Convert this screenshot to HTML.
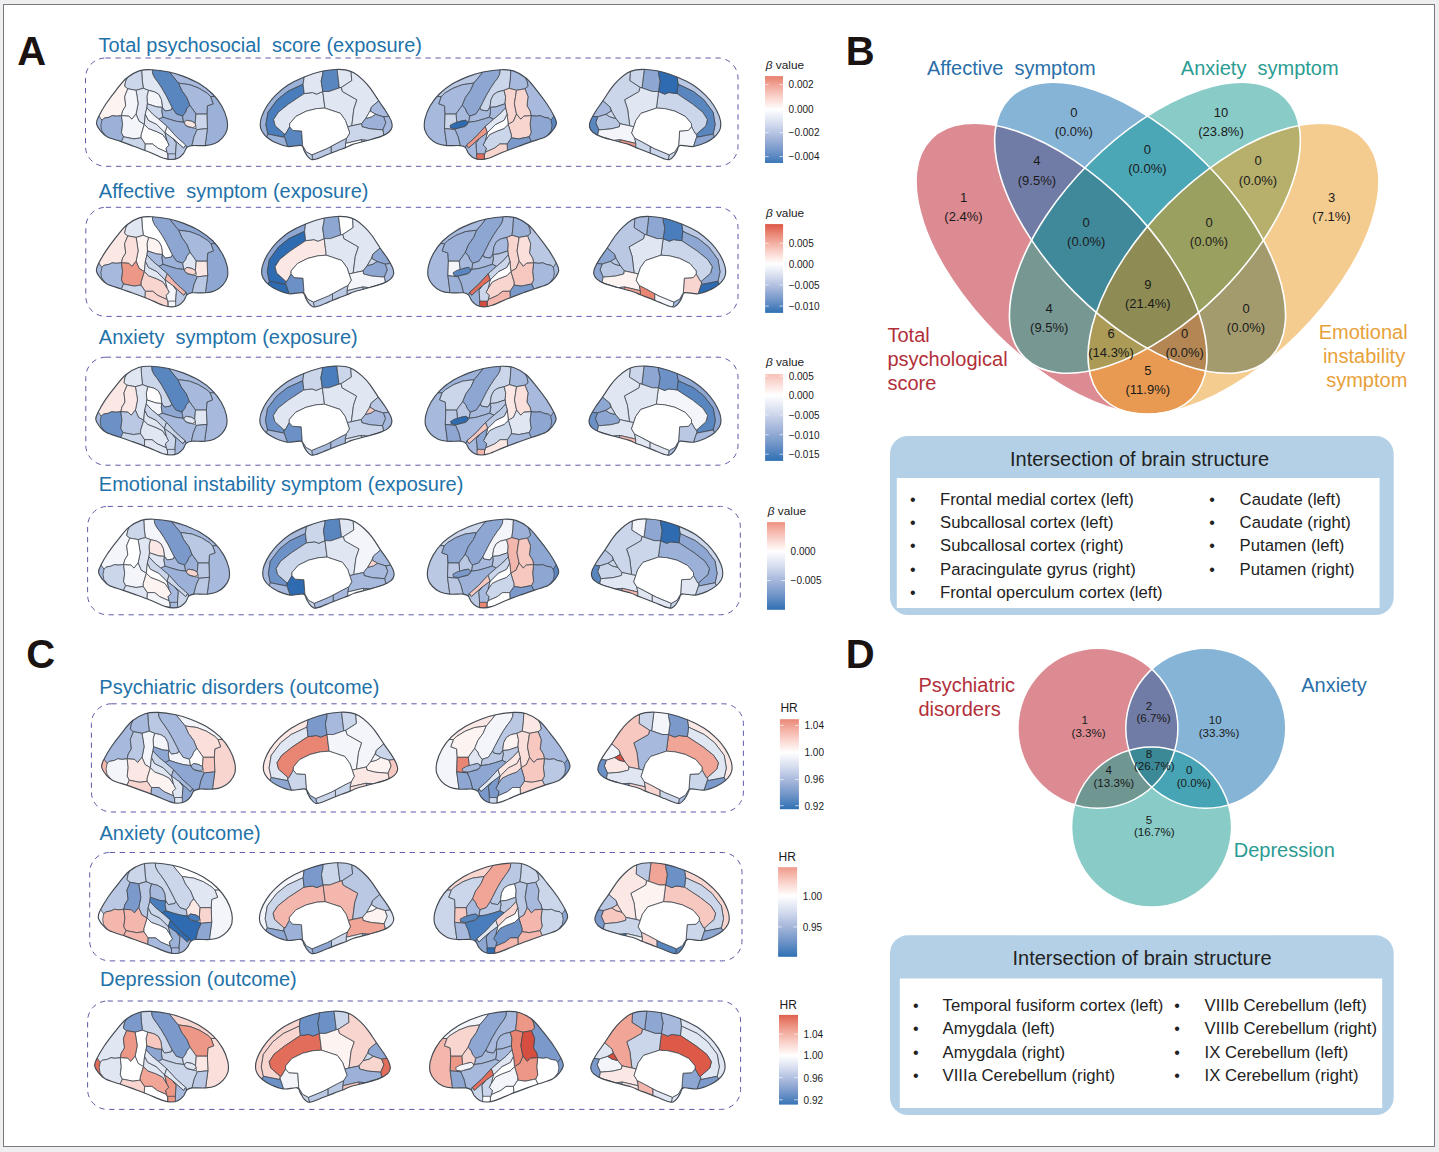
<!DOCTYPE html>
<html><head><meta charset="utf-8"><title>Figure</title>
<style>html,body{margin:0;padding:0;background:#efeff1}body{width:1439px;height:1152px;overflow:hidden}svg{display:block;font-family:"Liberation Sans", sans-serif}</style>
</head><body>
<svg width="1439" height="1152" viewBox="0 0 1439 1152">
<rect x="0" y="0" width="1439" height="1152" fill="#efeff1"/>
<rect x="3.5" y="4.5" width="1431" height="1142" fill="#ffffff" stroke="#7a7a7a" stroke-width="1"/>
<text x="17.3" y="65.3" font-size="40" fill="#1a1311" font-weight="bold">A</text>
<text x="845.8" y="65.2" font-size="40" fill="#1a1311" font-weight="bold">B</text>
<text x="26.3" y="667.9" font-size="40" fill="#1a1311" font-weight="bold">C</text>
<text x="845.8" y="668.1" font-size="40" fill="#1a1311" font-weight="bold">D</text>
<text x="98.5" y="51.5" font-size="20" fill="#1f72a9" xml:space="preserve">Total psychosocial  score (exposure)</text>
<rect x="85.5" y="58" width="652.5" height="108.3" rx="20" ry="20" fill="none" stroke="#5353a3" stroke-width="0.95" stroke-dasharray="5.3 4.7"/>
<clipPath id="c1"><path d="M126.7,78C130.5,74.8 135,72.3 139.1,70.9C143.3,69.6 146.6,69.5 151.6,69.7C156.6,69.9 163.8,70.9 169.1,72C174.5,73.1 178.6,74.5 183.6,76.4C188.6,78.4 194.3,80.7 199.1,83.6C204,86.6 208.8,90.2 212.6,94C216.4,97.7 219.5,102.1 221.9,106.3C224.3,110.6 226,115.4 226.9,119.2C227.7,123.1 227.8,126.5 227.1,129.6C226.3,132.7 224.5,135.5 222.4,137.8C220.4,140.1 217.5,142.2 214.7,143.5C211.8,144.8 209.1,145.2 205.4,145.6C201.6,145.9 195,145.2 191.9,145.6C188.8,145.9 188.1,146.3 186.7,147.6C185.4,148.9 185,151.6 183.6,153.3C182.2,155 180.5,156.9 178.5,158C176.4,159 173.8,159.5 171.2,159.5C168.6,159.5 166.7,159.2 162.9,158C159.1,156.7 153.6,153.8 148.4,151.8C143.3,149.7 136.6,147.3 131.9,145.6C127.2,143.8 124.7,142.9 120.5,141.4C116.4,140 110.4,138.6 107.1,136.8C103.7,135 102.1,132.8 100.3,130.6C98.6,128.4 96.8,125.8 96.5,123.4C96.3,121 97.2,119.4 98.8,116.2C100.4,112.9 103.1,108.2 106,103.8C109,99.4 112.9,94.1 116.4,89.8C119.8,85.5 122.9,81.1 126.7,78Z"/></clipPath>
<path d="M126.7,78C130.5,74.8 135,72.3 139.1,70.9C143.3,69.6 146.6,69.5 151.6,69.7C156.6,69.9 163.8,70.9 169.1,72C174.5,73.1 178.6,74.5 183.6,76.4C188.6,78.4 194.3,80.7 199.1,83.6C204,86.6 208.8,90.2 212.6,94C216.4,97.7 219.5,102.1 221.9,106.3C224.3,110.6 226,115.4 226.9,119.2C227.7,123.1 227.8,126.5 227.1,129.6C226.3,132.7 224.5,135.5 222.4,137.8C220.4,140.1 217.5,142.2 214.7,143.5C211.8,144.8 209.1,145.2 205.4,145.6C201.6,145.9 195,145.2 191.9,145.6C188.8,145.9 188.1,146.3 186.7,147.6C185.4,148.9 185,151.6 183.6,153.3C182.2,155 180.5,156.9 178.5,158C176.4,159 173.8,159.5 171.2,159.5C168.6,159.5 166.7,159.2 162.9,158C159.1,156.7 153.6,153.8 148.4,151.8C143.3,149.7 136.6,147.3 131.9,145.6C127.2,143.8 124.7,142.9 120.5,141.4C116.4,140 110.4,138.6 107.1,136.8C103.7,135 102.1,132.8 100.3,130.6C98.6,128.4 96.8,125.8 96.5,123.4C96.3,121 97.2,119.4 98.8,116.2C100.4,112.9 103.1,108.2 106,103.8C109,99.4 112.9,94.1 116.4,89.8C119.8,85.5 122.9,81.1 126.7,78Z" fill="#ffffff"/>
<g clip-path="url(#c1)" stroke="#41474f" stroke-width="0.8" stroke-linejoin="round">
<path d="M127.2,78L125.7,81.1L124.7,86.2L127.8,88.8L124.7,96.5L125.7,105.8L122.6,111L121.5,115.6L116.4,116.2L112.2,115.6L109.1,117.2L104,118.2L101.9,120.3L90.5,120.3L90.5,62.5L127.2,62.5Z" fill="#fdf3f1"/>
<path d="M101.9,120.3L104,118.2L109.1,117.2L112.2,115.6L116.4,116.2L121.5,115.6L122.6,124.4L121.5,132.7L123.6,136.8L121.5,141.4L121.5,165.7L90.5,165.7L90.5,120.3Z" fill="#9cb1d8"/>
<path d="M90.5,114.1L98.8,115.6L101.9,120.3L100.9,125.4L101.7,130.6L106,136.3L106,165.7L90.5,165.7Z" fill="#a7b9dc"/>
<path d="M169.7,62.5L219.8,62.5L219.8,96.5L210.5,96.5L207.4,93.4L199.1,88.3L189.8,84.7L178.5,83.1L173.3,76.9L169.7,72.3Z" fill="#a7b9dc"/>
<path d="M210.5,96.5L213.1,103.8L207.4,105.8L206.9,114.1L207.4,128.5L205.4,144L205.4,165.7L235.4,165.7L235.4,96.5Z" fill="#9cb1d8"/>
<path d="M178.5,83.1L189.8,84.7L199.1,88.3L207.4,93.4L210.5,96.5L213.1,103.8L207.4,105.8L206.9,114.1L196,114.1L194,111L189.8,105.3L186.7,97.6L181.6,90.3Z" fill="#a7b9dc"/>
<path d="M151.6,62.5L169.7,62.5L169.7,72.3L173.3,76.9L178.5,83.1L181.6,90.3L186.7,97.6L189.8,105.3L186.7,108.9L185.7,112L182.6,116.2L176.4,114.1L172.2,107.9L170.2,103.8L166,95.5L161.9,88.3L157.8,82.1L154.7,78L152.6,73.8Z" fill="#5a86c0"/>
<path d="M141.2,62.5L151.6,62.5L152.6,73.8L154.7,78L157.8,82.1L161.9,88.3L166,95.5L170.2,103.8L172.2,107.9L171.2,110L165,111L162.4,107.4L161.4,99.6L158.8,94.5L154.7,91.9L148.4,90.3L143.3,88.3L142.2,80Z" fill="#e0e7f3"/>
<path d="M116.4,62.5L141.2,62.5L142.2,80L143.3,88.3L136,90.3L127.8,88.8L124.7,86.2L125.7,81.1L127.2,78L116.4,78Z" fill="#cbd6ea"/>
<path d="M148.4,90.3L154.7,91.9L158.8,94.5L161.4,99.6L162.4,107.4L156.7,106.9L147.4,103.8L146.9,96.5Z" fill="#f3f5fa"/>
<path d="M136,90.3L143.3,88.3L148.4,90.3L146.9,96.5L147.4,103.8L146.9,107.9L145.3,114.1L144.3,124.4L139.1,121.3L136,114.1L138.1,103.8L137.1,96.5Z" fill="#e0e7f3"/>
<path d="M127.8,88.8L136,90.3L137.1,96.5L138.1,103.8L136,114.1L131.9,119.2L128.8,116.2L121.5,115.6L122.6,111L125.7,105.8L124.7,96.5Z" fill="#f3f5fa"/>
<path d="M121.5,115.6L128.8,116.2L131.9,119.2L136,114.1L139.1,121.3L144.3,124.4L141.2,134.7L141.2,137.8L134,138.9L123.6,136.8L121.5,132.7L122.6,124.4Z" fill="#f3f5fa"/>
<path d="M121.5,141.4L123.6,136.8L134,138.9L141.2,137.8L145.3,144L144.3,165.7L121.5,165.7Z" fill="#cbd6ea"/>
<path d="M144.3,124.4L148.4,128.5L156.7,131.6L162.9,134.7L167.1,140.9L169.1,145.1L166,148.1L167.1,152.3L157.8,148.1L152.6,144L145.3,144L141.2,137.8L141.2,134.7Z" fill="#ffffff"/>
<path d="M145.3,144L152.6,144L157.8,148.1L167.1,152.3L168.1,155.4L168.1,165.7L144.3,165.7Z" fill="#f3f5fa"/>
<path d="M145.3,114.1L148.4,120.3L156.7,124.4L165,132.7L167.1,140.9L162.9,134.7L156.7,131.6L148.4,128.5L144.3,124.4Z" fill="#e0e7f3"/>
<path d="M147.4,103.8L156.7,106.9L162.4,107.4L161.9,111L162.9,117.2L158.8,119.2L152.6,114.1L146.9,107.9Z" fill="#cbd6ea"/>
<path d="M161.9,111L162.4,107.4L165,111L171.2,110L172.2,107.9L176.4,114.1L182.6,116.2L183.6,122.3L176.4,121.3L169.1,119.2L162.9,117.2Z" fill="#9cb1d8"/>
<path d="M162.9,117.2L169.1,119.2L176.4,121.3L183.6,122.3L186.7,126.5L196,128.5L197.1,129.6L194,136.8L191.9,145.6L191.9,148.1L186.7,148.1L185.7,145.1L176.4,136.8L167.1,126.5L158.8,119.2Z" fill="#9cb1d8"/>
<path d="M146.9,107.9L152.6,114.1L158.8,119.2L167.1,126.5L165,132.7L156.7,124.4L148.4,120.3L145.3,114.1Z" fill="#f3f5fa"/>
<path d="M167.1,126.5L176.4,136.8L185.7,145.1L183.6,148.1L173.3,138.9L165,132.7Z" fill="#f3f5fa"/>
<path d="M189.8,105.3L194,111L196,114.1L195.2,123.4L191.9,121.3L186.7,120.3L184.7,121.8L183.6,122.3L182.6,116.2L185.7,112L186.7,108.9Z" fill="#9cb1d8"/>
<path d="M196,114.1L206.9,114.1L207.4,128.5L197.1,129.6L196,128.5L195.8,126L195.2,123.4Z" fill="#cbd6ea"/>
<path d="M184.7,121.8L186.7,120.3L191.9,121.3L195.2,123.4L195.8,126L192.9,127.7L187.8,126.3L184.7,124.2Z" fill="#fbe8e5"/>
<path d="M197.1,129.6L207.4,128.5L205.4,144L205.4,165.7L191.9,165.7L191.9,145.6L194,136.8Z" fill="#bac8e3"/>
<path d="M167.1,140.9L165,132.7L173.3,138.9L176.4,143L175.4,155.4L172.2,165.7L168.1,165.7L168.1,155.4L167.1,152.3L166,148.1L169.1,145.1Z" fill="#bac8e3"/>
<path d="M173.3,138.9L183.6,148.1L185.7,145.1L186.7,148.1L191.9,148.1L191.9,165.7L172.2,165.7L175.4,155.4L176.4,143Z" fill="#bac8e3"/>
<path d="M168.1,153.8L175.6,153.8L175.6,165.7L168.1,165.7Z" fill="#bac8e3"/>
</g>
<path d="M126.7,78C130.5,74.8 135,72.3 139.1,70.9C143.3,69.6 146.6,69.5 151.6,69.7C156.6,69.9 163.8,70.9 169.1,72C174.5,73.1 178.6,74.5 183.6,76.4C188.6,78.4 194.3,80.7 199.1,83.6C204,86.6 208.8,90.2 212.6,94C216.4,97.7 219.5,102.1 221.9,106.3C224.3,110.6 226,115.4 226.9,119.2C227.7,123.1 227.8,126.5 227.1,129.6C226.3,132.7 224.5,135.5 222.4,137.8C220.4,140.1 217.5,142.2 214.7,143.5C211.8,144.8 209.1,145.2 205.4,145.6C201.6,145.9 195,145.2 191.9,145.6C188.8,145.9 188.1,146.3 186.7,147.6C185.4,148.9 185,151.6 183.6,153.3C182.2,155 180.5,156.9 178.5,158C176.4,159 173.8,159.5 171.2,159.5C168.6,159.5 166.7,159.2 162.9,158C159.1,156.7 153.6,153.8 148.4,151.8C143.3,149.7 136.6,147.3 131.9,145.6C127.2,143.8 124.7,142.9 120.5,141.4C116.4,140 110.4,138.6 107.1,136.8C103.7,135 102.1,132.8 100.3,130.6C98.6,128.4 96.8,125.8 96.5,123.4C96.3,121 97.2,119.4 98.8,116.2C100.4,112.9 103.1,108.2 106,103.8C109,99.4 112.9,94.1 116.4,89.8C119.8,85.5 122.9,81.1 126.7,78Z" fill="none" stroke="#434951" stroke-width="1.15"/>
<clipPath id="c2"><path d="M260.2,124.7C260.2,122.3 260.6,119.5 261.8,116.4C262.9,113.3 264.7,109.5 266.9,106C269.2,102.6 271.8,99.1 275.2,95.7C278.6,92.2 282.8,88.4 287.6,85.3C292.4,82.2 298.5,79.3 304.2,77C309.9,74.6 316.6,72.5 321.8,71.3C326.9,70 331.2,69.7 335.2,69.5C339.2,69.3 342.4,69.4 345.5,69.9C348.7,70.5 350.9,71.1 353.8,72.8C356.8,74.5 360.4,77.5 363.1,80.1C365.9,82.7 367.8,84.9 370.4,88.4C373,91.9 376.1,97 378.7,100.8C381.2,104.7 383.8,107.9 385.9,111.2C388,114.5 390,118 391.1,120.6C392.1,123.2 392.4,124.9 392.1,126.8C391.8,128.7 390.7,130.4 389,132C387.3,133.5 385.2,134.8 381.8,136.1C378.3,137.5 373.1,138.9 368.3,140.3C363.5,141.7 356.6,143.2 352.8,144.4C349,145.7 348.1,146.5 345.5,147.6C343,148.6 340.4,149.5 337.3,150.7C334.2,151.9 330.4,153.4 326.9,154.8C323.5,156.2 319.2,158.2 316.6,159C314,159.8 313,160 311.4,159.5C309.9,159 308.5,157.3 307.3,155.9C306.1,154.4 305.2,152.4 304.2,150.7C303.1,148.9 303.8,146.2 301.1,145.5C298.3,144.8 291.9,147 287.6,146.5C283.3,146 278.6,143.9 275.2,142.4C271.8,140.8 269.2,139.1 266.9,137.2C264.7,135.3 262.9,133 261.8,131C260.6,128.9 260.2,127.1 260.2,124.7Z"/></clipPath>
<path d="M260.2,124.7C260.2,122.3 260.6,119.5 261.8,116.4C262.9,113.3 264.7,109.5 266.9,106C269.2,102.6 271.8,99.1 275.2,95.7C278.6,92.2 282.8,88.4 287.6,85.3C292.4,82.2 298.5,79.3 304.2,77C309.9,74.6 316.6,72.5 321.8,71.3C326.9,70 331.2,69.7 335.2,69.5C339.2,69.3 342.4,69.4 345.5,69.9C348.7,70.5 350.9,71.1 353.8,72.8C356.8,74.5 360.4,77.5 363.1,80.1C365.9,82.7 367.8,84.9 370.4,88.4C373,91.9 376.1,97 378.7,100.8C381.2,104.7 383.8,107.9 385.9,111.2C388,114.5 390,118 391.1,120.6C392.1,123.2 392.4,124.9 392.1,126.8C391.8,128.7 390.7,130.4 389,132C387.3,133.5 385.2,134.8 381.8,136.1C378.3,137.5 373.1,138.9 368.3,140.3C363.5,141.7 356.6,143.2 352.8,144.4C349,145.7 348.1,146.5 345.5,147.6C343,148.6 340.4,149.5 337.3,150.7C334.2,151.9 330.4,153.4 326.9,154.8C323.5,156.2 319.2,158.2 316.6,159C314,159.8 313,160 311.4,159.5C309.9,159 308.5,157.3 307.3,155.9C306.1,154.4 305.2,152.4 304.2,150.7C303.1,148.9 303.8,146.2 301.1,145.5C298.3,144.8 291.9,147 287.6,146.5C283.3,146 278.6,143.9 275.2,142.4C271.8,140.8 269.2,139.1 266.9,137.2C264.7,135.3 262.9,133 261.8,131C260.6,128.9 260.2,127.1 260.2,124.7Z" fill="#ffffff"/>
<g clip-path="url(#c2)" stroke="#41474f" stroke-width="0.8" stroke-linejoin="round">
<path d="M254.5,62.4L304.2,62.4L304.2,77L303.1,84.2L287.6,91.5L277.3,99.8L268,112.3L265.9,124.7L268,134.1L254.5,166.2Z" fill="#9cb1d8"/>
<path d="M303.1,84.2L304.2,93.6L288.6,104L278.3,112.3L273.6,119.5L275.2,125.8L284.5,134.1L283.5,137.2L268,134.1L265.9,124.7L268,112.3L277.3,99.8L287.6,91.5Z" fill="#4a7dbb"/>
<path d="M304.2,93.6L312.4,92.5L316.6,94.1L322.8,91.5L324.9,108.1L316.6,108.6L306.2,111.2L295.9,116.4L289.7,123.7L289.7,126.8L285.5,134.1L284.5,134.1L275.2,125.8L273.6,119.5L278.3,112.3L288.6,104Z" fill="#e0e7f3"/>
<path d="M304.2,62.4L322.8,62.4L322.8,73.9L321.2,81.1L322.8,91.5L316.6,94.1L312.4,92.5L304.2,93.6L303.1,84.2L304.2,77Z" fill="#e0e7f3"/>
<path d="M322.8,62.4L337.3,62.4L337.3,70.7L339.3,87.9L329,91.5L322.8,91.5L321.2,81.1L322.8,73.9Z" fill="#5a86c0"/>
<path d="M337.3,62.4L351.8,62.4L351.2,73.3L351.8,80.6L341.4,87.4L339.3,87.9L337.3,70.7Z" fill="#e0e7f3"/>
<path d="M322.8,91.5L329,91.5L339.3,87.9L341.4,87.4L342.4,91.5L356.9,99.8L353.8,109.2L351.8,125.8L347.6,126.8L345.5,120.6L340.4,113.3L331.1,110.2L324.9,108.1Z" fill="#e0e7f3"/>
<path d="M351.8,62.4L399.3,62.4L399.3,100.8L378.7,100.8L371.4,107.1L369.3,112.3L365.7,118.5L361.6,123.7L351.8,125.8L353.8,109.2L356.9,99.8L342.4,91.5L341.4,87.4L351.8,80.6L351.2,73.3Z" fill="#e0e7f3"/>
<path d="M378.7,100.8L399.3,100.8L399.3,116.4L388,116.4L383.8,116.9L375.5,114.3L370.4,111.2L371.4,107.1Z" fill="#a7b9dc"/>
<path d="M365.7,118.5L371.4,116.9L375.5,114.3L383.8,116.9L385.9,122.6L382.8,129.9L370.4,128.9L362.1,126.8L361.6,123.7Z" fill="#9cb1d8"/>
<path d="M369.3,112.3L370.4,111.2L375.5,114.3L371.4,116.9L365.7,118.5Z" fill="#ffffff"/>
<path d="M383.8,116.9L388,116.4L399.3,116.4L399.3,135.1L383.8,135.1L382.8,129.9L385.9,122.6Z" fill="#a7b9dc"/>
<path d="M351.8,125.8L361.6,123.7L362.1,126.8L370.4,128.9L382.8,129.9L383.8,135.1L381.8,136.4L368.3,140.5L361.1,139.8L345.5,143.4L346.6,138.2L349.7,133L347.6,126.8Z" fill="#cbd6ea"/>
<path d="M361.1,139.8L368.3,140.5L381.8,136.4L383.8,135.1L399.3,135.1L399.3,155.9L362.1,155.9L362.1,142.9Z" fill="#a7b9dc"/>
<path d="M345.5,143.4L361.1,139.8L362.1,142.9L362.1,155.9L345.5,155.9Z" fill="#ffffff"/>
<path d="M346.6,138.2L345.5,143.4L345.5,155.9L331.1,161.1L331.1,146.5L340.4,141.3Z" fill="#bac8e3"/>
<path d="M331.1,146.5L331.1,161.1L316.6,166.2L312.4,157.9L311.9,154.8L326.9,148.6Z" fill="#bac8e3"/>
<path d="M302.6,145.5L306.2,151.7L311.9,154.8L312.4,157.9L316.6,166.2L300,166.2L300,145.5Z" fill="#cbd6ea"/>
<path d="M289.7,126.8L292.8,130.4L301.6,131L302.6,145.5L300,145.5L300,166.2L287.6,166.2L287.6,146.5L284.5,137.2L284.5,134.1L285.5,134.1Z" fill="#5a86c0"/>
<path d="M268,134.1L283.5,137.2L284.5,137.2L287.6,146.5L287.6,166.2L254.5,166.2Z" fill="#9cb1d8"/>
<path d="M289.7,123.7L295.9,116.4L306.2,111.2L316.6,108.6L324.9,108.1L331.1,110.2L340.4,113.3L345.5,120.6L347.6,126.8L349.7,133L346.6,138.2L340.4,141.3L326.9,148.6L311.9,154.8L306.2,151.7L302.6,145.5L301.6,131L292.8,130.4L289.7,126.8Z" fill="#ffffff"/>
</g>
<path d="M260.2,124.7C260.2,122.3 260.6,119.5 261.8,116.4C262.9,113.3 264.7,109.5 266.9,106C269.2,102.6 271.8,99.1 275.2,95.7C278.6,92.2 282.8,88.4 287.6,85.3C292.4,82.2 298.5,79.3 304.2,77C309.9,74.6 316.6,72.5 321.8,71.3C326.9,70 331.2,69.7 335.2,69.5C339.2,69.3 342.4,69.4 345.5,69.9C348.7,70.5 350.9,71.1 353.8,72.8C356.8,74.5 360.4,77.5 363.1,80.1C365.9,82.7 367.8,84.9 370.4,88.4C373,91.9 376.1,97 378.7,100.8C381.2,104.7 383.8,107.9 385.9,111.2C388,114.5 390,118 391.1,120.6C392.1,123.2 392.4,124.9 392.1,126.8C391.8,128.7 390.7,130.4 389,132C387.3,133.5 385.2,134.8 381.8,136.1C378.3,137.5 373.1,138.9 368.3,140.3C363.5,141.7 356.6,143.2 352.8,144.4C349,145.7 348.1,146.5 345.5,147.6C343,148.6 340.4,149.5 337.3,150.7C334.2,151.9 330.4,153.4 326.9,154.8C323.5,156.2 319.2,158.2 316.6,159C314,159.8 313,160 311.4,159.5C309.9,159 308.5,157.3 307.3,155.9C306.1,154.4 305.2,152.4 304.2,150.7C303.1,148.9 303.8,146.2 301.1,145.5C298.3,144.8 291.9,147 287.6,146.5C283.3,146 278.6,143.9 275.2,142.4C271.8,140.8 269.2,139.1 266.9,137.2C264.7,135.3 262.9,133 261.8,131C260.6,128.9 260.2,127.1 260.2,124.7Z" fill="none" stroke="#434951" stroke-width="1.15"/>
<clipPath id="c3"><path d="M525.9,78C522.1,74.8 517.6,72.3 513.4,70.9C509.2,69.6 505.9,69.5 500.9,69.7C495.8,69.9 488.5,70.9 483.1,72C477.8,73.1 473.6,74.5 468.5,76.4C463.5,78.4 457.8,80.7 452.9,83.6C448,86.6 443.2,90.2 439.3,94C435.5,97.7 432.3,102.1 429.9,106.3C427.5,110.6 425.8,115.4 424.9,119.2C424.1,123.1 424,126.5 424.7,129.6C425.5,132.7 427.3,135.5 429.4,137.8C431.5,140.1 434.4,142.2 437.2,143.5C440.1,144.8 442.8,145.2 446.6,145.6C450.5,145.9 457.1,145.2 460.2,145.6C463.3,145.9 464,146.3 465.4,147.6C466.8,148.9 467.1,151.6 468.5,153.3C469.9,155 471.7,156.9 473.8,158C475.8,159 478.5,159.5 481.1,159.5C483.7,159.5 485.6,159.2 489.4,158C493.2,156.7 498.8,153.8 504,151.8C509.2,149.7 516,147.3 520.7,145.6C525.4,143.8 528,142.9 532.2,141.4C536.4,140 542.4,138.6 545.7,136.8C549.1,135 550.8,132.8 552.5,130.6C554.3,128.4 556.1,125.8 556.4,123.4C556.6,121 555.7,119.4 554.1,116.2C552.5,112.9 549.7,108.2 546.8,103.8C543.8,99.4 539.8,94.1 536.4,89.8C532.9,85.5 529.7,81.1 525.9,78Z"/></clipPath>
<path d="M525.9,78C522.1,74.8 517.6,72.3 513.4,70.9C509.2,69.6 505.9,69.5 500.9,69.7C495.8,69.9 488.5,70.9 483.1,72C477.8,73.1 473.6,74.5 468.5,76.4C463.5,78.4 457.8,80.7 452.9,83.6C448,86.6 443.2,90.2 439.3,94C435.5,97.7 432.3,102.1 429.9,106.3C427.5,110.6 425.8,115.4 424.9,119.2C424.1,123.1 424,126.5 424.7,129.6C425.5,132.7 427.3,135.5 429.4,137.8C431.5,140.1 434.4,142.2 437.2,143.5C440.1,144.8 442.8,145.2 446.6,145.6C450.5,145.9 457.1,145.2 460.2,145.6C463.3,145.9 464,146.3 465.4,147.6C466.8,148.9 467.1,151.6 468.5,153.3C469.9,155 471.7,156.9 473.8,158C475.8,159 478.5,159.5 481.1,159.5C483.7,159.5 485.6,159.2 489.4,158C493.2,156.7 498.8,153.8 504,151.8C509.2,149.7 516,147.3 520.7,145.6C525.4,143.8 528,142.9 532.2,141.4C536.4,140 542.4,138.6 545.7,136.8C549.1,135 550.8,132.8 552.5,130.6C554.3,128.4 556.1,125.8 556.4,123.4C556.6,121 555.7,119.4 554.1,116.2C552.5,112.9 549.7,108.2 546.8,103.8C543.8,99.4 539.8,94.1 536.4,89.8C532.9,85.5 529.7,81.1 525.9,78Z" fill="#ffffff"/>
<g clip-path="url(#c3)" stroke="#41474f" stroke-width="0.8" stroke-linejoin="round">
<path d="M525.4,78L527,81.1L528,86.2L524.9,88.8L528,96.5L527,105.8L530.1,111L531.1,115.6L536.4,116.2L540.5,115.6L543.7,117.2L548.9,118.2L551,120.3L562.4,120.3L562.4,62.5L525.4,62.5Z" fill="#a7b9dc"/>
<path d="M551,120.3L548.9,118.2L543.7,117.2L540.5,115.6L536.4,116.2L531.1,115.6L530.1,124.4L531.1,132.7L529.1,136.8L531.1,141.4L531.1,165.7L562.4,165.7L562.4,120.3Z" fill="#8ea7d2"/>
<path d="M562.4,114.1L554.1,115.6L551,120.3L552,125.4L551.2,130.6L546.8,136.3L546.8,165.7L562.4,165.7Z" fill="#5a86c0"/>
<path d="M482.6,62.5L432,62.5L432,96.5L441.4,96.5L444.5,93.4L452.9,88.3L462.3,84.7L473.8,83.1L479,76.9L482.6,72.3Z" fill="#bac8e3"/>
<path d="M441.4,96.5L438.8,103.8L444.5,105.8L445.1,114.1L444.5,128.5L446.6,144L446.6,165.7L416.4,165.7L416.4,96.5Z" fill="#a7b9dc"/>
<path d="M473.8,83.1L462.3,84.7L452.9,88.3L444.5,93.4L441.4,96.5L438.8,103.8L444.5,105.8L445.1,114.1L456,114.1L458.1,111L462.3,105.3L465.4,97.6L470.6,90.3Z" fill="#a7b9dc"/>
<path d="M500.9,62.5L482.6,62.5L482.6,72.3L479,76.9L473.8,83.1L470.6,90.3L465.4,97.6L462.3,105.3L465.4,108.9L466.5,112L469.6,116.2L475.8,114.1L480,107.9L482.1,103.8L486.3,95.5L490.5,88.3L494.6,82.1L497.8,78L499.8,73.8Z" fill="#8ea7d2"/>
<path d="M511.3,62.5L500.9,62.5L499.8,73.8L497.8,78L494.6,82.1L490.5,88.3L486.3,95.5L482.1,103.8L480,107.9L481.1,110L487.3,111L489.9,107.4L491,99.6L493.6,94.5L497.8,91.9L504,90.3L509.2,88.3L510.3,80Z" fill="#cbd6ea"/>
<path d="M536.4,62.5L511.3,62.5L510.3,80L509.2,88.3L516.5,90.3L524.9,88.8L528,86.2L527,81.1L525.4,78L536.4,78Z" fill="#a7b9dc"/>
<path d="M504,90.3L497.8,91.9L493.6,94.5L491,99.6L489.9,107.4L495.7,106.9L505.1,103.8L505.6,96.5Z" fill="#cbd6ea"/>
<path d="M516.5,90.3L509.2,88.3L504,90.3L505.6,96.5L505.1,103.8L505.6,107.9L507.1,114.1L508.2,124.4L513.4,121.3L516.5,114.1L514.4,103.8L515.5,96.5Z" fill="#f8d5cf"/>
<path d="M524.9,88.8L516.5,90.3L515.5,96.5L514.4,103.8L516.5,114.1L520.7,119.2L523.8,116.2L531.1,115.6L530.1,111L527,105.8L528,96.5Z" fill="#f8d5cf"/>
<path d="M531.1,115.6L523.8,116.2L520.7,119.2L516.5,114.1L513.4,121.3L508.2,124.4L511.3,134.7L511.3,137.8L518.6,138.9L529.1,136.8L531.1,132.7L530.1,124.4Z" fill="#f8d5cf"/>
<path d="M531.1,141.4L529.1,136.8L518.6,138.9L511.3,137.8L507.1,144L508.2,165.7L531.1,165.7Z" fill="#7b99ca"/>
<path d="M508.2,124.4L504,128.5L495.7,131.6L489.4,134.7L485.2,140.9L483.1,145.1L486.3,148.1L485.2,152.3L494.6,148.1L499.8,144L507.1,144L511.3,137.8L511.3,134.7Z" fill="#cbd6ea"/>
<path d="M507.1,144L499.8,144L494.6,148.1L485.2,152.3L484.2,155.4L484.2,165.7L508.2,165.7Z" fill="#f8d5cf"/>
<path d="M507.1,114.1L504,120.3L495.7,124.4L487.3,132.7L485.2,140.9L489.4,134.7L495.7,131.6L504,128.5L508.2,124.4Z" fill="#ffffff"/>
<path d="M505.1,103.8L495.7,106.9L489.9,107.4L490.5,111L489.4,117.2L493.6,119.2L499.8,114.1L505.6,107.9Z" fill="#a7b9dc"/>
<path d="M490.5,111L489.9,107.4L487.3,111L481.1,110L480,107.9L475.8,114.1L469.6,116.2L468.5,122.3L475.8,121.3L483.1,119.2L489.4,117.2Z" fill="#a7b9dc"/>
<path d="M489.4,117.2L483.1,119.2L475.8,121.3L468.5,122.3L465.4,126.5L456,128.5L455,129.6L458.1,136.8L460.2,145.6L460.2,148.1L465.4,148.1L466.5,145.1L475.8,136.8L485.2,126.5L493.6,119.2Z" fill="#9cb1d8"/>
<path d="M505.6,107.9L499.8,114.1L493.6,119.2L485.2,126.5L487.3,132.7L495.7,124.4L504,120.3L507.1,114.1Z" fill="#e0e7f3"/>
<path d="M485.2,126.5L475.8,136.8L466.5,145.1L468.5,148.1L479,138.9L487.3,132.7Z" fill="#ed9787"/>
<path d="M462.3,105.3L458.1,111L456,114.1L456.9,123.4L460.2,121.3L465.4,120.3L467.5,121.8L468.5,122.3L469.6,116.2L466.5,112L465.4,108.9Z" fill="#a7b9dc"/>
<path d="M456,114.1L445.1,114.1L444.5,128.5L455,129.6L456,128.5L456.2,126L456.9,123.4Z" fill="#cbd6ea"/>
<path d="M467.5,121.8L465.4,120.3L460.2,121.3L453.9,123.2L450,125.4L450.6,128.1L456,128.7L459.2,127.7L464.4,126.3L467.5,124.2Z" fill="#2f6bb0"/>
<path d="M455,129.6L444.5,128.5L446.6,144L446.6,165.7L460.2,165.7L460.2,145.6L458.1,136.8Z" fill="#a7b9dc"/>
<path d="M485.2,140.9L487.3,132.7L479,138.9L475.8,143L476.9,155.4L480,165.7L484.2,165.7L484.2,155.4L485.2,152.3L486.3,148.1L483.1,145.1Z" fill="#a7b9dc"/>
<path d="M479,138.9L468.5,148.1L466.5,145.1L465.4,148.1L460.2,148.1L460.2,165.7L480,165.7L476.9,155.4L475.8,143Z" fill="#a7b9dc"/>
<path d="M484.2,153.8L476.7,153.8L476.7,165.7L484.2,165.7Z" fill="#e26d5b"/>
</g>
<path d="M525.9,78C522.1,74.8 517.6,72.3 513.4,70.9C509.2,69.6 505.9,69.5 500.9,69.7C495.8,69.9 488.5,70.9 483.1,72C477.8,73.1 473.6,74.5 468.5,76.4C463.5,78.4 457.8,80.7 452.9,83.6C448,86.6 443.2,90.2 439.3,94C435.5,97.7 432.3,102.1 429.9,106.3C427.5,110.6 425.8,115.4 424.9,119.2C424.1,123.1 424,126.5 424.7,129.6C425.5,132.7 427.3,135.5 429.4,137.8C431.5,140.1 434.4,142.2 437.2,143.5C440.1,144.8 442.8,145.2 446.6,145.6C450.5,145.9 457.1,145.2 460.2,145.6C463.3,145.9 464,146.3 465.4,147.6C466.8,148.9 467.1,151.6 468.5,153.3C469.9,155 471.7,156.9 473.8,158C475.8,159 478.5,159.5 481.1,159.5C483.7,159.5 485.6,159.2 489.4,158C493.2,156.7 498.8,153.8 504,151.8C509.2,149.7 516,147.3 520.7,145.6C525.4,143.8 528,142.9 532.2,141.4C536.4,140 542.4,138.6 545.7,136.8C549.1,135 550.8,132.8 552.5,130.6C554.3,128.4 556.1,125.8 556.4,123.4C556.6,121 555.7,119.4 554.1,116.2C552.5,112.9 549.7,108.2 546.8,103.8C543.8,99.4 539.8,94.1 536.4,89.8C532.9,85.5 529.7,81.1 525.9,78Z" fill="none" stroke="#434951" stroke-width="1.15"/>
<clipPath id="c4"><path d="M720.8,124.7C720.8,122.3 720.4,119.5 719.3,116.4C718.1,113.3 716.3,109.5 714.1,106C711.9,102.6 709.3,99.1 705.9,95.7C702.4,92.2 698.3,88.4 693.5,85.3C688.7,82.2 682.7,79.3 677,77C671.4,74.6 664.7,72.5 659.5,71.3C654.4,70 650.1,69.7 646.1,69.5C642.2,69.3 638.9,69.4 635.8,69.9C632.8,70.5 630.5,71.1 627.6,72.8C624.7,74.5 621.1,77.5 618.3,80.1C615.6,82.7 613.7,84.9 611.1,88.4C608.6,91.9 605.5,97 602.9,100.8C600.3,104.7 597.7,107.9 595.7,111.2C593.6,114.5 591.6,118 590.5,120.6C589.5,123.2 589.2,124.9 589.5,126.8C589.8,128.7 590.9,130.4 592.6,132C594.3,133.5 596.4,134.8 599.8,136.1C603.2,137.5 608.4,138.9 613.2,140.3C618,141.7 624.9,143.2 628.6,144.4C632.4,145.7 633.3,146.5 635.8,147.6C638.4,148.6 641,149.5 644.1,150.7C647.2,151.9 650.9,153.4 654.4,154.8C657.8,156.2 662.1,158.2 664.7,159C667.3,159.8 668.3,160 669.8,159.5C671.4,159 672.7,157.3 673.9,155.9C675.1,154.4 676,152.4 677,150.7C678.1,148.9 677.4,146.2 680.1,145.5C682.9,144.8 689.2,147 693.5,146.5C697.8,146 702.4,143.9 705.9,142.4C709.3,140.8 711.9,139.1 714.1,137.2C716.3,135.3 718.1,133 719.3,131C720.4,128.9 720.8,127.1 720.8,124.7Z"/></clipPath>
<path d="M720.8,124.7C720.8,122.3 720.4,119.5 719.3,116.4C718.1,113.3 716.3,109.5 714.1,106C711.9,102.6 709.3,99.1 705.9,95.7C702.4,92.2 698.3,88.4 693.5,85.3C688.7,82.2 682.7,79.3 677,77C671.4,74.6 664.7,72.5 659.5,71.3C654.4,70 650.1,69.7 646.1,69.5C642.2,69.3 638.9,69.4 635.8,69.9C632.8,70.5 630.5,71.1 627.6,72.8C624.7,74.5 621.1,77.5 618.3,80.1C615.6,82.7 613.7,84.9 611.1,88.4C608.6,91.9 605.5,97 602.9,100.8C600.3,104.7 597.7,107.9 595.7,111.2C593.6,114.5 591.6,118 590.5,120.6C589.5,123.2 589.2,124.9 589.5,126.8C589.8,128.7 590.9,130.4 592.6,132C594.3,133.5 596.4,134.8 599.8,136.1C603.2,137.5 608.4,138.9 613.2,140.3C618,141.7 624.9,143.2 628.6,144.4C632.4,145.7 633.3,146.5 635.8,147.6C638.4,148.6 641,149.5 644.1,150.7C647.2,151.9 650.9,153.4 654.4,154.8C657.8,156.2 662.1,158.2 664.7,159C667.3,159.8 668.3,160 669.8,159.5C671.4,159 672.7,157.3 673.9,155.9C675.1,154.4 676,152.4 677,150.7C678.1,148.9 677.4,146.2 680.1,145.5C682.9,144.8 689.2,147 693.5,146.5C697.8,146 702.4,143.9 705.9,142.4C709.3,140.8 711.9,139.1 714.1,137.2C716.3,135.3 718.1,133 719.3,131C720.4,128.9 720.8,127.1 720.8,124.7Z" fill="#ffffff"/>
<g clip-path="url(#c4)" stroke="#41474f" stroke-width="0.8" stroke-linejoin="round">
<path d="M726.5,62.4L677,62.4L677,77L678.1,84.2L693.5,91.5L703.8,99.8L713.1,112.3L715.1,124.7L713.1,134.1L726.5,166.2Z" fill="#bac8e3"/>
<path d="M678.1,84.2L677,93.6L692.5,104L702.8,112.3L707.4,119.5L705.9,125.8L696.6,134.1L697.6,137.2L713.1,134.1L715.1,124.7L713.1,112.3L703.8,99.8L693.5,91.5Z" fill="#5a86c0"/>
<path d="M677,93.6L668.8,92.5L664.7,94.1L658.5,91.5L656.4,108.1L664.7,108.6L675,111.2L685.3,116.4L691.5,123.7L691.5,126.8L695.6,134.1L696.6,134.1L705.9,125.8L707.4,119.5L702.8,112.3L692.5,104Z" fill="#cbd6ea"/>
<path d="M677,62.4L658.5,62.4L658.5,73.9L660,81.1L658.5,91.5L664.7,94.1L668.8,92.5L677,93.6L678.1,84.2L677,77Z" fill="#2f6bb0"/>
<path d="M658.5,62.4L644.1,62.4L644.1,70.7L642,87.9L652.3,91.5L658.5,91.5L660,81.1L658.5,73.9Z" fill="#8ea7d2"/>
<path d="M644.1,62.4L629.7,62.4L630.2,73.3L629.7,80.6L640,87.4L642,87.9L644.1,70.7Z" fill="#cbd6ea"/>
<path d="M658.5,91.5L652.3,91.5L642,87.9L640,87.4L638.9,91.5L624.5,99.8L627.6,109.2L629.7,125.8L633.8,126.8L635.8,120.6L641,113.3L650.3,110.2L656.4,108.1Z" fill="#e0e7f3"/>
<path d="M629.7,62.4L582.3,62.4L582.3,100.8L602.9,100.8L610.1,107.1L612.2,112.3L615.8,118.5L619.9,123.7L629.7,125.8L627.6,109.2L624.5,99.8L638.9,91.5L640,87.4L629.7,80.6L630.2,73.3Z" fill="#cbd6ea"/>
<path d="M602.9,100.8L582.3,100.8L582.3,116.4L593.6,116.4L597.7,116.9L606,114.3L611.1,111.2L610.1,107.1Z" fill="#a7b9dc"/>
<path d="M615.8,118.5L610.1,116.9L606,114.3L597.7,116.9L595.7,122.6L598.8,129.9L611.1,128.9L619.4,126.8L619.9,123.7Z" fill="#bac8e3"/>
<path d="M612.2,112.3L611.1,111.2L606,114.3L610.1,116.9L615.8,118.5Z" fill="#cbd6ea"/>
<path d="M597.7,116.9L593.6,116.4L582.3,116.4L582.3,135.1L597.7,135.1L598.8,129.9L595.7,122.6Z" fill="#5a86c0"/>
<path d="M629.7,125.8L619.9,123.7L619.4,126.8L611.1,128.9L598.8,129.9L597.7,135.1L599.8,136.4L613.2,140.5L620.4,139.8L635.8,143.4L634.8,138.2L631.7,133L633.8,126.8Z" fill="#f3f5fa"/>
<path d="M620.4,139.8L613.2,140.5L599.8,136.4L597.7,135.1L582.3,135.1L582.3,155.9L619.4,155.9L619.4,142.9Z" fill="#bac8e3"/>
<path d="M635.8,143.4L620.4,139.8L619.4,142.9L619.4,155.9L635.8,155.9Z" fill="#ed9787"/>
<path d="M634.8,138.2L635.8,143.4L635.8,155.9L650.3,161.1L650.3,146.5L641,141.3Z" fill="#cbd6ea"/>
<path d="M650.3,146.5L650.3,161.1L664.7,166.2L668.8,157.9L669.3,154.8L654.4,148.6Z" fill="#cbd6ea"/>
<path d="M678.6,145.5L675,151.7L669.3,154.8L668.8,157.9L664.7,166.2L681.2,166.2L681.2,145.5Z" fill="#cbd6ea"/>
<path d="M691.5,126.8L688.4,130.4L679.6,131L678.6,145.5L681.2,145.5L681.2,166.2L693.5,166.2L693.5,146.5L696.6,137.2L696.6,134.1L695.6,134.1Z" fill="#f3f5fa"/>
<path d="M713.1,134.1L697.6,137.2L696.6,137.2L693.5,146.5L693.5,166.2L726.5,166.2Z" fill="#8ea7d2"/>
<path d="M691.5,123.7L685.3,116.4L675,111.2L664.7,108.6L656.4,108.1L650.3,110.2L641,113.3L635.8,120.6L633.8,126.8L631.7,133L634.8,138.2L641,141.3L654.4,148.6L669.3,154.8L675,151.7L678.6,145.5L679.6,131L688.4,130.4L691.5,126.8Z" fill="#ffffff"/>
</g>
<path d="M720.8,124.7C720.8,122.3 720.4,119.5 719.3,116.4C718.1,113.3 716.3,109.5 714.1,106C711.9,102.6 709.3,99.1 705.9,95.7C702.4,92.2 698.3,88.4 693.5,85.3C688.7,82.2 682.7,79.3 677,77C671.4,74.6 664.7,72.5 659.5,71.3C654.4,70 650.1,69.7 646.1,69.5C642.2,69.3 638.9,69.4 635.8,69.9C632.8,70.5 630.5,71.1 627.6,72.8C624.7,74.5 621.1,77.5 618.3,80.1C615.6,82.7 613.7,84.9 611.1,88.4C608.6,91.9 605.5,97 602.9,100.8C600.3,104.7 597.7,107.9 595.7,111.2C593.6,114.5 591.6,118 590.5,120.6C589.5,123.2 589.2,124.9 589.5,126.8C589.8,128.7 590.9,130.4 592.6,132C594.3,133.5 596.4,134.8 599.8,136.1C603.2,137.5 608.4,138.9 613.2,140.3C618,141.7 624.9,143.2 628.6,144.4C632.4,145.7 633.3,146.5 635.8,147.6C638.4,148.6 641,149.5 644.1,150.7C647.2,151.9 650.9,153.4 654.4,154.8C657.8,156.2 662.1,158.2 664.7,159C667.3,159.8 668.3,160 669.8,159.5C671.4,159 672.7,157.3 673.9,155.9C675.1,154.4 676,152.4 677,150.7C678.1,148.9 677.4,146.2 680.1,145.5C682.9,144.8 689.2,147 693.5,146.5C697.8,146 702.4,143.9 705.9,142.4C709.3,140.8 711.9,139.1 714.1,137.2C716.3,135.3 718.1,133 719.3,131C720.4,128.9 720.8,127.1 720.8,124.7Z" fill="none" stroke="#434951" stroke-width="1.15"/>
<linearGradient id="ga1" x1="0" y1="0" x2="0" y2="1"><stop offset="0.000" stop-color="#e77e6c"/><stop offset="0.024" stop-color="#ea8876"/><stop offset="0.143" stop-color="#f4b3a7"/><stop offset="0.263" stop-color="#fbdad4"/><stop offset="0.382" stop-color="#ffffff"/><stop offset="0.545" stop-color="#d6ddef"/><stop offset="0.707" stop-color="#a6b7db"/><stop offset="0.870" stop-color="#6f94c8"/><stop offset="1.000" stop-color="#3c77b7"/></linearGradient>
<rect x="765" y="76.1" width="18" height="86.9" fill="url(#ga1)"/>
<path d="M765,84.6h3.6 M779.4,84.6h3.6" stroke="#fff" stroke-opacity="0.8" stroke-width="0.8"/>
<text x="788.6" y="88.4" font-size="10" fill="#1a1a1a">0.002</text>
<path d="M765,109h3.6 M779.4,109h3.6" stroke="#fff" stroke-opacity="0.8" stroke-width="0.8"/>
<text x="788.6" y="112.8" font-size="10" fill="#1a1a1a">0.000</text>
<path d="M765,132.6h3.6 M779.4,132.6h3.6" stroke="#fff" stroke-opacity="0.8" stroke-width="0.8"/>
<text x="788.6" y="136.4" font-size="10" fill="#1a1a1a">−0.002</text>
<path d="M765,156.6h3.6 M779.4,156.6h3.6" stroke="#fff" stroke-opacity="0.8" stroke-width="0.8"/>
<text x="788.6" y="160.4" font-size="10" fill="#1a1a1a">−0.004</text>
<text x="765.8" y="68.5" font-size="11.8" fill="#1a1a1a"><tspan font-style="italic">β</tspan> value</text>
<text x="98.8" y="197.5" font-size="20" fill="#1f72a9" xml:space="preserve">Affective  symptom (exposure)</text>
<rect x="85.8" y="207.3" width="652.2" height="109.1" rx="20" ry="20" fill="none" stroke="#5353a3" stroke-width="0.95" stroke-dasharray="5.3 4.7"/>
<clipPath id="c5"><path d="M126.7,225C130.5,221.8 135,219.3 139.2,217.9C143.3,216.6 146.6,216.5 151.6,216.7C156.6,216.9 163.9,217.9 169.3,219C174.6,220.1 178.8,221.5 183.8,223.4C188.8,225.4 194.5,227.8 199.4,230.7C204.2,233.6 209,237.2 212.9,241C216.7,244.8 219.8,249.2 222.2,253.5C224.6,257.7 226.3,262.5 227.2,266.4C228,270.3 228.1,273.7 227.4,276.8C226.6,279.9 224.8,282.7 222.7,285.1C220.6,287.4 217.8,289.5 214.9,290.7C212.1,292 209.4,292.5 205.6,292.8C201.8,293.2 195.2,292.5 192.1,292.8C189,293.2 188.3,293.6 186.9,294.9C185.5,296.2 185.2,298.9 183.8,300.6C182.4,302.3 180.7,304.2 178.6,305.2C176.5,306.3 173.9,306.8 171.3,306.8C168.7,306.8 166.8,306.5 163,305.2C159.2,304 153.7,301.1 148.5,299C143.3,297 136.6,294.5 131.9,292.8C127.2,291.1 124.6,290.1 120.5,288.7C116.3,287.2 110.4,285.8 107,284C103.6,282.2 102,280 100.3,277.8C98.5,275.6 96.7,273 96.4,270.6C96.2,268.1 97.1,266.6 98.7,263.3C100.3,260 103,255.3 106,250.9C108.9,246.5 112.9,241.2 116.3,236.9C119.8,232.6 122.9,228.1 126.7,225Z"/></clipPath>
<path d="M126.7,225C130.5,221.8 135,219.3 139.2,217.9C143.3,216.6 146.6,216.5 151.6,216.7C156.6,216.9 163.9,217.9 169.3,219C174.6,220.1 178.8,221.5 183.8,223.4C188.8,225.4 194.5,227.8 199.4,230.7C204.2,233.6 209,237.2 212.9,241C216.7,244.8 219.8,249.2 222.2,253.5C224.6,257.7 226.3,262.5 227.2,266.4C228,270.3 228.1,273.7 227.4,276.8C226.6,279.9 224.8,282.7 222.7,285.1C220.6,287.4 217.8,289.5 214.9,290.7C212.1,292 209.4,292.5 205.6,292.8C201.8,293.2 195.2,292.5 192.1,292.8C189,293.2 188.3,293.6 186.9,294.9C185.5,296.2 185.2,298.9 183.8,300.6C182.4,302.3 180.7,304.2 178.6,305.2C176.5,306.3 173.9,306.8 171.3,306.8C168.7,306.8 166.8,306.5 163,305.2C159.2,304 153.7,301.1 148.5,299C143.3,297 136.6,294.5 131.9,292.8C127.2,291.1 124.6,290.1 120.5,288.7C116.3,287.2 110.4,285.8 107,284C103.6,282.2 102,280 100.3,277.8C98.5,275.6 96.7,273 96.4,270.6C96.2,268.1 97.1,266.6 98.7,263.3C100.3,260 103,255.3 106,250.9C108.9,246.5 112.9,241.2 116.3,236.9C119.8,232.6 122.9,228.1 126.7,225Z" fill="#ffffff"/>
<g clip-path="url(#c5)" stroke="#41474f" stroke-width="0.8" stroke-linejoin="round">
<path d="M127.2,225L125.7,228.1L124.6,233.3L127.8,235.9L124.6,243.6L125.7,253L122.6,258.1L121.5,262.8L116.3,263.3L112.2,262.8L109.1,264.3L103.9,265.4L101.8,267.4L90.4,267.4L90.4,209.5L127.2,209.5Z" fill="#fbe8e5"/>
<path d="M101.8,267.4L103.9,265.4L109.1,264.3L112.2,262.8L116.3,263.3L121.5,262.8L122.6,271.6L121.5,279.9L123.6,284L121.5,288.7L121.5,313L90.4,313L90.4,267.4Z" fill="#a7b9dc"/>
<path d="M90.4,261.2L98.7,262.8L101.8,267.4L100.8,272.6L101.6,277.8L106,283.5L106,313L90.4,313Z" fill="#a7b9dc"/>
<path d="M169.8,209.5L220.1,209.5L220.1,243.6L210.8,243.6L207.7,240.5L199.4,235.3L190,231.7L178.6,230.2L173.4,224L169.8,219.3Z" fill="#8ea7d2"/>
<path d="M210.8,243.6L213.4,250.9L207.7,253L207.1,261.2L207.7,275.7L205.6,291.3L205.6,313L235.7,313L235.7,243.6Z" fill="#8ea7d2"/>
<path d="M178.6,230.2L190,231.7L199.4,235.3L207.7,240.5L210.8,243.6L213.4,250.9L207.7,253L207.1,261.2L196.2,261.2L194.2,258.1L190,252.4L186.9,244.7L181.7,237.4Z" fill="#a7b9dc"/>
<path d="M151.6,209.5L169.8,209.5L169.8,219.3L173.4,224L178.6,230.2L181.7,237.4L186.9,244.7L190,252.4L186.9,256.1L185.9,259.2L182.8,263.3L176.5,261.2L172.4,255L170.3,250.9L166.2,242.6L162,235.3L157.8,229.1L154.7,225L152.7,220.8Z" fill="#8ea7d2"/>
<path d="M141.2,209.5L151.6,209.5L152.7,220.8L154.7,225L157.8,229.1L162,235.3L166.2,242.6L170.3,250.9L172.4,255L171.3,257.1L165.1,258.1L162.5,254.5L161.5,246.7L158.9,241.6L154.7,239L148.5,237.4L143.3,235.3L142.3,227.1Z" fill="#ffffff"/>
<path d="M116.3,209.5L141.2,209.5L142.3,227.1L143.3,235.3L136.1,237.4L127.8,235.9L124.6,233.3L125.7,228.1L127.2,225L116.3,225Z" fill="#e0e7f3"/>
<path d="M148.5,237.4L154.7,239L158.9,241.6L161.5,246.7L162.5,254.5L156.8,254L147.5,250.9L147,243.6Z" fill="#fdf3f1"/>
<path d="M136.1,237.4L143.3,235.3L148.5,237.4L147,243.6L147.5,250.9L147,255L145.4,261.2L144.4,271.6L139.2,268.5L136.1,261.2L138.1,250.9L137.1,243.6Z" fill="#fdf3f1"/>
<path d="M127.8,235.9L136.1,237.4L137.1,243.6L138.1,250.9L136.1,261.2L131.9,266.4L128.8,263.3L121.5,262.8L122.6,258.1L125.7,253L124.6,243.6Z" fill="#fbdfda"/>
<path d="M121.5,262.8L128.8,263.3L131.9,266.4L136.1,261.2L139.2,268.5L144.4,271.6L141.2,281.9L141.2,285.1L134,286.1L123.6,284L121.5,279.9L122.6,271.6Z" fill="#ed9787"/>
<path d="M121.5,288.7L123.6,284L134,286.1L141.2,285.1L145.4,291.3L144.4,313L121.5,313Z" fill="#cbd6ea"/>
<path d="M144.4,271.6L148.5,275.7L156.8,278.8L163,281.9L167.2,288.2L169.3,292.3L166.2,295.4L167.2,299.6L157.8,295.4L152.7,291.3L145.4,291.3L141.2,285.1L141.2,281.9Z" fill="#f8d5cf"/>
<path d="M145.4,291.3L152.7,291.3L157.8,295.4L167.2,299.6L168.2,302.7L168.2,313L144.4,313Z" fill="#f8d5cf"/>
<path d="M145.4,261.2L148.5,267.4L156.8,271.6L165.1,279.9L167.2,288.2L163,281.9L156.8,278.8L148.5,275.7L144.4,271.6Z" fill="#e0e7f3"/>
<path d="M147.5,250.9L156.8,254L162.5,254.5L162,258.1L163,264.3L158.9,266.4L152.7,261.2L147,255Z" fill="#a7b9dc"/>
<path d="M162,258.1L162.5,254.5L165.1,258.1L171.3,257.1L172.4,255L176.5,261.2L182.8,263.3L183.8,269.5L176.5,268.5L169.3,266.4L163,264.3Z" fill="#9cb1d8"/>
<path d="M163,264.3L169.3,266.4L176.5,268.5L183.8,269.5L186.9,273.7L196.2,275.7L197.3,276.8L194.2,284L192.1,292.8L192.1,295.4L186.9,295.4L185.9,292.3L176.5,284L167.2,273.7L158.9,266.4Z" fill="#8ea7d2"/>
<path d="M147,255L152.7,261.2L158.9,266.4L167.2,273.7L165.1,279.9L156.8,271.6L148.5,267.4L145.4,261.2Z" fill="#cbd6ea"/>
<path d="M167.2,273.7L176.5,284L185.9,292.3L183.8,295.4L173.4,286.1L165.1,279.9Z" fill="#f4b7ad"/>
<path d="M190,252.4L194.2,258.1L196.2,261.2L195.4,270.6L192.1,268.5L186.9,267.4L184.8,269L183.8,269.5L182.8,263.3L185.9,259.2L186.9,256.1Z" fill="#e0e7f3"/>
<path d="M196.2,261.2L207.1,261.2L207.7,275.7L197.3,276.8L196.2,275.7L196,273.1L195.4,270.6Z" fill="#fbe8e5"/>
<path d="M184.8,269L186.9,267.4L192.1,268.5L195.4,270.6L196,273.1L193.1,274.9L187.9,273.5L184.8,271.4Z" fill="#f8d5cf"/>
<path d="M197.3,276.8L207.7,275.7L205.6,291.3L205.6,313L192.1,313L192.1,292.8L194.2,284Z" fill="#bac8e3"/>
<path d="M167.2,288.2L165.1,279.9L173.4,286.1L176.5,290.2L175.5,302.7L172.4,313L168.2,313L168.2,302.7L167.2,299.6L166.2,295.4L169.3,292.3Z" fill="#f3f5fa"/>
<path d="M173.4,286.1L183.8,295.4L185.9,292.3L186.9,295.4L192.1,295.4L192.1,313L172.4,313L175.5,302.7L176.5,290.2Z" fill="#bac8e3"/>
<path d="M168.2,301.1L175.7,301.1L175.7,313L168.2,313Z" fill="#f3f5fa"/>
</g>
<path d="M126.7,225C130.5,221.8 135,219.3 139.2,217.9C143.3,216.6 146.6,216.5 151.6,216.7C156.6,216.9 163.9,217.9 169.3,219C174.6,220.1 178.8,221.5 183.8,223.4C188.8,225.4 194.5,227.8 199.4,230.7C204.2,233.6 209,237.2 212.9,241C216.7,244.8 219.8,249.2 222.2,253.5C224.6,257.7 226.3,262.5 227.2,266.4C228,270.3 228.1,273.7 227.4,276.8C226.6,279.9 224.8,282.7 222.7,285.1C220.6,287.4 217.8,289.5 214.9,290.7C212.1,292 209.4,292.5 205.6,292.8C201.8,293.2 195.2,292.5 192.1,292.8C189,293.2 188.3,293.6 186.9,294.9C185.5,296.2 185.2,298.9 183.8,300.6C182.4,302.3 180.7,304.2 178.6,305.2C176.5,306.3 173.9,306.8 171.3,306.8C168.7,306.8 166.8,306.5 163,305.2C159.2,304 153.7,301.1 148.5,299C143.3,297 136.6,294.5 131.9,292.8C127.2,291.1 124.6,290.1 120.5,288.7C116.3,287.2 110.4,285.8 107,284C103.6,282.2 102,280 100.3,277.8C98.5,275.6 96.7,273 96.4,270.6C96.2,268.1 97.1,266.6 98.7,263.3C100.3,260 103,255.3 106,250.9C108.9,246.5 112.9,241.2 116.3,236.9C119.8,232.6 122.9,228.1 126.7,225Z" fill="none" stroke="#434951" stroke-width="1.15"/>
<clipPath id="c6"><path d="M261.6,271.9C261.6,269.5 262,266.7 263.2,263.6C264.3,260.5 266.1,256.6 268.3,253.2C270.6,249.7 273.2,246.2 276.6,242.7C280.1,239.3 284.2,235.5 289,232.3C293.9,229.2 299.9,226.3 305.6,224C311.3,221.7 318,219.5 323.2,218.3C328.4,217 332.7,216.7 336.7,216.5C340.6,216.3 343.9,216.4 347,216.9C350.1,217.5 352.4,218.1 355.3,219.8C358.2,221.5 361.9,224.5 364.6,227.1C367.4,229.7 369.3,232 371.9,235.5C374.4,238.9 377.6,244.1 380.1,248C382.7,251.8 385.3,255.1 387.4,258.4C389.5,261.7 391.5,265.1 392.6,267.7C393.6,270.3 393.9,272.1 393.6,274C393.3,275.9 392.2,277.6 390.5,279.2C388.8,280.8 386.7,282 383.2,283.4C379.8,284.8 374.6,286.1 369.8,287.5C365,288.9 358.1,290.5 354.3,291.7C350.5,292.9 349.6,293.8 347,294.8C344.4,295.9 341.8,296.7 338.7,297.9C335.6,299.2 331.8,300.7 328.4,302.1C324.9,303.5 320.6,305.5 318,306.3C315.4,307.1 314.4,307.3 312.8,306.8C311.3,306.3 309.9,304.6 308.7,303.2C307.5,301.7 306.6,299.7 305.6,297.9C304.6,296.2 305.3,293.4 302.5,292.7C299.7,292 293.3,294.3 289,293.8C284.7,293.3 280.1,291.2 276.6,289.6C273.2,288.1 270.6,286.3 268.3,284.4C266.1,282.5 264.3,280.2 263.2,278.2C262,276.1 261.6,274.3 261.6,271.9Z"/></clipPath>
<path d="M261.6,271.9C261.6,269.5 262,266.7 263.2,263.6C264.3,260.5 266.1,256.6 268.3,253.2C270.6,249.7 273.2,246.2 276.6,242.7C280.1,239.3 284.2,235.5 289,232.3C293.9,229.2 299.9,226.3 305.6,224C311.3,221.7 318,219.5 323.2,218.3C328.4,217 332.7,216.7 336.7,216.5C340.6,216.3 343.9,216.4 347,216.9C350.1,217.5 352.4,218.1 355.3,219.8C358.2,221.5 361.9,224.5 364.6,227.1C367.4,229.7 369.3,232 371.9,235.5C374.4,238.9 377.6,244.1 380.1,248C382.7,251.8 385.3,255.1 387.4,258.4C389.5,261.7 391.5,265.1 392.6,267.7C393.6,270.3 393.9,272.1 393.6,274C393.3,275.9 392.2,277.6 390.5,279.2C388.8,280.8 386.7,282 383.2,283.4C379.8,284.8 374.6,286.1 369.8,287.5C365,288.9 358.1,290.5 354.3,291.7C350.5,292.9 349.6,293.8 347,294.8C344.4,295.9 341.8,296.7 338.7,297.9C335.6,299.2 331.8,300.7 328.4,302.1C324.9,303.5 320.6,305.5 318,306.3C315.4,307.1 314.4,307.3 312.8,306.8C311.3,306.3 309.9,304.6 308.7,303.2C307.5,301.7 306.6,299.7 305.6,297.9C304.6,296.2 305.3,293.4 302.5,292.7C299.7,292 293.3,294.3 289,293.8C284.7,293.3 280.1,291.2 276.6,289.6C273.2,288.1 270.6,286.3 268.3,284.4C266.1,282.5 264.3,280.2 263.2,278.2C262,276.1 261.6,274.3 261.6,271.9Z" fill="#ffffff"/>
<g clip-path="url(#c6)" stroke="#41474f" stroke-width="0.8" stroke-linejoin="round">
<path d="M255.9,209.4L305.6,209.4L305.6,224L304.6,231.3L289,238.6L278.7,246.9L269.4,259.4L267.3,271.9L269.4,281.3L255.9,313.6Z" fill="#8ea7d2"/>
<path d="M304.6,231.3L305.6,240.7L290.1,251.1L279.7,259.4L275.1,266.7L276.6,273L285.9,281.3L284.9,284.4L269.4,281.3L267.3,271.9L269.4,259.4L278.7,246.9L289,238.6Z" fill="#2f6bb0"/>
<path d="M305.6,240.7L313.9,239.6L318,241.2L324.2,238.6L326.3,255.2L318,255.8L307.7,258.4L297.3,263.6L291.1,270.9L291.1,274L287,281.3L285.9,281.3L276.6,273L275.1,266.7L279.7,259.4L290.1,251.1Z" fill="#fbe8e5"/>
<path d="M305.6,209.4L324.2,209.4L324.2,220.9L322.7,228.2L324.2,238.6L318,241.2L313.9,239.6L305.6,240.7L304.6,231.3L305.6,224Z" fill="#e0e7f3"/>
<path d="M324.2,209.4L338.7,209.4L338.7,217.7L340.8,234.9L330.4,238.6L324.2,238.6L322.7,228.2L324.2,220.9Z" fill="#8ea7d2"/>
<path d="M338.7,209.4L353.2,209.4L352.7,220.4L353.2,227.6L342.9,234.4L340.8,234.9L338.7,217.7Z" fill="#ffffff"/>
<path d="M324.2,238.6L330.4,238.6L340.8,234.9L342.9,234.4L343.9,238.6L358.4,246.9L355.3,256.3L353.2,273L349.1,274L347,267.7L341.8,260.5L332.5,257.3L326.3,255.2Z" fill="#e0e7f3"/>
<path d="M353.2,209.4L400.8,209.4L400.8,248L380.1,248L372.9,254.2L370.8,259.4L367.2,265.7L363.1,270.9L353.2,273L355.3,256.3L358.4,246.9L343.9,238.6L342.9,234.4L353.2,227.6L352.7,220.4Z" fill="#e0e7f3"/>
<path d="M380.1,248L400.8,248L400.8,263.6L389.5,263.6L385.3,264.1L377,261.5L371.9,258.4L372.9,254.2Z" fill="#8ea7d2"/>
<path d="M367.2,265.7L372.9,264.1L377,261.5L385.3,264.1L387.4,269.8L384.3,277.1L371.9,276.1L363.6,274L363.1,270.9Z" fill="#8ea7d2"/>
<path d="M370.8,259.4L371.9,258.4L377,261.5L372.9,264.1L367.2,265.7Z" fill="#cbd6ea"/>
<path d="M385.3,264.1L389.5,263.6L400.8,263.6L400.8,282.3L385.3,282.3L384.3,277.1L387.4,269.8Z" fill="#a7b9dc"/>
<path d="M353.2,273L363.1,270.9L363.6,274L371.9,276.1L384.3,277.1L385.3,282.3L383.2,283.6L369.8,287.7L362.5,287L347,290.7L348,285.4L351.2,280.2L349.1,274Z" fill="#f3f5fa"/>
<path d="M362.5,287L369.8,287.7L383.2,283.6L385.3,282.3L400.8,282.3L400.8,303.2L363.6,303.2L363.6,290.1Z" fill="#bac8e3"/>
<path d="M347,290.7L362.5,287L363.6,290.1L363.6,303.2L347,303.2Z" fill="#cbd6ea"/>
<path d="M348,285.4L347,290.7L347,303.2L332.5,308.4L332.5,293.8L341.8,288.6Z" fill="#bac8e3"/>
<path d="M332.5,293.8L332.5,308.4L318,313.6L313.9,305.2L313.4,302.1L328.4,295.9Z" fill="#bac8e3"/>
<path d="M304,292.7L307.7,299L313.4,302.1L313.9,305.2L318,313.6L301.5,313.6L301.5,292.7Z" fill="#cbd6ea"/>
<path d="M291.1,274L294.2,277.6L303,278.2L304,292.7L301.5,292.7L301.5,313.6L289,313.6L289,293.8L285.9,284.4L285.9,281.3L287,281.3Z" fill="#6b91c6"/>
<path d="M269.4,281.3L284.9,284.4L285.9,284.4L289,293.8L289,313.6L255.9,313.6Z" fill="#2f6bb0"/>
<path d="M291.1,270.9L297.3,263.6L307.7,258.4L318,255.8L326.3,255.2L332.5,257.3L341.8,260.5L347,267.7L349.1,274L351.2,280.2L348,285.4L341.8,288.6L328.4,295.9L313.4,302.1L307.7,299L304,292.7L303,278.2L294.2,277.6L291.1,274Z" fill="#ffffff"/>
</g>
<path d="M261.6,271.9C261.6,269.5 262,266.7 263.2,263.6C264.3,260.5 266.1,256.6 268.3,253.2C270.6,249.7 273.2,246.2 276.6,242.7C280.1,239.3 284.2,235.5 289,232.3C293.9,229.2 299.9,226.3 305.6,224C311.3,221.7 318,219.5 323.2,218.3C328.4,217 332.7,216.7 336.7,216.5C340.6,216.3 343.9,216.4 347,216.9C350.1,217.5 352.4,218.1 355.3,219.8C358.2,221.5 361.9,224.5 364.6,227.1C367.4,229.7 369.3,232 371.9,235.5C374.4,238.9 377.6,244.1 380.1,248C382.7,251.8 385.3,255.1 387.4,258.4C389.5,261.7 391.5,265.1 392.6,267.7C393.6,270.3 393.9,272.1 393.6,274C393.3,275.9 392.2,277.6 390.5,279.2C388.8,280.8 386.7,282 383.2,283.4C379.8,284.8 374.6,286.1 369.8,287.5C365,288.9 358.1,290.5 354.3,291.7C350.5,292.9 349.6,293.8 347,294.8C344.4,295.9 341.8,296.7 338.7,297.9C335.6,299.2 331.8,300.7 328.4,302.1C324.9,303.5 320.6,305.5 318,306.3C315.4,307.1 314.4,307.3 312.8,306.8C311.3,306.3 309.9,304.6 308.7,303.2C307.5,301.7 306.6,299.7 305.6,297.9C304.6,296.2 305.3,293.4 302.5,292.7C299.7,292 293.3,294.3 289,293.8C284.7,293.3 280.1,291.2 276.6,289.6C273.2,288.1 270.6,286.3 268.3,284.4C266.1,282.5 264.3,280.2 263.2,278.2C262,276.1 261.6,274.3 261.6,271.9Z" fill="none" stroke="#434951" stroke-width="1.15"/>
<clipPath id="c7"><path d="M528.5,225C524.7,221.8 520.2,219.3 516.1,217.9C512,216.6 508.7,216.5 503.7,216.7C498.7,216.9 491.5,217.9 486.1,219C480.8,220.1 476.6,221.5 471.6,223.4C466.6,225.4 461,227.8 456.1,230.7C451.3,233.6 446.5,237.2 442.7,241C438.9,244.8 435.8,249.2 433.4,253.5C431,257.7 429.3,262.5 428.4,266.4C427.6,270.3 427.5,273.7 428.2,276.8C429,279.9 430.8,282.7 432.9,285.1C434.9,287.4 437.8,289.5 440.6,290.7C443.5,292 446.1,292.5 449.9,292.8C453.7,293.2 460.3,292.5 463.4,292.8C466.5,293.2 467.2,293.6 468.5,294.9C469.9,296.2 470.3,298.9 471.6,300.6C473,302.3 474.7,304.2 476.8,305.2C478.9,306.3 481.5,306.8 484,306.8C486.6,306.8 488.5,306.5 492.3,305.2C496.1,304 501.6,301.1 506.8,299C512,297 518.7,294.5 523.3,292.8C528,291.1 530.6,290.1 534.7,288.7C538.8,287.2 544.8,285.8 548.1,284C551.5,282.2 553.1,280 554.9,277.8C556.6,275.6 558.4,273 558.7,270.6C558.9,268.1 558,266.6 556.4,263.3C554.8,260 552.1,255.3 549.2,250.9C546.2,246.5 542.3,241.2 538.8,236.9C535.4,232.6 532.3,228.1 528.5,225Z"/></clipPath>
<path d="M528.5,225C524.7,221.8 520.2,219.3 516.1,217.9C512,216.6 508.7,216.5 503.7,216.7C498.7,216.9 491.5,217.9 486.1,219C480.8,220.1 476.6,221.5 471.6,223.4C466.6,225.4 461,227.8 456.1,230.7C451.3,233.6 446.5,237.2 442.7,241C438.9,244.8 435.8,249.2 433.4,253.5C431,257.7 429.3,262.5 428.4,266.4C427.6,270.3 427.5,273.7 428.2,276.8C429,279.9 430.8,282.7 432.9,285.1C434.9,287.4 437.8,289.5 440.6,290.7C443.5,292 446.1,292.5 449.9,292.8C453.7,293.2 460.3,292.5 463.4,292.8C466.5,293.2 467.2,293.6 468.5,294.9C469.9,296.2 470.3,298.9 471.6,300.6C473,302.3 474.7,304.2 476.8,305.2C478.9,306.3 481.5,306.8 484,306.8C486.6,306.8 488.5,306.5 492.3,305.2C496.1,304 501.6,301.1 506.8,299C512,297 518.7,294.5 523.3,292.8C528,291.1 530.6,290.1 534.7,288.7C538.8,287.2 544.8,285.8 548.1,284C551.5,282.2 553.1,280 554.9,277.8C556.6,275.6 558.4,273 558.7,270.6C558.9,268.1 558,266.6 556.4,263.3C554.8,260 552.1,255.3 549.2,250.9C546.2,246.5 542.3,241.2 538.8,236.9C535.4,232.6 532.3,228.1 528.5,225Z" fill="#ffffff"/>
<g clip-path="url(#c7)" stroke="#41474f" stroke-width="0.8" stroke-linejoin="round">
<path d="M528,225L529.5,228.1L530.6,233.3L527.5,235.9L530.6,243.6L529.5,253L532.6,258.1L533.7,262.8L538.8,263.3L543,262.8L546.1,264.3L551.2,265.4L553.3,267.4L564.7,267.4L564.7,209.5L528,209.5Z" fill="#bac8e3"/>
<path d="M553.3,267.4L551.2,265.4L546.1,264.3L543,262.8L538.8,263.3L533.7,262.8L532.6,271.6L533.7,279.9L531.6,284L533.7,288.7L533.7,313L564.7,313L564.7,267.4Z" fill="#a7b9dc"/>
<path d="M564.7,261.2L556.4,262.8L553.3,267.4L554.3,272.6L553.5,277.8L549.2,283.5L549.2,313L564.7,313Z" fill="#a7b9dc"/>
<path d="M485.6,209.5L435.5,209.5L435.5,243.6L444.8,243.6L447.9,240.5L456.1,235.3L465.4,231.7L476.8,230.2L482,224L485.6,219.3Z" fill="#a7b9dc"/>
<path d="M444.8,243.6L442.2,250.9L447.9,253L448.4,261.2L447.9,275.7L449.9,291.3L449.9,313L419.9,313L419.9,243.6Z" fill="#a7b9dc"/>
<path d="M476.8,230.2L465.4,231.7L456.1,235.3L447.9,240.5L444.8,243.6L442.2,250.9L447.9,253L448.4,261.2L459.2,261.2L461.3,258.1L465.4,252.4L468.5,244.7L473.7,237.4Z" fill="#9cb1d8"/>
<path d="M503.7,209.5L485.6,209.5L485.6,219.3L482,224L476.8,230.2L473.7,237.4L468.5,244.7L465.4,252.4L468.5,256.1L469.6,259.2L472.7,263.3L478.9,261.2L483,255L485.1,250.9L489.2,242.6L493.4,235.3L497.5,229.1L500.6,225L502.7,220.8Z" fill="#8ea7d2"/>
<path d="M514,209.5L503.7,209.5L502.7,220.8L500.6,225L497.5,229.1L493.4,235.3L489.2,242.6L485.1,250.9L483,255L484,257.1L490.2,258.1L492.8,254.5L493.9,246.7L496.5,241.6L500.6,239L506.8,237.4L512,235.3L513,227.1Z" fill="#a7b9dc"/>
<path d="M538.8,209.5L514,209.5L513,227.1L512,235.3L519.2,237.4L527.5,235.9L530.6,233.3L529.5,228.1L528,225L538.8,225Z" fill="#9cb1d8"/>
<path d="M506.8,237.4L500.6,239L496.5,241.6L493.9,246.7L492.8,254.5L498.5,254L507.8,250.9L508.3,243.6Z" fill="#a7b9dc"/>
<path d="M519.2,237.4L512,235.3L506.8,237.4L508.3,243.6L507.8,250.9L508.3,255L509.9,261.2L510.9,271.6L516.1,268.5L519.2,261.2L517.1,250.9L518.2,243.6Z" fill="#f8d5cf"/>
<path d="M527.5,235.9L519.2,237.4L518.2,243.6L517.1,250.9L519.2,261.2L523.3,266.4L526.4,263.3L533.7,262.8L532.6,258.1L529.5,253L530.6,243.6Z" fill="#fbdfda"/>
<path d="M533.7,262.8L526.4,263.3L523.3,266.4L519.2,261.2L516.1,268.5L510.9,271.6L514,281.9L514,285.1L521.3,286.1L531.6,284L533.7,279.9L532.6,271.6Z" fill="#f6c8c0"/>
<path d="M533.7,288.7L531.6,284L521.3,286.1L514,285.1L509.9,291.3L510.9,313L533.7,313Z" fill="#7b99ca"/>
<path d="M510.9,271.6L506.8,275.7L498.5,278.8L492.3,281.9L488.2,288.2L486.1,292.3L489.2,295.4L488.2,299.6L497.5,295.4L502.7,291.3L509.9,291.3L514,285.1L514,281.9Z" fill="#f8d5cf"/>
<path d="M509.9,291.3L502.7,291.3L497.5,295.4L488.2,299.6L487.1,302.7L487.1,313L510.9,313Z" fill="#f4b7ad"/>
<path d="M509.9,261.2L506.8,267.4L498.5,271.6L490.2,279.9L488.2,288.2L492.3,281.9L498.5,278.8L506.8,275.7L510.9,271.6Z" fill="#ffffff"/>
<path d="M507.8,250.9L498.5,254L492.8,254.5L493.4,258.1L492.3,264.3L496.5,266.4L502.7,261.2L508.3,255Z" fill="#bac8e3"/>
<path d="M493.4,258.1L492.8,254.5L490.2,258.1L484,257.1L483,255L478.9,261.2L472.7,263.3L471.6,269.5L478.9,268.5L486.1,266.4L492.3,264.3Z" fill="#a7b9dc"/>
<path d="M492.3,264.3L486.1,266.4L478.9,268.5L471.6,269.5L468.5,273.7L459.2,275.7L458.2,276.8L461.3,284L463.4,292.8L463.4,295.4L468.5,295.4L469.6,292.3L478.9,284L488.2,273.7L496.5,266.4Z" fill="#9cb1d8"/>
<path d="M508.3,255L502.7,261.2L496.5,266.4L488.2,273.7L490.2,279.9L498.5,271.6L506.8,267.4L509.9,261.2Z" fill="#cbd6ea"/>
<path d="M488.2,273.7L478.9,284L469.6,292.3L471.6,295.4L482,286.1L490.2,279.9Z" fill="#e26d5b"/>
<path d="M465.4,252.4L461.3,258.1L459.2,261.2L460.1,270.6L463.4,268.5L468.5,267.4L470.6,269L471.6,269.5L472.7,263.3L469.6,259.2L468.5,256.1Z" fill="#a7b9dc"/>
<path d="M459.2,261.2L448.4,261.2L447.9,275.7L458.2,276.8L459.2,275.7L459.4,273.1L460.1,270.6Z" fill="#f3f5fa"/>
<path d="M470.6,269L468.5,267.4L463.4,268.5L457.2,270.3L453.2,272.6L453.9,275.3L459.2,275.9L462.3,274.9L467.5,273.5L470.6,271.4Z" fill="#5a86c0"/>
<path d="M458.2,276.8L447.9,275.7L449.9,291.3L449.9,313L463.4,313L463.4,292.8L461.3,284Z" fill="#9cb1d8"/>
<path d="M488.2,288.2L490.2,279.9L482,286.1L478.9,290.2L479.9,302.7L483,313L487.1,313L487.1,302.7L488.2,299.6L489.2,295.4L486.1,292.3Z" fill="#cbd6ea"/>
<path d="M482,286.1L471.6,295.4L469.6,292.3L468.5,295.4L463.4,295.4L463.4,313L483,313L479.9,302.7L478.9,290.2Z" fill="#9cb1d8"/>
<path d="M487.1,301.1L479.7,301.1L479.7,313L487.1,313Z" fill="#d54e3f"/>
</g>
<path d="M528.5,225C524.7,221.8 520.2,219.3 516.1,217.9C512,216.6 508.7,216.5 503.7,216.7C498.7,216.9 491.5,217.9 486.1,219C480.8,220.1 476.6,221.5 471.6,223.4C466.6,225.4 461,227.8 456.1,230.7C451.3,233.6 446.5,237.2 442.7,241C438.9,244.8 435.8,249.2 433.4,253.5C431,257.7 429.3,262.5 428.4,266.4C427.6,270.3 427.5,273.7 428.2,276.8C429,279.9 430.8,282.7 432.9,285.1C434.9,287.4 437.8,289.5 440.6,290.7C443.5,292 446.1,292.5 449.9,292.8C453.7,293.2 460.3,292.5 463.4,292.8C466.5,293.2 467.2,293.6 468.5,294.9C469.9,296.2 470.3,298.9 471.6,300.6C473,302.3 474.7,304.2 476.8,305.2C478.9,306.3 481.5,306.8 484,306.8C486.6,306.8 488.5,306.5 492.3,305.2C496.1,304 501.6,301.1 506.8,299C512,297 518.7,294.5 523.3,292.8C528,291.1 530.6,290.1 534.7,288.7C538.8,287.2 544.8,285.8 548.1,284C551.5,282.2 553.1,280 554.9,277.8C556.6,275.6 558.4,273 558.7,270.6C558.9,268.1 558,266.6 556.4,263.3C554.8,260 552.1,255.3 549.2,250.9C546.2,246.5 542.3,241.2 538.8,236.9C535.4,232.6 532.3,228.1 528.5,225Z" fill="none" stroke="#434951" stroke-width="1.15"/>
<clipPath id="c8"><path d="M725.7,271.9C725.7,269.5 725.3,266.7 724.1,263.6C723,260.5 721.2,256.6 719,253.2C716.7,249.7 714.1,246.2 710.7,242.7C707.3,239.3 703.1,235.5 698.3,232.3C693.5,229.2 687.4,226.3 681.7,224C676,221.7 669.3,219.5 664.1,218.3C659,217 654.7,216.7 650.7,216.5C646.7,216.3 643.5,216.4 640.4,216.9C637.2,217.5 635,218.1 632.1,219.8C629.1,221.5 625.5,224.5 622.8,227.1C620,229.7 618.1,232 615.5,235.5C612.9,238.9 609.8,244.1 607.2,248C604.7,251.8 602.1,255.1 600,258.4C597.9,261.7 595.9,265.1 594.8,267.7C593.8,270.3 593.5,272.1 593.8,274C594.1,275.9 595.2,277.6 596.9,279.2C598.6,280.8 600.7,282 604.1,283.4C607.6,284.8 612.8,286.1 617.6,287.5C622.4,288.9 629.3,290.5 633.1,291.7C636.9,292.9 637.8,293.8 640.4,294.8C642.9,295.9 645.5,296.7 648.6,297.9C651.7,299.2 655.5,300.7 659,302.1C662.4,303.5 666.7,305.5 669.3,306.3C671.9,307.1 672.9,307.3 674.5,306.8C676,306.3 677.4,304.6 678.6,303.2C679.8,301.7 680.7,299.7 681.7,297.9C682.8,296.2 682.1,293.4 684.8,292.7C687.6,292 694,294.3 698.3,293.8C702.6,293.3 707.3,291.2 710.7,289.6C714.1,288.1 716.7,286.3 719,284.4C721.2,282.5 723,280.2 724.1,278.2C725.3,276.1 725.7,274.3 725.7,271.9Z"/></clipPath>
<path d="M725.7,271.9C725.7,269.5 725.3,266.7 724.1,263.6C723,260.5 721.2,256.6 719,253.2C716.7,249.7 714.1,246.2 710.7,242.7C707.3,239.3 703.1,235.5 698.3,232.3C693.5,229.2 687.4,226.3 681.7,224C676,221.7 669.3,219.5 664.1,218.3C659,217 654.7,216.7 650.7,216.5C646.7,216.3 643.5,216.4 640.4,216.9C637.2,217.5 635,218.1 632.1,219.8C629.1,221.5 625.5,224.5 622.8,227.1C620,229.7 618.1,232 615.5,235.5C612.9,238.9 609.8,244.1 607.2,248C604.7,251.8 602.1,255.1 600,258.4C597.9,261.7 595.9,265.1 594.8,267.7C593.8,270.3 593.5,272.1 593.8,274C594.1,275.9 595.2,277.6 596.9,279.2C598.6,280.8 600.7,282 604.1,283.4C607.6,284.8 612.8,286.1 617.6,287.5C622.4,288.9 629.3,290.5 633.1,291.7C636.9,292.9 637.8,293.8 640.4,294.8C642.9,295.9 645.5,296.7 648.6,297.9C651.7,299.2 655.5,300.7 659,302.1C662.4,303.5 666.7,305.5 669.3,306.3C671.9,307.1 672.9,307.3 674.5,306.8C676,306.3 677.4,304.6 678.6,303.2C679.8,301.7 680.7,299.7 681.7,297.9C682.8,296.2 682.1,293.4 684.8,292.7C687.6,292 694,294.3 698.3,293.8C702.6,293.3 707.3,291.2 710.7,289.6C714.1,288.1 716.7,286.3 719,284.4C721.2,282.5 723,280.2 724.1,278.2C725.3,276.1 725.7,274.3 725.7,271.9Z" fill="#ffffff"/>
<g clip-path="url(#c8)" stroke="#41474f" stroke-width="0.8" stroke-linejoin="round">
<path d="M731.4,209.4L681.7,209.4L681.7,224L682.8,231.3L698.3,238.6L708.6,246.9L717.9,259.4L720,271.9L717.9,281.3L731.4,313.6Z" fill="#bac8e3"/>
<path d="M682.8,231.3L681.7,240.7L697.3,251.1L707.6,259.4L712.3,266.7L710.7,273L701.4,281.3L702.4,284.4L717.9,281.3L720,271.9L717.9,259.4L708.6,246.9L698.3,238.6Z" fill="#8ea7d2"/>
<path d="M681.7,240.7L673.5,239.6L669.3,241.2L663.1,238.6L661,255.2L669.3,255.8L679.7,258.4L690,263.6L696.2,270.9L696.2,274L700.4,281.3L701.4,281.3L710.7,273L712.3,266.7L707.6,259.4L697.3,251.1Z" fill="#cbd6ea"/>
<path d="M681.7,209.4L663.1,209.4L663.1,220.9L664.7,228.2L663.1,238.6L669.3,241.2L673.5,239.6L681.7,240.7L682.8,231.3L681.7,224Z" fill="#4a7dbb"/>
<path d="M663.1,209.4L648.6,209.4L648.6,217.7L646.6,234.9L656.9,238.6L663.1,238.6L664.7,228.2L663.1,220.9Z" fill="#8ea7d2"/>
<path d="M648.6,209.4L634.1,209.4L634.7,220.4L634.1,227.6L644.5,234.4L646.6,234.9L648.6,217.7Z" fill="#a7b9dc"/>
<path d="M663.1,238.6L656.9,238.6L646.6,234.9L644.5,234.4L643.5,238.6L629,246.9L632.1,256.3L634.1,273L638.3,274L640.4,267.7L645.5,260.5L654.8,257.3L661,255.2Z" fill="#e0e7f3"/>
<path d="M634.1,209.4L586.6,209.4L586.6,248L607.2,248L614.5,254.2L616.6,259.4L620.2,265.7L624.3,270.9L634.1,273L632.1,256.3L629,246.9L643.5,238.6L644.5,234.4L634.1,227.6L634.7,220.4Z" fill="#bac8e3"/>
<path d="M607.2,248L586.6,248L586.6,263.6L597.9,263.6L602.1,264.1L610.4,261.5L615.5,258.4L614.5,254.2Z" fill="#8ea7d2"/>
<path d="M620.2,265.7L614.5,264.1L610.4,261.5L602.1,264.1L600,269.8L603.1,277.1L615.5,276.1L623.8,274L624.3,270.9Z" fill="#bac8e3"/>
<path d="M616.6,259.4L615.5,258.4L610.4,261.5L614.5,264.1L620.2,265.7Z" fill="#bac8e3"/>
<path d="M602.1,264.1L597.9,263.6L586.6,263.6L586.6,282.3L602.1,282.3L603.1,277.1L600,269.8Z" fill="#8ea7d2"/>
<path d="M634.1,273L624.3,270.9L623.8,274L615.5,276.1L603.1,277.1L602.1,282.3L604.1,283.6L617.6,287.7L624.8,287L640.4,290.7L639.3,285.4L636.2,280.2L638.3,274Z" fill="#fdf3f1"/>
<path d="M624.8,287L617.6,287.7L604.1,283.6L602.1,282.3L586.6,282.3L586.6,303.2L623.8,303.2L623.8,290.1Z" fill="#bac8e3"/>
<path d="M640.4,290.7L624.8,287L623.8,290.1L623.8,303.2L640.4,303.2Z" fill="#f0a597"/>
<path d="M639.3,285.4L640.4,290.7L640.4,303.2L654.8,308.4L654.8,293.8L645.5,288.6Z" fill="#e98573"/>
<path d="M654.8,293.8L654.8,308.4L669.3,313.6L673.5,305.2L674,302.1L659,295.9Z" fill="#f3f5fa"/>
<path d="M683.3,292.7L679.7,299L674,302.1L673.5,305.2L669.3,313.6L685.9,313.6L685.9,292.7Z" fill="#a7b9dc"/>
<path d="M696.2,274L693.1,277.6L684.3,278.2L683.3,292.7L685.9,292.7L685.9,313.6L698.3,313.6L698.3,293.8L701.4,284.4L701.4,281.3L700.4,281.3Z" fill="#f8d5cf"/>
<path d="M717.9,281.3L702.4,284.4L701.4,284.4L698.3,293.8L698.3,313.6L731.4,313.6Z" fill="#2f6bb0"/>
<path d="M696.2,270.9L690,263.6L679.7,258.4L669.3,255.8L661,255.2L654.8,257.3L645.5,260.5L640.4,267.7L638.3,274L636.2,280.2L639.3,285.4L645.5,288.6L659,295.9L674,302.1L679.7,299L683.3,292.7L684.3,278.2L693.1,277.6L696.2,274Z" fill="#ffffff"/>
</g>
<path d="M725.7,271.9C725.7,269.5 725.3,266.7 724.1,263.6C723,260.5 721.2,256.6 719,253.2C716.7,249.7 714.1,246.2 710.7,242.7C707.3,239.3 703.1,235.5 698.3,232.3C693.5,229.2 687.4,226.3 681.7,224C676,221.7 669.3,219.5 664.1,218.3C659,217 654.7,216.7 650.7,216.5C646.7,216.3 643.5,216.4 640.4,216.9C637.2,217.5 635,218.1 632.1,219.8C629.1,221.5 625.5,224.5 622.8,227.1C620,229.7 618.1,232 615.5,235.5C612.9,238.9 609.8,244.1 607.2,248C604.7,251.8 602.1,255.1 600,258.4C597.9,261.7 595.9,265.1 594.8,267.7C593.8,270.3 593.5,272.1 593.8,274C594.1,275.9 595.2,277.6 596.9,279.2C598.6,280.8 600.7,282 604.1,283.4C607.6,284.8 612.8,286.1 617.6,287.5C622.4,288.9 629.3,290.5 633.1,291.7C636.9,292.9 637.8,293.8 640.4,294.8C642.9,295.9 645.5,296.7 648.6,297.9C651.7,299.2 655.5,300.7 659,302.1C662.4,303.5 666.7,305.5 669.3,306.3C671.9,307.1 672.9,307.3 674.5,306.8C676,306.3 677.4,304.6 678.6,303.2C679.8,301.7 680.7,299.7 681.7,297.9C682.8,296.2 682.1,293.4 684.8,292.7C687.6,292 694,294.3 698.3,293.8C702.6,293.3 707.3,291.2 710.7,289.6C714.1,288.1 716.7,286.3 719,284.4C721.2,282.5 723,280.2 724.1,278.2C725.3,276.1 725.7,274.3 725.7,271.9Z" fill="none" stroke="#434951" stroke-width="1.15"/>
<linearGradient id="ga2" x1="0" y1="0" x2="0" y2="1"><stop offset="0.000" stop-color="#dc5645"/><stop offset="0.112" stop-color="#ea8876"/><stop offset="0.224" stop-color="#f4b3a7"/><stop offset="0.335" stop-color="#fbdad4"/><stop offset="0.447" stop-color="#ffffff"/><stop offset="0.585" stop-color="#d6ddef"/><stop offset="0.724" stop-color="#a6b7db"/><stop offset="0.862" stop-color="#6f94c8"/><stop offset="1.000" stop-color="#2f70b3"/></linearGradient>
<rect x="765.1" y="224.1" width="18" height="88.8" fill="url(#ga2)"/>
<path d="M765.1,243.3h3.6 M779.5,243.3h3.6" stroke="#fff" stroke-opacity="0.8" stroke-width="0.8"/>
<text x="788.7" y="247.1" font-size="10" fill="#1a1a1a">0.005</text>
<path d="M765.1,263.8h3.6 M779.5,263.8h3.6" stroke="#fff" stroke-opacity="0.8" stroke-width="0.8"/>
<text x="788.7" y="267.6" font-size="10" fill="#1a1a1a">0.000</text>
<path d="M765.1,285h3.6 M779.5,285h3.6" stroke="#fff" stroke-opacity="0.8" stroke-width="0.8"/>
<text x="788.7" y="288.8" font-size="10" fill="#1a1a1a">−0.005</text>
<path d="M765.1,306.1h3.6 M779.5,306.1h3.6" stroke="#fff" stroke-opacity="0.8" stroke-width="0.8"/>
<text x="788.7" y="309.9" font-size="10" fill="#1a1a1a">−0.010</text>
<text x="765.9" y="217.3" font-size="11.8" fill="#1a1a1a"><tspan font-style="italic">β</tspan> value</text>
<text x="98.8" y="344.3" font-size="20" fill="#1f72a9" xml:space="preserve">Anxiety  symptom (exposure)</text>
<rect x="85.8" y="357.2" width="652.2" height="108" rx="20" ry="20" fill="none" stroke="#5353a3" stroke-width="0.95" stroke-dasharray="5.3 4.7"/>
<clipPath id="c9"><path d="M126.1,374.5C129.9,371.4 134.4,368.9 138.5,367.5C142.6,366.2 145.9,366.1 150.9,366.3C155.9,366.5 163.2,367.4 168.6,368.5C173.9,369.7 178.1,371 183.1,372.9C188.1,374.9 193.8,377.2 198.6,380.1C203.4,383 208.3,386.5 212.1,390.3C215.9,394 219,398.3 221.4,402.5C223.8,406.7 225.5,411.4 226.4,415.2C227.2,419.1 227.3,422.4 226.6,425.4C225.8,428.5 224,431.3 221.9,433.6C219.8,435.9 217,437.9 214.1,439.2C211.3,440.5 208.6,440.9 204.8,441.2C201,441.6 194.5,440.9 191.4,441.2C188.2,441.6 187.6,442 186.2,443.3C184.8,444.6 184.4,447.2 183.1,448.9C181.7,450.6 180,452.5 177.9,453.5C175.8,454.5 173.2,455 170.6,455C168,455 166.1,454.7 162.3,453.5C158.5,452.2 153,449.4 147.8,447.4C142.6,445.3 135.9,442.9 131.2,441.2C126.6,439.5 124,438.6 119.9,437.2C115.7,435.7 109.7,434.4 106.4,432.6C103,430.8 101.4,428.7 99.6,426.5C97.9,424.2 96.1,421.7 95.8,419.3C95.6,416.9 96.5,415.4 98.1,412.2C99.7,409 102.4,404.3 105.3,399.9C108.3,395.6 112.3,390.4 115.7,386.2C119.2,381.9 122.3,377.6 126.1,374.5Z"/></clipPath>
<path d="M126.1,374.5C129.9,371.4 134.4,368.9 138.5,367.5C142.6,366.2 145.9,366.1 150.9,366.3C155.9,366.5 163.2,367.4 168.6,368.5C173.9,369.7 178.1,371 183.1,372.9C188.1,374.9 193.8,377.2 198.6,380.1C203.4,383 208.3,386.5 212.1,390.3C215.9,394 219,398.3 221.4,402.5C223.8,406.7 225.5,411.4 226.4,415.2C227.2,419.1 227.3,422.4 226.6,425.4C225.8,428.5 224,431.3 221.9,433.6C219.8,435.9 217,437.9 214.1,439.2C211.3,440.5 208.6,440.9 204.8,441.2C201,441.6 194.5,440.9 191.4,441.2C188.2,441.6 187.6,442 186.2,443.3C184.8,444.6 184.4,447.2 183.1,448.9C181.7,450.6 180,452.5 177.9,453.5C175.8,454.5 173.2,455 170.6,455C168,455 166.1,454.7 162.3,453.5C158.5,452.2 153,449.4 147.8,447.4C142.6,445.3 135.9,442.9 131.2,441.2C126.6,439.5 124,438.6 119.9,437.2C115.7,435.7 109.7,434.4 106.4,432.6C103,430.8 101.4,428.7 99.6,426.5C97.9,424.2 96.1,421.7 95.8,419.3C95.6,416.9 96.5,415.4 98.1,412.2C99.7,409 102.4,404.3 105.3,399.9C108.3,395.6 112.3,390.4 115.7,386.2C119.2,381.9 122.3,377.6 126.1,374.5Z" fill="#ffffff"/>
<g clip-path="url(#c9)" stroke="#41474f" stroke-width="0.8" stroke-linejoin="round">
<path d="M126.6,374.5L125,377.5L124,382.6L127.1,385.2L124,392.8L125,402L121.9,407.1L120.9,411.7L115.7,412.2L111.6,411.7L108.5,413.2L103.3,414.2L101.2,416.3L89.8,416.3L89.8,359.2L126.6,359.2Z" fill="#fbe8e5"/>
<path d="M101.2,416.3L103.3,414.2L108.5,413.2L111.6,411.7L115.7,412.2L120.9,411.7L121.9,420.3L120.9,428.5L123,432.6L120.9,437.2L120.9,461.1L89.8,461.1L89.8,416.3Z" fill="#6b91c6"/>
<path d="M89.8,410.1L98.1,411.7L101.2,416.3L100.2,421.4L101,426.5L105.3,432.1L105.3,461.1L89.8,461.1Z" fill="#a7b9dc"/>
<path d="M169.1,359.2L219.3,359.2L219.3,392.8L210,392.8L206.9,389.8L198.6,384.7L189.3,381.1L177.9,379.6L172.7,373.4L169.1,368.9Z" fill="#a7b9dc"/>
<path d="M210,392.8L212.6,399.9L206.9,402L206.4,410.1L206.9,424.4L204.8,439.7L204.8,461.1L234.9,461.1L234.9,392.8Z" fill="#a7b9dc"/>
<path d="M177.9,379.6L189.3,381.1L198.6,384.7L206.9,389.8L210,392.8L212.6,399.9L206.9,402L206.4,410.1L195.5,410.1L193.4,407.1L189.3,401.5L186.2,393.8L181,386.7Z" fill="#a7b9dc"/>
<path d="M150.9,359.2L169.1,359.2L169.1,368.9L172.7,373.4L177.9,379.6L181,386.7L186.2,393.8L189.3,401.5L186.2,405L185.1,408.1L182,412.2L175.8,410.1L171.7,404L169.6,399.9L165.4,391.8L161.3,384.7L157.2,378.5L154,374.5L152,370.4Z" fill="#5a86c0"/>
<path d="M140.6,359.2L150.9,359.2L152,370.4L154,374.5L157.2,378.5L161.3,384.7L165.4,391.8L169.6,399.9L171.7,404L170.6,406.1L164.4,407.1L161.8,403.5L160.8,395.9L158.2,390.8L154,388.2L147.8,386.7L142.6,384.7L141.6,376.5Z" fill="#cbd6ea"/>
<path d="M115.7,359.2L140.6,359.2L141.6,376.5L142.6,384.7L135.4,386.7L127.1,385.2L124,382.6L125,377.5L126.6,374.5L115.7,374.5Z" fill="#e0e7f3"/>
<path d="M147.8,386.7L154,388.2L158.2,390.8L160.8,395.9L161.8,403.5L156.1,403L146.8,399.9L146.3,392.8Z" fill="#ffffff"/>
<path d="M135.4,386.7L142.6,384.7L147.8,386.7L146.3,392.8L146.8,399.9L146.3,404L144.7,410.1L143.7,420.3L138.5,417.3L135.4,410.1L137.5,399.9L136.4,392.8Z" fill="#e0e7f3"/>
<path d="M127.1,385.2L135.4,386.7L136.4,392.8L137.5,399.9L135.4,410.1L131.2,415.2L128.1,412.2L120.9,411.7L121.9,407.1L125,402L124,392.8Z" fill="#fbe8e5"/>
<path d="M120.9,411.7L128.1,412.2L131.2,415.2L135.4,410.1L138.5,417.3L143.7,420.3L140.6,430.5L140.6,433.6L133.3,434.6L123,432.6L120.9,428.5L121.9,420.3Z" fill="#bac8e3"/>
<path d="M120.9,437.2L123,432.6L133.3,434.6L140.6,433.6L144.7,439.7L143.7,461.1L120.9,461.1Z" fill="#cbd6ea"/>
<path d="M143.7,420.3L147.8,424.4L156.1,427.5L162.3,430.5L166.5,436.6L168.6,440.7L165.4,443.8L166.5,447.9L157.2,443.8L152,439.7L144.7,439.7L140.6,433.6L140.6,430.5Z" fill="#e0e7f3"/>
<path d="M144.7,439.7L152,439.7L157.2,443.8L166.5,447.9L167.5,450.9L167.5,461.1L143.7,461.1Z" fill="#e0e7f3"/>
<path d="M144.7,410.1L147.8,416.3L156.1,420.3L164.4,428.5L166.5,436.6L162.3,430.5L156.1,427.5L147.8,424.4L143.7,420.3Z" fill="#e0e7f3"/>
<path d="M146.8,399.9L156.1,403L161.8,403.5L161.3,407.1L162.3,413.2L158.2,415.2L152,410.1L146.3,404Z" fill="#f3f5fa"/>
<path d="M161.3,407.1L161.8,403.5L164.4,407.1L170.6,406.1L171.7,404L175.8,410.1L182,412.2L183.1,418.3L175.8,417.3L168.6,415.2L162.3,413.2Z" fill="#8ea7d2"/>
<path d="M162.3,413.2L168.6,415.2L175.8,417.3L183.1,418.3L186.2,422.4L195.5,424.4L196.5,425.4L193.4,432.6L191.4,441.2L191.4,443.8L186.2,443.8L185.1,440.7L175.8,432.6L166.5,422.4L158.2,415.2Z" fill="#a7b9dc"/>
<path d="M146.3,404L152,410.1L158.2,415.2L166.5,422.4L164.4,428.5L156.1,420.3L147.8,416.3L144.7,410.1Z" fill="#cbd6ea"/>
<path d="M166.5,422.4L175.8,432.6L185.1,440.7L183.1,443.8L172.7,434.6L164.4,428.5Z" fill="#cbd6ea"/>
<path d="M189.3,401.5L193.4,407.1L195.5,410.1L194.7,419.3L191.4,417.3L186.2,416.3L184.1,417.8L183.1,418.3L182,412.2L185.1,408.1L186.2,405Z" fill="#a7b9dc"/>
<path d="M195.5,410.1L206.4,410.1L206.9,424.4L196.5,425.4L195.5,424.4L195.3,421.9L194.7,419.3Z" fill="#e0e7f3"/>
<path d="M184.1,417.8L186.2,416.3L191.4,417.3L194.7,419.3L195.3,421.9L192.4,423.6L187.2,422.2L184.1,420.1Z" fill="#e0e7f3"/>
<path d="M196.5,425.4L206.9,424.4L204.8,439.7L204.8,461.1L191.4,461.1L191.4,441.2L193.4,432.6Z" fill="#a7b9dc"/>
<path d="M166.5,436.6L164.4,428.5L172.7,434.6L175.8,438.7L174.8,450.9L171.7,461.1L167.5,461.1L167.5,450.9L166.5,447.9L165.4,443.8L168.6,440.7Z" fill="#cbd6ea"/>
<path d="M172.7,434.6L183.1,443.8L185.1,440.7L186.2,443.8L191.4,443.8L191.4,461.1L171.7,461.1L174.8,450.9L175.8,438.7Z" fill="#a7b9dc"/>
<path d="M167.5,449.4L175,449.4L175,461.1L167.5,461.1Z" fill="#cbd6ea"/>
</g>
<path d="M126.1,374.5C129.9,371.4 134.4,368.9 138.5,367.5C142.6,366.2 145.9,366.1 150.9,366.3C155.9,366.5 163.2,367.4 168.6,368.5C173.9,369.7 178.1,371 183.1,372.9C188.1,374.9 193.8,377.2 198.6,380.1C203.4,383 208.3,386.5 212.1,390.3C215.9,394 219,398.3 221.4,402.5C223.8,406.7 225.5,411.4 226.4,415.2C227.2,419.1 227.3,422.4 226.6,425.4C225.8,428.5 224,431.3 221.9,433.6C219.8,435.9 217,437.9 214.1,439.2C211.3,440.5 208.6,440.9 204.8,441.2C201,441.6 194.5,440.9 191.4,441.2C188.2,441.6 187.6,442 186.2,443.3C184.8,444.6 184.4,447.2 183.1,448.9C181.7,450.6 180,452.5 177.9,453.5C175.8,454.5 173.2,455 170.6,455C168,455 166.1,454.7 162.3,453.5C158.5,452.2 153,449.4 147.8,447.4C142.6,445.3 135.9,442.9 131.2,441.2C126.6,439.5 124,438.6 119.9,437.2C115.7,435.7 109.7,434.4 106.4,432.6C103,430.8 101.4,428.7 99.6,426.5C97.9,424.2 96.1,421.7 95.8,419.3C95.6,416.9 96.5,415.4 98.1,412.2C99.7,409 102.4,404.3 105.3,399.9C108.3,395.6 112.3,390.4 115.7,386.2C119.2,381.9 122.3,377.6 126.1,374.5Z" fill="none" stroke="#434951" stroke-width="1.15"/>
<clipPath id="c10"><path d="M259.8,420.6C259.8,418.3 260.2,415.5 261.4,412.4C262.5,409.4 264.3,405.6 266.5,402.2C268.8,398.8 271.4,395.4 274.8,391.9C278.3,388.5 282.4,384.8 287.2,381.7C292.1,378.6 298.1,375.8 303.8,373.5C309.5,371.2 316.2,369.1 321.4,367.8C326.6,366.6 330.9,366.3 334.9,366.1C338.8,365.9 342.1,366 345.2,366.5C348.3,367.1 350.6,367.7 353.5,369.4C356.4,371.1 360.1,374 362.8,376.6C365.6,379.1 367.5,381.3 370.1,384.8C372.6,388.2 375.8,393.3 378.3,397.1C380.9,400.8 383.5,404.1 385.6,407.3C387.7,410.6 389.7,414 390.8,416.5C391.8,419.1 392.1,420.8 391.8,422.7C391.5,424.6 390.4,426.3 388.7,427.8C387,429.4 384.9,430.6 381.4,431.9C378,433.3 372.8,434.7 368,436C363.2,437.4 356.3,438.9 352.5,440.1C348.7,441.3 347.8,442.2 345.2,443.2C342.6,444.2 340,445.1 336.9,446.3C333.8,447.5 330,449 326.6,450.4C323.1,451.8 318.8,453.7 316.2,454.5C313.6,455.3 312.6,455.5 311,455C309.5,454.5 308.1,452.9 306.9,451.4C305.7,450 304.8,448 303.8,446.3C302.8,444.6 303.5,441.8 300.7,441.2C297.9,440.5 291.5,442.7 287.2,442.2C282.9,441.7 278.3,439.6 274.8,438.1C271.4,436.5 268.8,434.8 266.5,433C264.3,431.1 262.5,428.9 261.4,426.8C260.2,424.8 259.8,423 259.8,420.6Z"/></clipPath>
<path d="M259.8,420.6C259.8,418.3 260.2,415.5 261.4,412.4C262.5,409.4 264.3,405.6 266.5,402.2C268.8,398.8 271.4,395.4 274.8,391.9C278.3,388.5 282.4,384.8 287.2,381.7C292.1,378.6 298.1,375.8 303.8,373.5C309.5,371.2 316.2,369.1 321.4,367.8C326.6,366.6 330.9,366.3 334.9,366.1C338.8,365.9 342.1,366 345.2,366.5C348.3,367.1 350.6,367.7 353.5,369.4C356.4,371.1 360.1,374 362.8,376.6C365.6,379.1 367.5,381.3 370.1,384.8C372.6,388.2 375.8,393.3 378.3,397.1C380.9,400.8 383.5,404.1 385.6,407.3C387.7,410.6 389.7,414 390.8,416.5C391.8,419.1 392.1,420.8 391.8,422.7C391.5,424.6 390.4,426.3 388.7,427.8C387,429.4 384.9,430.6 381.4,431.9C378,433.3 372.8,434.7 368,436C363.2,437.4 356.3,438.9 352.5,440.1C348.7,441.3 347.8,442.2 345.2,443.2C342.6,444.2 340,445.1 336.9,446.3C333.8,447.5 330,449 326.6,450.4C323.1,451.8 318.8,453.7 316.2,454.5C313.6,455.3 312.6,455.5 311,455C309.5,454.5 308.1,452.9 306.9,451.4C305.7,450 304.8,448 303.8,446.3C302.8,444.6 303.5,441.8 300.7,441.2C297.9,440.5 291.5,442.7 287.2,442.2C282.9,441.7 278.3,439.6 274.8,438.1C271.4,436.5 268.8,434.8 266.5,433C264.3,431.1 262.5,428.9 261.4,426.8C260.2,424.8 259.8,423 259.8,420.6Z" fill="#ffffff"/>
<g clip-path="url(#c10)" stroke="#41474f" stroke-width="0.8" stroke-linejoin="round">
<path d="M254.1,359.1L303.8,359.1L303.8,373.5L302.8,380.7L287.2,387.8L276.9,396L267.6,408.3L265.5,420.6L267.6,429.9L254.1,461.7Z" fill="#a7b9dc"/>
<path d="M302.8,380.7L303.8,389.9L288.3,400.1L277.9,408.3L273.3,415.5L274.8,421.7L284.1,429.9L283.1,433L267.6,429.9L265.5,420.6L267.6,408.3L276.9,396L287.2,387.8Z" fill="#6b91c6"/>
<path d="M303.8,389.9L312.1,388.9L316.2,390.4L322.4,387.8L324.5,404.2L316.2,404.8L305.9,407.3L295.5,412.4L289.3,419.6L289.3,422.7L285.2,429.9L284.1,429.9L274.8,421.7L273.3,415.5L277.9,408.3L288.3,400.1Z" fill="#e0e7f3"/>
<path d="M303.8,359.1L322.4,359.1L322.4,370.4L320.9,377.6L322.4,387.8L316.2,390.4L312.1,388.9L303.8,389.9L302.8,380.7L303.8,373.5Z" fill="#cbd6ea"/>
<path d="M322.4,359.1L336.9,359.1L336.9,367.3L339,384.2L328.6,387.8L322.4,387.8L320.9,377.6L322.4,370.4Z" fill="#4a7dbb"/>
<path d="M336.9,359.1L351.4,359.1L350.9,369.9L351.4,377.1L341.1,383.7L339,384.2L336.9,367.3Z" fill="#cbd6ea"/>
<path d="M322.4,387.8L328.6,387.8L339,384.2L341.1,383.7L342.1,387.8L356.6,396L353.5,405.3L351.4,421.7L347.3,422.7L345.2,416.5L340,409.4L330.7,406.3L324.5,404.2Z" fill="#e0e7f3"/>
<path d="M351.4,359.1L399,359.1L399,397.1L378.3,397.1L371.1,403.2L369,408.3L365.4,414.5L361.3,419.6L351.4,421.7L353.5,405.3L356.6,396L342.1,387.8L341.1,383.7L351.4,377.1L350.9,369.9Z" fill="#e0e7f3"/>
<path d="M378.3,397.1L399,397.1L399,412.4L387.7,412.4L383.5,413L375.2,410.4L370.1,407.3L371.1,403.2Z" fill="#bac8e3"/>
<path d="M365.4,414.5L371.1,413L375.2,410.4L383.5,413L385.6,418.6L382.5,425.8L370.1,424.8L361.8,422.7L361.3,419.6Z" fill="#a7b9dc"/>
<path d="M369,408.3L370.1,407.3L375.2,410.4L371.1,413L365.4,414.5Z" fill="#f6c8c0"/>
<path d="M383.5,413L387.7,412.4L399,412.4L399,430.9L383.5,430.9L382.5,425.8L385.6,418.6Z" fill="#a7b9dc"/>
<path d="M351.4,421.7L361.3,419.6L361.8,422.7L370.1,424.8L382.5,425.8L383.5,430.9L381.4,432.1L368,436.2L360.7,435.5L345.2,439.1L346.2,434L349.4,428.9L347.3,422.7Z" fill="#cbd6ea"/>
<path d="M360.7,435.5L368,436.2L381.4,432.1L383.5,430.9L399,430.9L399,451.4L361.8,451.4L361.8,438.6Z" fill="#bac8e3"/>
<path d="M345.2,439.1L360.7,435.5L361.8,438.6L361.8,451.4L345.2,451.4Z" fill="#e0e7f3"/>
<path d="M346.2,434L345.2,439.1L345.2,451.4L330.7,456.5L330.7,442.2L340,437.1Z" fill="#a7b9dc"/>
<path d="M330.7,442.2L330.7,456.5L316.2,461.7L312.1,453.5L311.6,450.4L326.6,444.2Z" fill="#a7b9dc"/>
<path d="M302.2,441.2L305.9,447.3L311.6,450.4L312.1,453.5L316.2,461.7L299.7,461.7L299.7,441.2Z" fill="#cbd6ea"/>
<path d="M289.3,422.7L292.4,426.3L301.2,426.8L302.2,441.2L299.7,441.2L299.7,461.7L287.2,461.7L287.2,442.2L284.1,433L284.1,429.9L285.2,429.9Z" fill="#6b91c6"/>
<path d="M267.6,429.9L283.1,433L284.1,433L287.2,442.2L287.2,461.7L254.1,461.7Z" fill="#a7b9dc"/>
<path d="M289.3,419.6L295.5,412.4L305.9,407.3L316.2,404.8L324.5,404.2L330.7,406.3L340,409.4L345.2,416.5L347.3,422.7L349.4,428.9L346.2,434L340,437.1L326.6,444.2L311.6,450.4L305.9,447.3L302.2,441.2L301.2,426.8L292.4,426.3L289.3,422.7Z" fill="#ffffff"/>
</g>
<path d="M259.8,420.6C259.8,418.3 260.2,415.5 261.4,412.4C262.5,409.4 264.3,405.6 266.5,402.2C268.8,398.8 271.4,395.4 274.8,391.9C278.3,388.5 282.4,384.8 287.2,381.7C292.1,378.6 298.1,375.8 303.8,373.5C309.5,371.2 316.2,369.1 321.4,367.8C326.6,366.6 330.9,366.3 334.9,366.1C338.8,365.9 342.1,366 345.2,366.5C348.3,367.1 350.6,367.7 353.5,369.4C356.4,371.1 360.1,374 362.8,376.6C365.6,379.1 367.5,381.3 370.1,384.8C372.6,388.2 375.8,393.3 378.3,397.1C380.9,400.8 383.5,404.1 385.6,407.3C387.7,410.6 389.7,414 390.8,416.5C391.8,419.1 392.1,420.8 391.8,422.7C391.5,424.6 390.4,426.3 388.7,427.8C387,429.4 384.9,430.6 381.4,431.9C378,433.3 372.8,434.7 368,436C363.2,437.4 356.3,438.9 352.5,440.1C348.7,441.3 347.8,442.2 345.2,443.2C342.6,444.2 340,445.1 336.9,446.3C333.8,447.5 330,449 326.6,450.4C323.1,451.8 318.8,453.7 316.2,454.5C313.6,455.3 312.6,455.5 311,455C309.5,454.5 308.1,452.9 306.9,451.4C305.7,450 304.8,448 303.8,446.3C302.8,444.6 303.5,441.8 300.7,441.2C297.9,440.5 291.5,442.7 287.2,442.2C282.9,441.7 278.3,439.6 274.8,438.1C271.4,436.5 268.8,434.8 266.5,433C264.3,431.1 262.5,428.9 261.4,426.8C260.2,424.8 259.8,423 259.8,420.6Z" fill="none" stroke="#434951" stroke-width="1.15"/>
<clipPath id="c11"><path d="M525.9,374.5C522.1,371.4 517.6,368.9 513.5,367.5C509.4,366.2 506.1,366.1 501.1,366.3C496.1,366.5 488.9,367.4 483.5,368.5C478.2,369.7 474,371 469,372.9C464,374.9 458.4,377.2 453.5,380.1C448.7,383 443.9,386.5 440.1,390.3C436.3,394 433.2,398.3 430.8,402.5C428.4,406.7 426.7,411.4 425.8,415.2C425,419.1 424.9,422.4 425.6,425.4C426.4,428.5 428.2,431.3 430.3,433.6C432.3,435.9 435.2,437.9 438,439.2C440.9,440.5 443.5,440.9 447.3,441.2C451.1,441.6 457.7,440.9 460.8,441.2C463.9,441.6 464.6,442 465.9,443.3C467.3,444.6 467.7,447.2 469,448.9C470.4,450.6 472.1,452.5 474.2,453.5C476.3,454.5 478.9,455 481.4,455C484,455 485.9,454.7 489.7,453.5C493.5,452.2 499,449.4 504.2,447.4C509.4,445.3 516.1,442.9 520.7,441.2C525.4,439.5 528,438.6 532.1,437.2C536.2,435.7 542.2,434.4 545.5,432.6C548.9,430.8 550.5,428.7 552.3,426.5C554,424.2 555.8,421.7 556.1,419.3C556.3,416.9 555.4,415.4 553.8,412.2C552.2,409 549.5,404.3 546.6,399.9C543.6,395.6 539.7,390.4 536.2,386.2C532.8,381.9 529.7,377.6 525.9,374.5Z"/></clipPath>
<path d="M525.9,374.5C522.1,371.4 517.6,368.9 513.5,367.5C509.4,366.2 506.1,366.1 501.1,366.3C496.1,366.5 488.9,367.4 483.5,368.5C478.2,369.7 474,371 469,372.9C464,374.9 458.4,377.2 453.5,380.1C448.7,383 443.9,386.5 440.1,390.3C436.3,394 433.2,398.3 430.8,402.5C428.4,406.7 426.7,411.4 425.8,415.2C425,419.1 424.9,422.4 425.6,425.4C426.4,428.5 428.2,431.3 430.3,433.6C432.3,435.9 435.2,437.9 438,439.2C440.9,440.5 443.5,440.9 447.3,441.2C451.1,441.6 457.7,440.9 460.8,441.2C463.9,441.6 464.6,442 465.9,443.3C467.3,444.6 467.7,447.2 469,448.9C470.4,450.6 472.1,452.5 474.2,453.5C476.3,454.5 478.9,455 481.4,455C484,455 485.9,454.7 489.7,453.5C493.5,452.2 499,449.4 504.2,447.4C509.4,445.3 516.1,442.9 520.7,441.2C525.4,439.5 528,438.6 532.1,437.2C536.2,435.7 542.2,434.4 545.5,432.6C548.9,430.8 550.5,428.7 552.3,426.5C554,424.2 555.8,421.7 556.1,419.3C556.3,416.9 555.4,415.4 553.8,412.2C552.2,409 549.5,404.3 546.6,399.9C543.6,395.6 539.7,390.4 536.2,386.2C532.8,381.9 529.7,377.6 525.9,374.5Z" fill="#ffffff"/>
<g clip-path="url(#c11)" stroke="#41474f" stroke-width="0.8" stroke-linejoin="round">
<path d="M525.4,374.5L526.9,377.5L528,382.6L524.9,385.2L528,392.8L526.9,402L530,407.1L531.1,411.7L536.2,412.2L540.4,411.7L543.5,413.2L548.6,414.2L550.7,416.3L562.1,416.3L562.1,359.2L525.4,359.2Z" fill="#a7b9dc"/>
<path d="M550.7,416.3L548.6,414.2L543.5,413.2L540.4,411.7L536.2,412.2L531.1,411.7L530,420.3L531.1,428.5L529,432.6L531.1,437.2L531.1,461.1L562.1,461.1L562.1,416.3Z" fill="#8ea7d2"/>
<path d="M562.1,410.1L553.8,411.7L550.7,416.3L551.7,421.4L550.9,426.5L546.6,432.1L546.6,461.1L562.1,461.1Z" fill="#8ea7d2"/>
<path d="M483,359.2L432.9,359.2L432.9,392.8L442.2,392.8L445.3,389.8L453.5,384.7L462.8,381.1L474.2,379.6L479.4,373.4L483,368.9Z" fill="#9cb1d8"/>
<path d="M442.2,392.8L439.6,399.9L445.3,402L445.8,410.1L445.3,424.4L447.3,439.7L447.3,461.1L417.3,461.1L417.3,392.8Z" fill="#a7b9dc"/>
<path d="M474.2,379.6L462.8,381.1L453.5,384.7L445.3,389.8L442.2,392.8L439.6,399.9L445.3,402L445.8,410.1L456.6,410.1L458.7,407.1L462.8,401.5L465.9,393.8L471.1,386.7Z" fill="#cbd6ea"/>
<path d="M501.1,359.2L483,359.2L483,368.9L479.4,373.4L474.2,379.6L471.1,386.7L465.9,393.8L462.8,401.5L465.9,405L467,408.1L470.1,412.2L476.3,410.1L480.4,404L482.5,399.9L486.6,391.8L490.8,384.7L494.9,378.5L498,374.5L500.1,370.4Z" fill="#8ea7d2"/>
<path d="M511.4,359.2L501.1,359.2L500.1,370.4L498,374.5L494.9,378.5L490.8,384.7L486.6,391.8L482.5,399.9L480.4,404L481.4,406.1L487.6,407.1L490.2,403.5L491.3,395.9L493.9,390.8L498,388.2L504.2,386.7L509.4,384.7L510.4,376.5Z" fill="#cbd6ea"/>
<path d="M536.2,359.2L511.4,359.2L510.4,376.5L509.4,384.7L516.6,386.7L524.9,385.2L528,382.6L526.9,377.5L525.4,374.5L536.2,374.5Z" fill="#a7b9dc"/>
<path d="M504.2,386.7L498,388.2L493.9,390.8L491.3,395.9L490.2,403.5L495.9,403L505.2,399.9L505.7,392.8Z" fill="#cbd6ea"/>
<path d="M516.6,386.7L509.4,384.7L504.2,386.7L505.7,392.8L505.2,399.9L505.7,404L507.3,410.1L508.3,420.3L513.5,417.3L516.6,410.1L514.5,399.9L515.6,392.8Z" fill="#fbe8e5"/>
<path d="M524.9,385.2L516.6,386.7L515.6,392.8L514.5,399.9L516.6,410.1L520.7,415.2L523.8,412.2L531.1,411.7L530,407.1L526.9,402L528,392.8Z" fill="#fbdfda"/>
<path d="M531.1,411.7L523.8,412.2L520.7,415.2L516.6,410.1L513.5,417.3L508.3,420.3L511.4,430.5L511.4,433.6L518.7,434.6L529,432.6L531.1,428.5L530,420.3Z" fill="#e0e7f3"/>
<path d="M531.1,437.2L529,432.6L518.7,434.6L511.4,433.6L507.3,439.7L508.3,461.1L531.1,461.1Z" fill="#a7b9dc"/>
<path d="M508.3,420.3L504.2,424.4L495.9,427.5L489.7,430.5L485.6,436.6L483.5,440.7L486.6,443.8L485.6,447.9L494.9,443.8L500.1,439.7L507.3,439.7L511.4,433.6L511.4,430.5Z" fill="#cbd6ea"/>
<path d="M507.3,439.7L500.1,439.7L494.9,443.8L485.6,447.9L484.5,450.9L484.5,461.1L508.3,461.1Z" fill="#fbe8e5"/>
<path d="M507.3,410.1L504.2,416.3L495.9,420.3L487.6,428.5L485.6,436.6L489.7,430.5L495.9,427.5L504.2,424.4L508.3,420.3Z" fill="#ffffff"/>
<path d="M505.2,399.9L495.9,403L490.2,403.5L490.8,407.1L489.7,413.2L493.9,415.2L500.1,410.1L505.7,404Z" fill="#bac8e3"/>
<path d="M490.8,407.1L490.2,403.5L487.6,407.1L481.4,406.1L480.4,404L476.3,410.1L470.1,412.2L469,418.3L476.3,417.3L483.5,415.2L489.7,413.2Z" fill="#a7b9dc"/>
<path d="M489.7,413.2L483.5,415.2L476.3,417.3L469,418.3L465.9,422.4L456.6,424.4L455.6,425.4L458.7,432.6L460.8,441.2L460.8,443.8L465.9,443.8L467,440.7L476.3,432.6L485.6,422.4L493.9,415.2Z" fill="#a7b9dc"/>
<path d="M505.7,404L500.1,410.1L493.9,415.2L485.6,422.4L487.6,428.5L495.9,420.3L504.2,416.3L507.3,410.1Z" fill="#bac8e3"/>
<path d="M485.6,422.4L476.3,432.6L467,440.7L469,443.8L479.4,434.6L487.6,428.5Z" fill="#f6c8c0"/>
<path d="M462.8,401.5L458.7,407.1L456.6,410.1L457.5,419.3L460.8,417.3L465.9,416.3L468,417.8L469,418.3L470.1,412.2L467,408.1L465.9,405Z" fill="#bac8e3"/>
<path d="M456.6,410.1L445.8,410.1L445.3,424.4L455.6,425.4L456.6,424.4L456.8,421.9L457.5,419.3Z" fill="#bac8e3"/>
<path d="M468,417.8L465.9,416.3L460.8,417.3L454.6,419.1L450.6,421.4L451.3,424L456.6,424.6L459.7,423.6L464.9,422.2L468,420.1Z" fill="#2f6bb0"/>
<path d="M455.6,425.4L445.3,424.4L447.3,439.7L447.3,461.1L460.8,461.1L460.8,441.2L458.7,432.6Z" fill="#8ea7d2"/>
<path d="M485.6,436.6L487.6,428.5L479.4,434.6L476.3,438.7L477.3,450.9L480.4,461.1L484.5,461.1L484.5,450.9L485.6,447.9L486.6,443.8L483.5,440.7Z" fill="#8ea7d2"/>
<path d="M479.4,434.6L469,443.8L467,440.7L465.9,443.8L460.8,443.8L460.8,461.1L480.4,461.1L477.3,450.9L476.3,438.7Z" fill="#a7b9dc"/>
<path d="M484.5,449.4L477.1,449.4L477.1,461.1L484.5,461.1Z" fill="#f4b7ad"/>
</g>
<path d="M525.9,374.5C522.1,371.4 517.6,368.9 513.5,367.5C509.4,366.2 506.1,366.1 501.1,366.3C496.1,366.5 488.9,367.4 483.5,368.5C478.2,369.7 474,371 469,372.9C464,374.9 458.4,377.2 453.5,380.1C448.7,383 443.9,386.5 440.1,390.3C436.3,394 433.2,398.3 430.8,402.5C428.4,406.7 426.7,411.4 425.8,415.2C425,419.1 424.9,422.4 425.6,425.4C426.4,428.5 428.2,431.3 430.3,433.6C432.3,435.9 435.2,437.9 438,439.2C440.9,440.5 443.5,440.9 447.3,441.2C451.1,441.6 457.7,440.9 460.8,441.2C463.9,441.6 464.6,442 465.9,443.3C467.3,444.6 467.7,447.2 469,448.9C470.4,450.6 472.1,452.5 474.2,453.5C476.3,454.5 478.9,455 481.4,455C484,455 485.9,454.7 489.7,453.5C493.5,452.2 499,449.4 504.2,447.4C509.4,445.3 516.1,442.9 520.7,441.2C525.4,439.5 528,438.6 532.1,437.2C536.2,435.7 542.2,434.4 545.5,432.6C548.9,430.8 550.5,428.7 552.3,426.5C554,424.2 555.8,421.7 556.1,419.3C556.3,416.9 555.4,415.4 553.8,412.2C552.2,409 549.5,404.3 546.6,399.9C543.6,395.6 539.7,390.4 536.2,386.2C532.8,381.9 529.7,377.6 525.9,374.5Z" fill="none" stroke="#434951" stroke-width="1.15"/>
<clipPath id="c12"><path d="M721,420.6C721,418.3 720.6,415.5 719.4,412.4C718.3,409.4 716.5,405.6 714.3,402.2C712,398.8 709.4,395.4 706,391.9C702.6,388.5 698.4,384.8 693.6,381.7C688.8,378.6 682.7,375.8 677,373.5C671.3,371.2 664.6,369.1 659.4,367.8C654.3,366.6 650,366.3 646,366.1C642,365.9 638.8,366 635.7,366.5C632.5,367.1 630.3,367.7 627.4,369.4C624.4,371.1 620.8,374 618.1,376.6C615.3,379.1 613.4,381.3 610.8,384.8C608.2,388.2 605.1,393.3 602.5,397.1C600,400.8 597.4,404.1 595.3,407.3C593.2,410.6 591.2,414 590.1,416.5C589.1,419.1 588.8,420.8 589.1,422.7C589.4,424.6 590.5,426.3 592.2,427.8C593.9,429.4 596,430.6 599.4,431.9C602.9,433.3 608.1,434.7 612.9,436C617.7,437.4 624.6,438.9 628.4,440.1C632.2,441.3 633.1,442.2 635.7,443.2C638.2,444.2 640.8,445.1 643.9,446.3C647,447.5 650.8,449 654.3,450.4C657.7,451.8 662,453.7 664.6,454.5C667.2,455.3 668.2,455.5 669.8,455C671.3,454.5 672.7,452.9 673.9,451.4C675.1,450 676,448 677,446.3C678.1,444.6 677.4,441.8 680.1,441.2C682.9,440.5 689.3,442.7 693.6,442.2C697.9,441.7 702.6,439.6 706,438.1C709.4,436.5 712,434.8 714.3,433C716.5,431.1 718.3,428.9 719.4,426.8C720.6,424.8 721,423 721,420.6Z"/></clipPath>
<path d="M721,420.6C721,418.3 720.6,415.5 719.4,412.4C718.3,409.4 716.5,405.6 714.3,402.2C712,398.8 709.4,395.4 706,391.9C702.6,388.5 698.4,384.8 693.6,381.7C688.8,378.6 682.7,375.8 677,373.5C671.3,371.2 664.6,369.1 659.4,367.8C654.3,366.6 650,366.3 646,366.1C642,365.9 638.8,366 635.7,366.5C632.5,367.1 630.3,367.7 627.4,369.4C624.4,371.1 620.8,374 618.1,376.6C615.3,379.1 613.4,381.3 610.8,384.8C608.2,388.2 605.1,393.3 602.5,397.1C600,400.8 597.4,404.1 595.3,407.3C593.2,410.6 591.2,414 590.1,416.5C589.1,419.1 588.8,420.8 589.1,422.7C589.4,424.6 590.5,426.3 592.2,427.8C593.9,429.4 596,430.6 599.4,431.9C602.9,433.3 608.1,434.7 612.9,436C617.7,437.4 624.6,438.9 628.4,440.1C632.2,441.3 633.1,442.2 635.7,443.2C638.2,444.2 640.8,445.1 643.9,446.3C647,447.5 650.8,449 654.3,450.4C657.7,451.8 662,453.7 664.6,454.5C667.2,455.3 668.2,455.5 669.8,455C671.3,454.5 672.7,452.9 673.9,451.4C675.1,450 676,448 677,446.3C678.1,444.6 677.4,441.8 680.1,441.2C682.9,440.5 689.3,442.7 693.6,442.2C697.9,441.7 702.6,439.6 706,438.1C709.4,436.5 712,434.8 714.3,433C716.5,431.1 718.3,428.9 719.4,426.8C720.6,424.8 721,423 721,420.6Z" fill="#ffffff"/>
<g clip-path="url(#c12)" stroke="#41474f" stroke-width="0.8" stroke-linejoin="round">
<path d="M726.7,359.1L677,359.1L677,373.5L678.1,380.7L693.6,387.8L703.9,396L713.2,408.3L715.3,420.6L713.2,429.9L726.7,461.7Z" fill="#8ea7d2"/>
<path d="M678.1,380.7L677,389.9L692.6,400.1L702.9,408.3L707.6,415.5L706,421.7L696.7,429.9L697.7,433L713.2,429.9L715.3,420.6L713.2,408.3L703.9,396L693.6,387.8Z" fill="#5a86c0"/>
<path d="M677,389.9L668.8,388.9L664.6,390.4L658.4,387.8L656.3,404.2L664.6,404.8L675,407.3L685.3,412.4L691.5,419.6L691.5,422.7L695.7,429.9L696.7,429.9L706,421.7L707.6,415.5L702.9,408.3L692.6,400.1Z" fill="#f3f5fa"/>
<path d="M677,359.1L658.4,359.1L658.4,370.4L660,377.6L658.4,387.8L664.6,390.4L668.8,388.9L677,389.9L678.1,380.7L677,373.5Z" fill="#6b91c6"/>
<path d="M658.4,359.1L643.9,359.1L643.9,367.3L641.9,384.2L652.2,387.8L658.4,387.8L660,377.6L658.4,370.4Z" fill="#8ea7d2"/>
<path d="M643.9,359.1L629.4,359.1L630,369.9L629.4,377.1L639.8,383.7L641.9,384.2L643.9,367.3Z" fill="#cbd6ea"/>
<path d="M658.4,387.8L652.2,387.8L641.9,384.2L639.8,383.7L638.8,387.8L624.3,396L627.4,405.3L629.4,421.7L633.6,422.7L635.7,416.5L640.8,409.4L650.1,406.3L656.3,404.2Z" fill="#e0e7f3"/>
<path d="M629.4,359.1L581.9,359.1L581.9,397.1L602.5,397.1L609.8,403.2L611.9,408.3L615.5,414.5L619.6,419.6L629.4,421.7L627.4,405.3L624.3,396L638.8,387.8L639.8,383.7L629.4,377.1L630,369.9Z" fill="#e0e7f3"/>
<path d="M602.5,397.1L581.9,397.1L581.9,412.4L593.2,412.4L597.4,413L605.7,410.4L610.8,407.3L609.8,403.2Z" fill="#8ea7d2"/>
<path d="M615.5,414.5L609.8,413L605.7,410.4L597.4,413L595.3,418.6L598.4,425.8L610.8,424.8L619.1,422.7L619.6,419.6Z" fill="#8ea7d2"/>
<path d="M611.9,408.3L610.8,407.3L605.7,410.4L609.8,413L615.5,414.5Z" fill="#cbd6ea"/>
<path d="M597.4,413L593.2,412.4L581.9,412.4L581.9,430.9L597.4,430.9L598.4,425.8L595.3,418.6Z" fill="#6b91c6"/>
<path d="M629.4,421.7L619.6,419.6L619.1,422.7L610.8,424.8L598.4,425.8L597.4,430.9L599.4,432.1L612.9,436.2L620.1,435.5L635.7,439.1L634.6,434L631.5,428.9L633.6,422.7Z" fill="#e0e7f3"/>
<path d="M620.1,435.5L612.9,436.2L599.4,432.1L597.4,430.9L581.9,430.9L581.9,451.4L619.1,451.4L619.1,438.6Z" fill="#bac8e3"/>
<path d="M635.7,439.1L620.1,435.5L619.1,438.6L619.1,451.4L635.7,451.4Z" fill="#f4b7ad"/>
<path d="M634.6,434L635.7,439.1L635.7,451.4L650.1,456.5L650.1,442.2L640.8,437.1Z" fill="#e0e7f3"/>
<path d="M650.1,442.2L650.1,456.5L664.6,461.7L668.8,453.5L669.3,450.4L654.3,444.2Z" fill="#e0e7f3"/>
<path d="M678.6,441.2L675,447.3L669.3,450.4L668.8,453.5L664.6,461.7L681.2,461.7L681.2,441.2Z" fill="#a7b9dc"/>
<path d="M691.5,422.7L688.4,426.3L679.6,426.8L678.6,441.2L681.2,441.2L681.2,461.7L693.6,461.7L693.6,442.2L696.7,433L696.7,429.9L695.7,429.9Z" fill="#bac8e3"/>
<path d="M713.2,429.9L697.7,433L696.7,433L693.6,442.2L693.6,461.7L726.7,461.7Z" fill="#a7b9dc"/>
<path d="M691.5,419.6L685.3,412.4L675,407.3L664.6,404.8L656.3,404.2L650.1,406.3L640.8,409.4L635.7,416.5L633.6,422.7L631.5,428.9L634.6,434L640.8,437.1L654.3,444.2L669.3,450.4L675,447.3L678.6,441.2L679.6,426.8L688.4,426.3L691.5,422.7Z" fill="#ffffff"/>
</g>
<path d="M721,420.6C721,418.3 720.6,415.5 719.4,412.4C718.3,409.4 716.5,405.6 714.3,402.2C712,398.8 709.4,395.4 706,391.9C702.6,388.5 698.4,384.8 693.6,381.7C688.8,378.6 682.7,375.8 677,373.5C671.3,371.2 664.6,369.1 659.4,367.8C654.3,366.6 650,366.3 646,366.1C642,365.9 638.8,366 635.7,366.5C632.5,367.1 630.3,367.7 627.4,369.4C624.4,371.1 620.8,374 618.1,376.6C615.3,379.1 613.4,381.3 610.8,384.8C608.2,388.2 605.1,393.3 602.5,397.1C600,400.8 597.4,404.1 595.3,407.3C593.2,410.6 591.2,414 590.1,416.5C589.1,419.1 588.8,420.8 589.1,422.7C589.4,424.6 590.5,426.3 592.2,427.8C593.9,429.4 596,430.6 599.4,431.9C602.9,433.3 608.1,434.7 612.9,436C617.7,437.4 624.6,438.9 628.4,440.1C632.2,441.3 633.1,442.2 635.7,443.2C638.2,444.2 640.8,445.1 643.9,446.3C647,447.5 650.8,449 654.3,450.4C657.7,451.8 662,453.7 664.6,454.5C667.2,455.3 668.2,455.5 669.8,455C671.3,454.5 672.7,452.9 673.9,451.4C675.1,450 676,448 677,446.3C678.1,444.6 677.4,441.8 680.1,441.2C682.9,440.5 689.3,442.7 693.6,442.2C697.9,441.7 702.6,439.6 706,438.1C709.4,436.5 712,434.8 714.3,433C716.5,431.1 718.3,428.9 719.4,426.8C720.6,424.8 721,423 721,420.6Z" fill="none" stroke="#434951" stroke-width="1.15"/>
<linearGradient id="ga3" x1="0" y1="0" x2="0" y2="1"><stop offset="0.000" stop-color="#f6bfb5"/><stop offset="0.098" stop-color="#fbdad4"/><stop offset="0.243" stop-color="#ffffff"/><stop offset="0.432" stop-color="#d6ddef"/><stop offset="0.622" stop-color="#a6b7db"/><stop offset="0.811" stop-color="#6f94c8"/><stop offset="1.000" stop-color="#2f70b3"/></linearGradient>
<rect x="765.1" y="374.1" width="18" height="86.8" fill="url(#ga3)"/>
<path d="M765.1,376h3.6 M779.5,376h3.6" stroke="#fff" stroke-opacity="0.8" stroke-width="0.8"/>
<text x="788.7" y="379.8" font-size="10" fill="#1a1a1a">0.005</text>
<path d="M765.1,395.2h3.6 M779.5,395.2h3.6" stroke="#fff" stroke-opacity="0.8" stroke-width="0.8"/>
<text x="788.7" y="399" font-size="10" fill="#1a1a1a">0.000</text>
<path d="M765.1,415h3.6 M779.5,415h3.6" stroke="#fff" stroke-opacity="0.8" stroke-width="0.8"/>
<text x="788.7" y="418.8" font-size="10" fill="#1a1a1a">−0.005</text>
<path d="M765.1,434.7h3.6 M779.5,434.7h3.6" stroke="#fff" stroke-opacity="0.8" stroke-width="0.8"/>
<text x="788.7" y="438.5" font-size="10" fill="#1a1a1a">−0.010</text>
<path d="M765.1,454.2h3.6 M779.5,454.2h3.6" stroke="#fff" stroke-opacity="0.8" stroke-width="0.8"/>
<text x="788.7" y="458" font-size="10" fill="#1a1a1a">−0.015</text>
<text x="765.9" y="366.4" font-size="11.8" fill="#1a1a1a"><tspan font-style="italic">β</tspan> value</text>
<text x="98.8" y="490.7" font-size="20" fill="#1f72a9" xml:space="preserve">Emotional instability symptom (exposure)</text>
<rect x="87.6" y="506.4" width="652.7" height="108.4" rx="20" ry="20" fill="none" stroke="#5353a3" stroke-width="0.95" stroke-dasharray="5.3 4.7"/>
<clipPath id="c13"><path d="M128.8,527.4C132.6,524.3 137.1,521.8 141.2,520.4C145.3,519.1 148.6,519 153.6,519.2C158.6,519.4 165.8,520.3 171.2,521.4C176.5,522.6 180.7,523.9 185.7,525.8C190.7,527.8 196.3,530.1 201.2,533C206,535.9 210.8,539.4 214.6,543.2C218.4,546.9 221.5,551.2 223.9,555.4C226.3,559.6 228,564.3 228.9,568.1C229.7,572 229.8,575.3 229.1,578.3C228.3,581.4 226.5,584.2 224.4,586.5C222.4,588.8 219.5,590.8 216.7,592.1C213.8,593.4 211.2,593.8 207.4,594.1C203.6,594.5 197,593.8 193.9,594.1C190.8,594.5 190.1,594.9 188.8,596.2C187.4,597.5 187,600.1 185.7,601.8C184.3,603.5 182.6,605.4 180.5,606.4C178.4,607.4 175.8,607.9 173.3,607.9C170.7,607.9 168.8,607.6 165,606.4C161.2,605.1 155.7,602.3 150.5,600.3C145.3,598.2 138.6,595.8 134,594.1C129.3,592.4 126.7,591.5 122.6,590.1C118.5,588.6 112.5,587.3 109.2,585.5C105.8,583.7 104.2,581.6 102.4,579.4C100.7,577.1 98.9,574.6 98.6,572.2C98.4,569.8 99.3,568.3 100.9,565.1C102.5,561.9 105.2,557.2 108.1,552.8C111.1,548.5 115,543.3 118.5,539.1C121.9,534.8 125,530.5 128.8,527.4Z"/></clipPath>
<path d="M128.8,527.4C132.6,524.3 137.1,521.8 141.2,520.4C145.3,519.1 148.6,519 153.6,519.2C158.6,519.4 165.8,520.3 171.2,521.4C176.5,522.6 180.7,523.9 185.7,525.8C190.7,527.8 196.3,530.1 201.2,533C206,535.9 210.8,539.4 214.6,543.2C218.4,546.9 221.5,551.2 223.9,555.4C226.3,559.6 228,564.3 228.9,568.1C229.7,572 229.8,575.3 229.1,578.3C228.3,581.4 226.5,584.2 224.4,586.5C222.4,588.8 219.5,590.8 216.7,592.1C213.8,593.4 211.2,593.8 207.4,594.1C203.6,594.5 197,593.8 193.9,594.1C190.8,594.5 190.1,594.9 188.8,596.2C187.4,597.5 187,600.1 185.7,601.8C184.3,603.5 182.6,605.4 180.5,606.4C178.4,607.4 175.8,607.9 173.3,607.9C170.7,607.9 168.8,607.6 165,606.4C161.2,605.1 155.7,602.3 150.5,600.3C145.3,598.2 138.6,595.8 134,594.1C129.3,592.4 126.7,591.5 122.6,590.1C118.5,588.6 112.5,587.3 109.2,585.5C105.8,583.7 104.2,581.6 102.4,579.4C100.7,577.1 98.9,574.6 98.6,572.2C98.4,569.8 99.3,568.3 100.9,565.1C102.5,561.9 105.2,557.2 108.1,552.8C111.1,548.5 115,543.3 118.5,539.1C121.9,534.8 125,530.5 128.8,527.4Z" fill="#ffffff"/>
<g clip-path="url(#c13)" stroke="#41474f" stroke-width="0.8" stroke-linejoin="round">
<path d="M129.3,527.4L127.8,530.4L126.7,535.5L129.8,538.1L126.7,545.7L127.8,554.9L124.7,560L123.6,564.6L118.5,565.1L114.3,564.6L111.2,566.1L106.1,567.1L104,569.2L92.6,569.2L92.6,512.1L129.3,512.1Z" fill="#f3f5fa"/>
<path d="M104,569.2L106.1,567.1L111.2,566.1L114.3,564.6L118.5,565.1L123.6,564.6L124.7,573.2L123.6,581.4L125.7,585.5L123.6,590.1L123.6,614L92.6,614L92.6,569.2Z" fill="#cbd6ea"/>
<path d="M92.6,563L100.9,564.6L104,569.2L103,574.3L103.8,579.4L108.1,585L108.1,614L92.6,614Z" fill="#a7b9dc"/>
<path d="M171.7,512.1L221.8,512.1L221.8,545.7L212.5,545.7L209.4,542.7L201.2,537.6L191.9,534L180.5,532.5L175.3,526.3L171.7,521.8Z" fill="#a7b9dc"/>
<path d="M212.5,545.7L215.1,552.8L209.4,554.9L208.9,563L209.4,577.3L207.4,592.6L207.4,614L237.4,614L237.4,545.7Z" fill="#a7b9dc"/>
<path d="M180.5,532.5L191.9,534L201.2,537.6L209.4,542.7L212.5,545.7L215.1,552.8L209.4,554.9L208.9,563L198.1,563L196,560L191.9,554.4L188.8,546.7L183.6,539.6Z" fill="#bac8e3"/>
<path d="M153.6,512.1L171.7,512.1L171.7,521.8L175.3,526.3L180.5,532.5L183.6,539.6L188.8,546.7L191.9,554.4L188.8,557.9L187.7,561L184.6,565.1L178.4,563L174.3,556.9L172.2,552.8L168.1,544.7L163.9,537.6L159.8,531.4L156.7,527.4L154.6,523.3Z" fill="#7b99ca"/>
<path d="M143.3,512.1L153.6,512.1L154.6,523.3L156.7,527.4L159.8,531.4L163.9,537.6L168.1,544.7L172.2,552.8L174.3,556.9L173.3,559L167.1,560L164.5,556.4L163.4,548.8L160.8,543.7L156.7,541.1L150.5,539.6L145.3,537.6L144.3,529.4Z" fill="#f3f5fa"/>
<path d="M118.5,512.1L143.3,512.1L144.3,529.4L145.3,537.6L138.1,539.6L129.8,538.1L126.7,535.5L127.8,530.4L129.3,527.4L118.5,527.4Z" fill="#cbd6ea"/>
<path d="M150.5,539.6L156.7,541.1L160.8,543.7L163.4,548.8L164.5,556.4L158.8,555.9L149.5,552.8L149,545.7Z" fill="#fbe8e5"/>
<path d="M138.1,539.6L145.3,537.6L150.5,539.6L149,545.7L149.5,552.8L149,556.9L147.4,563L146.4,573.2L141.2,570.2L138.1,563L140.2,552.8L139.1,545.7Z" fill="#e0e7f3"/>
<path d="M129.8,538.1L138.1,539.6L139.1,545.7L140.2,552.8L138.1,563L134,568.1L130.9,565.1L123.6,564.6L124.7,560L127.8,554.9L126.7,545.7Z" fill="#ffffff"/>
<path d="M123.6,564.6L130.9,565.1L134,568.1L138.1,563L141.2,570.2L146.4,573.2L143.3,583.4L143.3,586.5L136,587.5L125.7,585.5L123.6,581.4L124.7,573.2Z" fill="#f3f5fa"/>
<path d="M123.6,590.1L125.7,585.5L136,587.5L143.3,586.5L147.4,592.6L146.4,614L123.6,614Z" fill="#e0e7f3"/>
<path d="M146.4,573.2L150.5,577.3L158.8,580.4L165,583.4L169.1,589.5L171.2,593.6L168.1,596.7L169.1,600.8L159.8,596.7L154.6,592.6L147.4,592.6L143.3,586.5L143.3,583.4Z" fill="#fdf3f1"/>
<path d="M147.4,592.6L154.6,592.6L159.8,596.7L169.1,600.8L170.2,603.8L170.2,614L146.4,614Z" fill="#f3f5fa"/>
<path d="M147.4,563L150.5,569.2L158.8,573.2L167.1,581.4L169.1,589.5L165,583.4L158.8,580.4L150.5,577.3L146.4,573.2Z" fill="#ffffff"/>
<path d="M149.5,552.8L158.8,555.9L164.5,556.4L163.9,560L165,566.1L160.8,568.1L154.6,563L149,556.9Z" fill="#e0e7f3"/>
<path d="M163.9,560L164.5,556.4L167.1,560L173.3,559L174.3,556.9L178.4,563L184.6,565.1L185.7,571.2L178.4,570.2L171.2,568.1L165,566.1Z" fill="#a7b9dc"/>
<path d="M165,566.1L171.2,568.1L178.4,570.2L185.7,571.2L188.8,575.3L198.1,577.3L199.1,578.3L196,585.5L193.9,594.1L193.9,596.7L188.8,596.7L187.7,593.6L178.4,585.5L169.1,575.3L160.8,568.1Z" fill="#9cb1d8"/>
<path d="M149,556.9L154.6,563L160.8,568.1L169.1,575.3L167.1,581.4L158.8,573.2L150.5,569.2L147.4,563Z" fill="#cbd6ea"/>
<path d="M169.1,575.3L178.4,585.5L187.7,593.6L185.7,596.7L175.3,587.5L167.1,581.4Z" fill="#cbd6ea"/>
<path d="M191.9,554.4L196,560L198.1,563L197.2,572.2L193.9,570.2L188.8,569.2L186.7,570.7L185.7,571.2L184.6,565.1L187.7,561L188.8,557.9Z" fill="#9cb1d8"/>
<path d="M198.1,563L208.9,563L209.4,577.3L199.1,578.3L198.1,577.3L197.9,574.8L197.2,572.2Z" fill="#bac8e3"/>
<path d="M186.7,570.7L188.8,569.2L193.9,570.2L197.2,572.2L197.9,574.8L195,576.5L189.8,575.1L186.7,573Z" fill="#f8d5cf"/>
<path d="M199.1,578.3L209.4,577.3L207.4,592.6L207.4,614L193.9,614L193.9,594.1L196,585.5Z" fill="#bac8e3"/>
<path d="M169.1,589.5L167.1,581.4L175.3,587.5L178.4,591.6L177.4,603.8L174.3,614L170.2,614L170.2,603.8L169.1,600.8L168.1,596.7L171.2,593.6Z" fill="#a7b9dc"/>
<path d="M175.3,587.5L185.7,596.7L187.7,593.6L188.8,596.7L193.9,596.7L193.9,614L174.3,614L177.4,603.8L178.4,591.6Z" fill="#cbd6ea"/>
<path d="M170.2,602.3L177.6,602.3L177.6,614L170.2,614Z" fill="#a7b9dc"/>
</g>
<path d="M128.8,527.4C132.6,524.3 137.1,521.8 141.2,520.4C145.3,519.1 148.6,519 153.6,519.2C158.6,519.4 165.8,520.3 171.2,521.4C176.5,522.6 180.7,523.9 185.7,525.8C190.7,527.8 196.3,530.1 201.2,533C206,535.9 210.8,539.4 214.6,543.2C218.4,546.9 221.5,551.2 223.9,555.4C226.3,559.6 228,564.3 228.9,568.1C229.7,572 229.8,575.3 229.1,578.3C228.3,581.4 226.5,584.2 224.4,586.5C222.4,588.8 219.5,590.8 216.7,592.1C213.8,593.4 211.2,593.8 207.4,594.1C203.6,594.5 197,593.8 193.9,594.1C190.8,594.5 190.1,594.9 188.8,596.2C187.4,597.5 187,600.1 185.7,601.8C184.3,603.5 182.6,605.4 180.5,606.4C178.4,607.4 175.8,607.9 173.3,607.9C170.7,607.9 168.8,607.6 165,606.4C161.2,605.1 155.7,602.3 150.5,600.3C145.3,598.2 138.6,595.8 134,594.1C129.3,592.4 126.7,591.5 122.6,590.1C118.5,588.6 112.5,587.3 109.2,585.5C105.8,583.7 104.2,581.6 102.4,579.4C100.7,577.1 98.9,574.6 98.6,572.2C98.4,569.8 99.3,568.3 100.9,565.1C102.5,561.9 105.2,557.2 108.1,552.8C111.1,548.5 115,543.3 118.5,539.1C121.9,534.8 125,530.5 128.8,527.4Z" fill="none" stroke="#434951" stroke-width="1.15"/>
<clipPath id="c14"><path d="M262.7,573.5C262.7,571.2 263.1,568.4 264.2,565.3C265.4,562.3 267.2,558.5 269.4,555.1C271.6,551.7 274.2,548.3 277.6,544.8C281.1,541.4 285.2,537.7 290,534.6C294.8,531.5 300.8,528.7 306.5,526.4C312.1,524.1 318.8,522 324,520.7C329.1,519.5 333.4,519.2 337.4,519C341.3,518.8 344.6,518.9 347.7,519.4C350.7,520 353,520.6 355.9,522.3C358.8,524 362.4,526.9 365.2,529.5C367.9,532 369.8,534.2 372.4,537.7C374.9,541.1 378,546.2 380.6,550C383.2,553.7 385.8,557 387.8,560.2C389.9,563.5 391.9,566.9 393,569.4C394,572 394.3,573.7 394,575.6C393.7,577.5 392.6,579.2 390.9,580.7C389.2,582.3 387.1,583.5 383.7,584.8C380.3,586.2 375.1,587.6 370.3,588.9C365.5,590.3 358.6,591.8 354.9,593C351.1,594.2 350.2,595.1 347.7,596.1C345.1,597.1 342.5,598 339.4,599.2C336.3,600.4 332.6,601.9 329.1,603.3C325.7,604.7 321.4,606.6 318.8,607.4C316.2,608.2 315.2,608.4 313.7,607.9C312.1,607.4 310.8,605.8 309.6,604.3C308.4,602.9 307.5,600.9 306.5,599.2C305.4,597.5 306.1,594.7 303.4,594.1C300.6,593.4 294.3,595.6 290,595.1C285.7,594.6 281.1,592.5 277.6,591C274.2,589.4 271.6,587.7 269.4,585.9C267.2,584 265.4,581.8 264.2,579.7C263.1,577.7 262.7,575.9 262.7,573.5Z"/></clipPath>
<path d="M262.7,573.5C262.7,571.2 263.1,568.4 264.2,565.3C265.4,562.3 267.2,558.5 269.4,555.1C271.6,551.7 274.2,548.3 277.6,544.8C281.1,541.4 285.2,537.7 290,534.6C294.8,531.5 300.8,528.7 306.5,526.4C312.1,524.1 318.8,522 324,520.7C329.1,519.5 333.4,519.2 337.4,519C341.3,518.8 344.6,518.9 347.7,519.4C350.7,520 353,520.6 355.9,522.3C358.8,524 362.4,526.9 365.2,529.5C367.9,532 369.8,534.2 372.4,537.7C374.9,541.1 378,546.2 380.6,550C383.2,553.7 385.8,557 387.8,560.2C389.9,563.5 391.9,566.9 393,569.4C394,572 394.3,573.7 394,575.6C393.7,577.5 392.6,579.2 390.9,580.7C389.2,582.3 387.1,583.5 383.7,584.8C380.3,586.2 375.1,587.6 370.3,588.9C365.5,590.3 358.6,591.8 354.9,593C351.1,594.2 350.2,595.1 347.7,596.1C345.1,597.1 342.5,598 339.4,599.2C336.3,600.4 332.6,601.9 329.1,603.3C325.7,604.7 321.4,606.6 318.8,607.4C316.2,608.2 315.2,608.4 313.7,607.9C312.1,607.4 310.8,605.8 309.6,604.3C308.4,602.9 307.5,600.9 306.5,599.2C305.4,597.5 306.1,594.7 303.4,594.1C300.6,593.4 294.3,595.6 290,595.1C285.7,594.6 281.1,592.5 277.6,591C274.2,589.4 271.6,587.7 269.4,585.9C267.2,584 265.4,581.8 264.2,579.7C263.1,577.7 262.7,575.9 262.7,573.5Z" fill="#ffffff"/>
<g clip-path="url(#c14)" stroke="#41474f" stroke-width="0.8" stroke-linejoin="round">
<path d="M257,512L306.5,512L306.5,526.4L305.4,533.6L290,540.7L279.7,548.9L270.4,561.2L268.4,573.5L270.4,582.8L257,614.6Z" fill="#a7b9dc"/>
<path d="M305.4,533.6L306.5,542.8L291,553L280.7,561.2L276.1,568.4L277.6,574.6L286.9,582.8L285.9,585.9L270.4,582.8L268.4,573.5L270.4,561.2L279.7,548.9L290,540.7Z" fill="#6b91c6"/>
<path d="M306.5,542.8L314.7,541.8L318.8,543.3L325,540.7L327.1,557.1L318.8,557.7L308.5,560.2L298.2,565.3L292,572.5L292,575.6L287.9,582.8L286.9,582.8L277.6,574.6L276.1,568.4L280.7,561.2L291,553Z" fill="#cbd6ea"/>
<path d="M306.5,512L325,512L325,523.3L323.5,530.5L325,540.7L318.8,543.3L314.7,541.8L306.5,542.8L305.4,533.6L306.5,526.4Z" fill="#cbd6ea"/>
<path d="M325,512L339.4,512L339.4,520.2L341.5,537.1L331.2,540.7L325,540.7L323.5,530.5L325,523.3Z" fill="#5a86c0"/>
<path d="M339.4,512L353.8,512L353.3,522.8L353.8,530L343.5,536.6L341.5,537.1L339.4,520.2Z" fill="#e0e7f3"/>
<path d="M325,540.7L331.2,540.7L341.5,537.1L343.5,536.6L344.6,540.7L359,548.9L355.9,558.2L353.8,574.6L349.7,575.6L347.7,569.4L342.5,562.3L333.2,559.2L327.1,557.1Z" fill="#e0e7f3"/>
<path d="M353.8,512L401.2,512L401.2,550L380.6,550L373.4,556.1L371.3,561.2L367.7,567.4L363.6,572.5L353.8,574.6L355.9,558.2L359,548.9L344.6,540.7L343.5,536.6L353.8,530L353.3,522.8Z" fill="#f3f5fa"/>
<path d="M380.6,550L401.2,550L401.2,565.3L389.9,565.3L385.8,565.9L377.5,563.3L372.4,560.2L373.4,556.1Z" fill="#a7b9dc"/>
<path d="M367.7,567.4L373.4,565.9L377.5,563.3L385.8,565.9L387.8,571.5L384.7,578.7L372.4,577.7L364.1,575.6L363.6,572.5Z" fill="#a7b9dc"/>
<path d="M371.3,561.2L372.4,560.2L377.5,563.3L373.4,565.9L367.7,567.4Z" fill="#f8d5cf"/>
<path d="M385.8,565.9L389.9,565.3L401.2,565.3L401.2,583.8L385.8,583.8L384.7,578.7L387.8,571.5Z" fill="#a7b9dc"/>
<path d="M353.8,574.6L363.6,572.5L364.1,575.6L372.4,577.7L384.7,578.7L385.8,583.8L383.7,585L370.3,589.1L363.1,588.4L347.7,592L348.7,586.9L351.8,581.8L349.7,575.6Z" fill="#a7b9dc"/>
<path d="M363.1,588.4L370.3,589.1L383.7,585L385.8,583.8L401.2,583.8L401.2,604.3L364.1,604.3L364.1,591.5Z" fill="#a7b9dc"/>
<path d="M347.7,592L363.1,588.4L364.1,591.5L364.1,604.3L347.7,604.3Z" fill="#ffffff"/>
<path d="M348.7,586.9L347.7,592L347.7,604.3L333.2,609.4L333.2,595.1L342.5,590Z" fill="#a7b9dc"/>
<path d="M333.2,595.1L333.2,609.4L318.8,614.6L314.7,606.4L314.2,603.3L329.1,597.1Z" fill="#a7b9dc"/>
<path d="M304.9,594.1L308.5,600.2L314.2,603.3L314.7,606.4L318.8,614.6L302.3,614.6L302.3,594.1Z" fill="#cbd6ea"/>
<path d="M292,575.6L295.1,579.2L303.9,579.7L304.9,594.1L302.3,594.1L302.3,614.6L290,614.6L290,595.1L286.9,585.9L286.9,582.8L287.9,582.8Z" fill="#2f6bb0"/>
<path d="M270.4,582.8L285.9,585.9L286.9,585.9L290,595.1L290,614.6L257,614.6Z" fill="#a7b9dc"/>
<path d="M292,572.5L298.2,565.3L308.5,560.2L318.8,557.7L327.1,557.1L333.2,559.2L342.5,562.3L347.7,569.4L349.7,575.6L351.8,581.8L348.7,586.9L342.5,590L329.1,597.1L314.2,603.3L308.5,600.2L304.9,594.1L303.9,579.7L295.1,579.2L292,575.6Z" fill="#ffffff"/>
</g>
<path d="M262.7,573.5C262.7,571.2 263.1,568.4 264.2,565.3C265.4,562.3 267.2,558.5 269.4,555.1C271.6,551.7 274.2,548.3 277.6,544.8C281.1,541.4 285.2,537.7 290,534.6C294.8,531.5 300.8,528.7 306.5,526.4C312.1,524.1 318.8,522 324,520.7C329.1,519.5 333.4,519.2 337.4,519C341.3,518.8 344.6,518.9 347.7,519.4C350.7,520 353,520.6 355.9,522.3C358.8,524 362.4,526.9 365.2,529.5C367.9,532 369.8,534.2 372.4,537.7C374.9,541.1 378,546.2 380.6,550C383.2,553.7 385.8,557 387.8,560.2C389.9,563.5 391.9,566.9 393,569.4C394,572 394.3,573.7 394,575.6C393.7,577.5 392.6,579.2 390.9,580.7C389.2,582.3 387.1,583.5 383.7,584.8C380.3,586.2 375.1,587.6 370.3,588.9C365.5,590.3 358.6,591.8 354.9,593C351.1,594.2 350.2,595.1 347.7,596.1C345.1,597.1 342.5,598 339.4,599.2C336.3,600.4 332.6,601.9 329.1,603.3C325.7,604.7 321.4,606.6 318.8,607.4C316.2,608.2 315.2,608.4 313.7,607.9C312.1,607.4 310.8,605.8 309.6,604.3C308.4,602.9 307.5,600.9 306.5,599.2C305.4,597.5 306.1,594.7 303.4,594.1C300.6,593.4 294.3,595.6 290,595.1C285.7,594.6 281.1,592.5 277.6,591C274.2,589.4 271.6,587.7 269.4,585.9C267.2,584 265.4,581.8 264.2,579.7C263.1,577.7 262.7,575.9 262.7,573.5Z" fill="none" stroke="#434951" stroke-width="1.15"/>
<clipPath id="c15"><path d="M528.4,527.4C524.6,524.3 520.1,521.8 516,520.4C511.8,519.1 508.5,519 503.5,519.2C498.5,519.4 491.2,520.3 485.9,521.4C480.5,522.6 476.4,523.9 471.4,525.8C466.4,527.8 460.7,530.1 455.8,533C451,535.9 446.1,539.4 442.3,543.2C438.5,546.9 435.4,551.2 433,555.4C430.6,559.6 428.9,564.3 428,568.1C427.2,572 427.1,575.3 427.8,578.3C428.6,581.4 430.4,584.2 432.5,586.5C434.6,588.8 437.4,590.8 440.3,592.1C443.1,593.4 445.8,593.8 449.6,594.1C453.4,594.5 460,593.8 463.1,594.1C466.2,594.5 466.9,594.9 468.3,596.2C469.6,597.5 470,600.1 471.4,601.8C472.8,603.5 474.5,605.4 476.6,606.4C478.6,607.4 481.2,607.9 483.8,607.9C486.4,607.9 488.3,607.6 492.1,606.4C495.9,605.1 501.4,602.3 506.6,600.3C511.8,598.2 518.6,595.8 523.2,594.1C527.9,592.4 530.5,591.5 534.6,590.1C538.8,588.6 544.7,587.3 548.1,585.5C551.5,583.7 553.1,581.6 554.9,579.4C556.6,577.1 558.4,574.6 558.7,572.2C558.9,569.8 558,568.3 556.4,565.1C554.8,561.9 552.1,557.2 549.1,552.8C546.2,548.5 542.2,543.3 538.8,539.1C535.3,534.8 532.2,530.5 528.4,527.4Z"/></clipPath>
<path d="M528.4,527.4C524.6,524.3 520.1,521.8 516,520.4C511.8,519.1 508.5,519 503.5,519.2C498.5,519.4 491.2,520.3 485.9,521.4C480.5,522.6 476.4,523.9 471.4,525.8C466.4,527.8 460.7,530.1 455.8,533C451,535.9 446.1,539.4 442.3,543.2C438.5,546.9 435.4,551.2 433,555.4C430.6,559.6 428.9,564.3 428,568.1C427.2,572 427.1,575.3 427.8,578.3C428.6,581.4 430.4,584.2 432.5,586.5C434.6,588.8 437.4,590.8 440.3,592.1C443.1,593.4 445.8,593.8 449.6,594.1C453.4,594.5 460,593.8 463.1,594.1C466.2,594.5 466.9,594.9 468.3,596.2C469.6,597.5 470,600.1 471.4,601.8C472.8,603.5 474.5,605.4 476.6,606.4C478.6,607.4 481.2,607.9 483.8,607.9C486.4,607.9 488.3,607.6 492.1,606.4C495.9,605.1 501.4,602.3 506.6,600.3C511.8,598.2 518.6,595.8 523.2,594.1C527.9,592.4 530.5,591.5 534.6,590.1C538.8,588.6 544.7,587.3 548.1,585.5C551.5,583.7 553.1,581.6 554.9,579.4C556.6,577.1 558.4,574.6 558.7,572.2C558.9,569.8 558,568.3 556.4,565.1C554.8,561.9 552.1,557.2 549.1,552.8C546.2,548.5 542.2,543.3 538.8,539.1C535.3,534.8 532.2,530.5 528.4,527.4Z" fill="#ffffff"/>
<g clip-path="url(#c15)" stroke="#41474f" stroke-width="0.8" stroke-linejoin="round">
<path d="M527.9,527.4L529.4,530.4L530.5,535.5L527.4,538.1L530.5,545.7L529.4,554.9L532.6,560L533.6,564.6L538.8,565.1L542.9,564.6L546,566.1L551.2,567.1L553.3,569.2L564.7,569.2L564.7,512.1L527.9,512.1Z" fill="#8ea7d2"/>
<path d="M553.3,569.2L551.2,567.1L546,566.1L542.9,564.6L538.8,565.1L533.6,564.6L532.6,573.2L533.6,581.4L531.5,585.5L533.6,590.1L533.6,614L564.7,614L564.7,569.2Z" fill="#8ea7d2"/>
<path d="M564.7,563L556.4,564.6L553.3,569.2L554.3,574.3L553.5,579.4L549.1,585L549.1,614L564.7,614Z" fill="#5a86c0"/>
<path d="M485.4,512.1L435.1,512.1L435.1,545.7L444.4,545.7L447.5,542.7L455.8,537.6L465.2,534L476.6,532.5L481.7,526.3L485.4,521.8Z" fill="#cbd6ea"/>
<path d="M444.4,545.7L441.8,552.8L447.5,554.9L448,563L447.5,577.3L449.6,592.6L449.6,614L419.5,614L419.5,545.7Z" fill="#bac8e3"/>
<path d="M476.6,532.5L465.2,534L455.8,537.6L447.5,542.7L444.4,545.7L441.8,552.8L447.5,554.9L448,563L458.9,563L461,560L465.2,554.4L468.3,546.7L473.4,539.6Z" fill="#8ea7d2"/>
<path d="M503.5,512.1L485.4,512.1L485.4,521.8L481.7,526.3L476.6,532.5L473.4,539.6L468.3,546.7L465.2,554.4L468.3,557.9L469.3,561L472.4,565.1L478.6,563L482.8,556.9L484.9,552.8L489,544.7L493.1,537.6L497.3,531.4L500.4,527.4L502.5,523.3Z" fill="#8ea7d2"/>
<path d="M513.9,512.1L503.5,512.1L502.5,523.3L500.4,527.4L497.3,531.4L493.1,537.6L489,544.7L484.9,552.8L482.8,556.9L483.8,559L490,560L492.6,556.4L493.7,548.8L496.3,543.7L500.4,541.1L506.6,539.6L511.8,537.6L512.9,529.4Z" fill="#f3f5fa"/>
<path d="M538.8,512.1L513.9,512.1L512.9,529.4L511.8,537.6L519.1,539.6L527.4,538.1L530.5,535.5L529.4,530.4L527.9,527.4L538.8,527.4Z" fill="#9cb1d8"/>
<path d="M506.6,539.6L500.4,541.1L496.3,543.7L493.7,548.8L492.6,556.4L498.3,555.9L507.7,552.8L508.2,545.7Z" fill="#f3f5fa"/>
<path d="M519.1,539.6L511.8,537.6L506.6,539.6L508.2,545.7L507.7,552.8L508.2,556.9L509.7,563L510.8,573.2L516,570.2L519.1,563L517,552.8L518,545.7Z" fill="#f4b7ad"/>
<path d="M527.4,538.1L519.1,539.6L518,545.7L517,552.8L519.1,563L523.2,568.1L526.3,565.1L533.6,564.6L532.6,560L529.4,554.9L530.5,545.7Z" fill="#f6c8c0"/>
<path d="M533.6,564.6L526.3,565.1L523.2,568.1L519.1,563L516,570.2L510.8,573.2L513.9,583.4L513.9,586.5L521.1,587.5L531.5,585.5L533.6,581.4L532.6,573.2Z" fill="#f6c8c0"/>
<path d="M533.6,590.1L531.5,585.5L521.1,587.5L513.9,586.5L509.7,592.6L510.8,614L533.6,614Z" fill="#7b99ca"/>
<path d="M510.8,573.2L506.6,577.3L498.3,580.4L492.1,583.4L488,589.5L485.9,593.6L489,596.7L488,600.8L497.3,596.7L502.5,592.6L509.7,592.6L513.9,586.5L513.9,583.4Z" fill="#cbd6ea"/>
<path d="M509.7,592.6L502.5,592.6L497.3,596.7L488,600.8L486.9,603.8L486.9,614L510.8,614Z" fill="#ffffff"/>
<path d="M509.7,563L506.6,569.2L498.3,573.2L490,581.4L488,589.5L492.1,583.4L498.3,580.4L506.6,577.3L510.8,573.2Z" fill="#ffffff"/>
<path d="M507.7,552.8L498.3,555.9L492.6,556.4L493.1,560L492.1,566.1L496.3,568.1L502.5,563L508.2,556.9Z" fill="#bac8e3"/>
<path d="M493.1,560L492.6,556.4L490,560L483.8,559L482.8,556.9L478.6,563L472.4,565.1L471.4,571.2L478.6,570.2L485.9,568.1L492.1,566.1Z" fill="#a7b9dc"/>
<path d="M492.1,566.1L485.9,568.1L478.6,570.2L471.4,571.2L468.3,575.3L458.9,577.3L457.9,578.3L461,585.5L463.1,594.1L463.1,596.7L468.3,596.7L469.3,593.6L478.6,585.5L488,575.3L496.3,568.1Z" fill="#9cb1d8"/>
<path d="M508.2,556.9L502.5,563L496.3,568.1L488,575.3L490,581.4L498.3,573.2L506.6,569.2L509.7,563Z" fill="#cbd6ea"/>
<path d="M488,575.3L478.6,585.5L469.3,593.6L471.4,596.7L481.7,587.5L490,581.4Z" fill="#f6c8c0"/>
<path d="M465.2,554.4L461,560L458.9,563L459.8,572.2L463.1,570.2L468.3,569.2L470.3,570.7L471.4,571.2L472.4,565.1L469.3,561L468.3,557.9Z" fill="#bac8e3"/>
<path d="M458.9,563L448,563L447.5,577.3L457.9,578.3L458.9,577.3L459.1,574.8L459.8,572.2Z" fill="#bac8e3"/>
<path d="M470.3,570.7L468.3,569.2L463.1,570.2L456.9,572L452.9,574.3L453.5,576.9L458.9,577.5L462,576.5L467.2,575.1L470.3,573Z" fill="#7b99ca"/>
<path d="M457.9,578.3L447.5,577.3L449.6,592.6L449.6,614L463.1,614L463.1,594.1L461,585.5Z" fill="#bac8e3"/>
<path d="M488,589.5L490,581.4L481.7,587.5L478.6,591.6L479.7,603.8L482.8,614L486.9,614L486.9,603.8L488,600.8L489,596.7L485.9,593.6Z" fill="#a7b9dc"/>
<path d="M481.7,587.5L471.4,596.7L469.3,593.6L468.3,596.7L463.1,596.7L463.1,614L482.8,614L479.7,603.8L478.6,591.6Z" fill="#bac8e3"/>
<path d="M486.9,602.3L479.5,602.3L479.5,614L486.9,614Z" fill="#e98573"/>
</g>
<path d="M528.4,527.4C524.6,524.3 520.1,521.8 516,520.4C511.8,519.1 508.5,519 503.5,519.2C498.5,519.4 491.2,520.3 485.9,521.4C480.5,522.6 476.4,523.9 471.4,525.8C466.4,527.8 460.7,530.1 455.8,533C451,535.9 446.1,539.4 442.3,543.2C438.5,546.9 435.4,551.2 433,555.4C430.6,559.6 428.9,564.3 428,568.1C427.2,572 427.1,575.3 427.8,578.3C428.6,581.4 430.4,584.2 432.5,586.5C434.6,588.8 437.4,590.8 440.3,592.1C443.1,593.4 445.8,593.8 449.6,594.1C453.4,594.5 460,593.8 463.1,594.1C466.2,594.5 466.9,594.9 468.3,596.2C469.6,597.5 470,600.1 471.4,601.8C472.8,603.5 474.5,605.4 476.6,606.4C478.6,607.4 481.2,607.9 483.8,607.9C486.4,607.9 488.3,607.6 492.1,606.4C495.9,605.1 501.4,602.3 506.6,600.3C511.8,598.2 518.6,595.8 523.2,594.1C527.9,592.4 530.5,591.5 534.6,590.1C538.8,588.6 544.7,587.3 548.1,585.5C551.5,583.7 553.1,581.6 554.9,579.4C556.6,577.1 558.4,574.6 558.7,572.2C558.9,569.8 558,568.3 556.4,565.1C554.8,561.9 552.1,557.2 549.1,552.8C546.2,548.5 542.2,543.3 538.8,539.1C535.3,534.8 532.2,530.5 528.4,527.4Z" fill="none" stroke="#434951" stroke-width="1.15"/>
<clipPath id="c16"><path d="M722.8,573.5C722.8,571.2 722.4,568.4 721.3,565.3C720.1,562.3 718.3,558.5 716.1,555.1C713.9,551.7 711.3,548.3 707.9,544.8C704.4,541.4 700.3,537.7 695.5,534.6C690.7,531.5 684.7,528.7 679,526.4C673.4,524.1 666.7,522 661.5,520.7C656.4,519.5 652.1,519.2 648.1,519C644.2,518.8 640.9,518.9 637.8,519.4C634.8,520 632.5,520.6 629.6,522.3C626.7,524 623.1,526.9 620.3,529.5C617.6,532 615.7,534.2 613.1,537.7C610.6,541.1 607.5,546.2 604.9,550C602.3,553.7 599.7,557 597.7,560.2C595.6,563.5 593.6,566.9 592.5,569.4C591.5,572 591.2,573.7 591.5,575.6C591.8,577.5 592.9,579.2 594.6,580.7C596.3,582.3 598.4,583.5 601.8,584.8C605.2,586.2 610.4,587.6 615.2,588.9C620,590.3 626.9,591.8 630.6,593C634.4,594.2 635.3,595.1 637.8,596.1C640.4,597.1 643,598 646.1,599.2C649.2,600.4 652.9,601.9 656.4,603.3C659.8,604.7 664.1,606.6 666.7,607.4C669.3,608.2 670.3,608.4 671.8,607.9C673.4,607.4 674.7,605.8 675.9,604.3C677.1,602.9 678,600.9 679,599.2C680.1,597.5 679.4,594.7 682.1,594.1C684.9,593.4 691.2,595.6 695.5,595.1C699.8,594.6 704.4,592.5 707.9,591C711.3,589.4 713.9,587.7 716.1,585.9C718.3,584 720.1,581.8 721.3,579.7C722.4,577.7 722.8,575.9 722.8,573.5Z"/></clipPath>
<path d="M722.8,573.5C722.8,571.2 722.4,568.4 721.3,565.3C720.1,562.3 718.3,558.5 716.1,555.1C713.9,551.7 711.3,548.3 707.9,544.8C704.4,541.4 700.3,537.7 695.5,534.6C690.7,531.5 684.7,528.7 679,526.4C673.4,524.1 666.7,522 661.5,520.7C656.4,519.5 652.1,519.2 648.1,519C644.2,518.8 640.9,518.9 637.8,519.4C634.8,520 632.5,520.6 629.6,522.3C626.7,524 623.1,526.9 620.3,529.5C617.6,532 615.7,534.2 613.1,537.7C610.6,541.1 607.5,546.2 604.9,550C602.3,553.7 599.7,557 597.7,560.2C595.6,563.5 593.6,566.9 592.5,569.4C591.5,572 591.2,573.7 591.5,575.6C591.8,577.5 592.9,579.2 594.6,580.7C596.3,582.3 598.4,583.5 601.8,584.8C605.2,586.2 610.4,587.6 615.2,588.9C620,590.3 626.9,591.8 630.6,593C634.4,594.2 635.3,595.1 637.8,596.1C640.4,597.1 643,598 646.1,599.2C649.2,600.4 652.9,601.9 656.4,603.3C659.8,604.7 664.1,606.6 666.7,607.4C669.3,608.2 670.3,608.4 671.8,607.9C673.4,607.4 674.7,605.8 675.9,604.3C677.1,602.9 678,600.9 679,599.2C680.1,597.5 679.4,594.7 682.1,594.1C684.9,593.4 691.2,595.6 695.5,595.1C699.8,594.6 704.4,592.5 707.9,591C711.3,589.4 713.9,587.7 716.1,585.9C718.3,584 720.1,581.8 721.3,579.7C722.4,577.7 722.8,575.9 722.8,573.5Z" fill="#ffffff"/>
<g clip-path="url(#c16)" stroke="#41474f" stroke-width="0.8" stroke-linejoin="round">
<path d="M728.5,512L679,512L679,526.4L680.1,533.6L695.5,540.7L705.8,548.9L715.1,561.2L717.1,573.5L715.1,582.8L728.5,614.6Z" fill="#cbd6ea"/>
<path d="M680.1,533.6L679,542.8L694.5,553L704.8,561.2L709.4,568.4L707.9,574.6L698.6,582.8L699.6,585.9L715.1,582.8L717.1,573.5L715.1,561.2L705.8,548.9L695.5,540.7Z" fill="#8ea7d2"/>
<path d="M679,542.8L670.8,541.8L666.7,543.3L660.5,540.7L658.4,557.1L666.7,557.7L677,560.2L687.3,565.3L693.5,572.5L693.5,575.6L697.6,582.8L698.6,582.8L707.9,574.6L709.4,568.4L704.8,561.2L694.5,553Z" fill="#9cb1d8"/>
<path d="M679,512L660.5,512L660.5,523.3L662,530.5L660.5,540.7L666.7,543.3L670.8,541.8L679,542.8L680.1,533.6L679,526.4Z" fill="#2f6bb0"/>
<path d="M660.5,512L646.1,512L646.1,520.2L644,537.1L654.3,540.7L660.5,540.7L662,530.5L660.5,523.3Z" fill="#8ea7d2"/>
<path d="M646.1,512L631.7,512L632.2,522.8L631.7,530L642,536.6L644,537.1L646.1,520.2Z" fill="#f3f5fa"/>
<path d="M660.5,540.7L654.3,540.7L644,537.1L642,536.6L640.9,540.7L626.5,548.9L629.6,558.2L631.7,574.6L635.8,575.6L637.8,569.4L643,562.3L652.3,559.2L658.4,557.1Z" fill="#cbd6ea"/>
<path d="M631.7,512L584.3,512L584.3,550L604.9,550L612.1,556.1L614.2,561.2L617.8,567.4L621.9,572.5L631.7,574.6L629.6,558.2L626.5,548.9L640.9,540.7L642,536.6L631.7,530L632.2,522.8Z" fill="#cbd6ea"/>
<path d="M604.9,550L584.3,550L584.3,565.3L595.6,565.3L599.7,565.9L608,563.3L613.1,560.2L612.1,556.1Z" fill="#bac8e3"/>
<path d="M617.8,567.4L612.1,565.9L608,563.3L599.7,565.9L597.7,571.5L600.8,578.7L613.1,577.7L621.4,575.6L621.9,572.5Z" fill="#cbd6ea"/>
<path d="M614.2,561.2L613.1,560.2L608,563.3L612.1,565.9L617.8,567.4Z" fill="#cbd6ea"/>
<path d="M599.7,565.9L595.6,565.3L584.3,565.3L584.3,583.8L599.7,583.8L600.8,578.7L597.7,571.5Z" fill="#5a86c0"/>
<path d="M631.7,574.6L621.9,572.5L621.4,575.6L613.1,577.7L600.8,578.7L599.7,583.8L601.8,585L615.2,589.1L622.4,588.4L637.8,592L636.8,586.9L633.7,581.8L635.8,575.6Z" fill="#e0e7f3"/>
<path d="M622.4,588.4L615.2,589.1L601.8,585L599.7,583.8L584.3,583.8L584.3,604.3L621.4,604.3L621.4,591.5Z" fill="#bac8e3"/>
<path d="M637.8,592L622.4,588.4L621.4,591.5L621.4,604.3L637.8,604.3Z" fill="#f4b7ad"/>
<path d="M636.8,586.9L637.8,592L637.8,604.3L652.3,609.4L652.3,595.1L643,590Z" fill="#e0e7f3"/>
<path d="M652.3,595.1L652.3,609.4L666.7,614.6L670.8,606.4L671.3,603.3L656.4,597.1Z" fill="#e0e7f3"/>
<path d="M680.6,594.1L677,600.2L671.3,603.3L670.8,606.4L666.7,614.6L683.2,614.6L683.2,594.1Z" fill="#cbd6ea"/>
<path d="M693.5,575.6L690.4,579.2L681.6,579.7L680.6,594.1L683.2,594.1L683.2,614.6L695.5,614.6L695.5,595.1L698.6,585.9L698.6,582.8L697.6,582.8Z" fill="#e0e7f3"/>
<path d="M715.1,582.8L699.6,585.9L698.6,585.9L695.5,595.1L695.5,614.6L728.5,614.6Z" fill="#bac8e3"/>
<path d="M693.5,572.5L687.3,565.3L677,560.2L666.7,557.7L658.4,557.1L652.3,559.2L643,562.3L637.8,569.4L635.8,575.6L633.7,581.8L636.8,586.9L643,590L656.4,597.1L671.3,603.3L677,600.2L680.6,594.1L681.6,579.7L690.4,579.2L693.5,575.6Z" fill="#ffffff"/>
</g>
<path d="M722.8,573.5C722.8,571.2 722.4,568.4 721.3,565.3C720.1,562.3 718.3,558.5 716.1,555.1C713.9,551.7 711.3,548.3 707.9,544.8C704.4,541.4 700.3,537.7 695.5,534.6C690.7,531.5 684.7,528.7 679,526.4C673.4,524.1 666.7,522 661.5,520.7C656.4,519.5 652.1,519.2 648.1,519C644.2,518.8 640.9,518.9 637.8,519.4C634.8,520 632.5,520.6 629.6,522.3C626.7,524 623.1,526.9 620.3,529.5C617.6,532 615.7,534.2 613.1,537.7C610.6,541.1 607.5,546.2 604.9,550C602.3,553.7 599.7,557 597.7,560.2C595.6,563.5 593.6,566.9 592.5,569.4C591.5,572 591.2,573.7 591.5,575.6C591.8,577.5 592.9,579.2 594.6,580.7C596.3,582.3 598.4,583.5 601.8,584.8C605.2,586.2 610.4,587.6 615.2,588.9C620,590.3 626.9,591.8 630.6,593C634.4,594.2 635.3,595.1 637.8,596.1C640.4,597.1 643,598 646.1,599.2C649.2,600.4 652.9,601.9 656.4,603.3C659.8,604.7 664.1,606.6 666.7,607.4C669.3,608.2 670.3,608.4 671.8,607.9C673.4,607.4 674.7,605.8 675.9,604.3C677.1,602.9 678,600.9 679,599.2C680.1,597.5 679.4,594.7 682.1,594.1C684.9,593.4 691.2,595.6 695.5,595.1C699.8,594.6 704.4,592.5 707.9,591C711.3,589.4 713.9,587.7 716.1,585.9C718.3,584 720.1,581.8 721.3,579.7C722.4,577.7 722.8,575.9 722.8,573.5Z" fill="none" stroke="#434951" stroke-width="1.15"/>
<linearGradient id="ga4" x1="0" y1="0" x2="0" y2="1"><stop offset="0.000" stop-color="#ec9180"/><stop offset="0.095" stop-color="#f4b3a7"/><stop offset="0.215" stop-color="#fbdad4"/><stop offset="0.334" stop-color="#ffffff"/><stop offset="0.501" stop-color="#d6ddef"/><stop offset="0.667" stop-color="#a6b7db"/><stop offset="0.834" stop-color="#6f94c8"/><stop offset="1.000" stop-color="#2f70b3"/></linearGradient>
<rect x="767" y="522.1" width="18" height="87.7" fill="url(#ga4)"/>
<path d="M767,551.4h3.6 M781.4,551.4h3.6" stroke="#fff" stroke-opacity="0.8" stroke-width="0.8"/>
<text x="790.6" y="555.2" font-size="10" fill="#1a1a1a">0.000</text>
<path d="M767,580.5h3.6 M781.4,580.5h3.6" stroke="#fff" stroke-opacity="0.8" stroke-width="0.8"/>
<text x="790.6" y="584.3" font-size="10" fill="#1a1a1a">−0.005</text>
<text x="767.8" y="515.3" font-size="11.8" fill="#1a1a1a"><tspan font-style="italic">β</tspan> value</text>
<text x="99.3" y="694.3" font-size="20" fill="#1f72a9" xml:space="preserve">Psychiatric disorders (outcome)</text>
<rect x="91.4" y="703.8" width="652" height="108.2" rx="20" ry="20" fill="none" stroke="#5353a3" stroke-width="0.95" stroke-dasharray="5.3 4.7"/>
<clipPath id="c17"><path d="M132.4,720.8C136.3,717.6 140.9,715.1 145.1,713.7C149.3,712.3 152.7,712.2 157.8,712.4C162.9,712.6 170.3,713.6 175.7,714.7C181.2,715.8 185.4,717.2 190.5,719.2C195.6,721.2 201.4,723.5 206.4,726.5C211.3,729.5 216.2,733.1 220.1,736.9C224,740.8 227.2,745.2 229.6,749.5C232,753.7 233.8,758.6 234.7,762.5C235.5,766.4 235.6,769.8 234.9,772.9C234.1,776.1 232.2,778.9 230.1,781.3C228,783.6 225.1,785.7 222.2,787C219.3,788.3 216.6,788.8 212.7,789.1C208.8,789.5 202.1,788.8 199,789.1C195.8,789.5 195.1,789.9 193.7,791.2C192.3,792.5 191.9,795.2 190.5,796.9C189.1,798.7 187.4,800.6 185.2,801.6C183.1,802.7 180.5,803.2 177.9,803.2C175.2,803.2 173.3,802.9 169.4,801.6C165.5,800.3 159.9,797.5 154.6,795.4C149.3,793.3 142.5,790.9 137.7,789.1C133,787.4 130.3,786.4 126.1,784.9C121.9,783.5 115.8,782.1 112.4,780.2C109,778.4 107.3,776.2 105.5,774C103.7,771.7 101.9,769.1 101.6,766.7C101.4,764.2 102.3,762.7 103.9,759.4C105.6,756.1 108.3,751.3 111.3,746.8C114.3,742.4 118.4,737.1 121.9,732.8C125.4,728.4 128.6,723.9 132.4,720.8Z"/></clipPath>
<path d="M132.4,720.8C136.3,717.6 140.9,715.1 145.1,713.7C149.3,712.3 152.7,712.2 157.8,712.4C162.9,712.6 170.3,713.6 175.7,714.7C181.2,715.8 185.4,717.2 190.5,719.2C195.6,721.2 201.4,723.5 206.4,726.5C211.3,729.5 216.2,733.1 220.1,736.9C224,740.8 227.2,745.2 229.6,749.5C232,753.7 233.8,758.6 234.7,762.5C235.5,766.4 235.6,769.8 234.9,772.9C234.1,776.1 232.2,778.9 230.1,781.3C228,783.6 225.1,785.7 222.2,787C219.3,788.3 216.6,788.8 212.7,789.1C208.8,789.5 202.1,788.8 199,789.1C195.8,789.5 195.1,789.9 193.7,791.2C192.3,792.5 191.9,795.2 190.5,796.9C189.1,798.7 187.4,800.6 185.2,801.6C183.1,802.7 180.5,803.2 177.9,803.2C175.2,803.2 173.3,802.9 169.4,801.6C165.5,800.3 159.9,797.5 154.6,795.4C149.3,793.3 142.5,790.9 137.7,789.1C133,787.4 130.3,786.4 126.1,784.9C121.9,783.5 115.8,782.1 112.4,780.2C109,778.4 107.3,776.2 105.5,774C103.7,771.7 101.9,769.1 101.6,766.7C101.4,764.2 102.3,762.7 103.9,759.4C105.6,756.1 108.3,751.3 111.3,746.8C114.3,742.4 118.4,737.1 121.9,732.8C125.4,728.4 128.6,723.9 132.4,720.8Z" fill="#ffffff"/>
<g clip-path="url(#c17)" stroke="#41474f" stroke-width="0.8" stroke-linejoin="round">
<path d="M133,720.8L131.4,723.9L130.3,729.1L133.5,731.7L130.3,739.5L131.4,748.9L128.2,754.2L127.2,758.8L121.9,759.4L117.7,758.8L114.5,760.4L109.2,761.5L107.1,763.5L95.5,763.5L95.5,705.1L133,705.1Z" fill="#a7b9dc"/>
<path d="M107.1,763.5L109.2,761.5L114.5,760.4L117.7,758.8L121.9,759.4L127.2,758.8L128.2,767.7L127.2,776.1L129.3,780.2L127.2,784.9L127.2,809.5L95.5,809.5L95.5,763.5Z" fill="#f3f5fa"/>
<path d="M95.5,757.3L103.9,758.8L107.1,763.5L106.1,768.8L106.9,774L111.3,779.7L111.3,809.5L95.5,809.5Z" fill="#f4b7ad"/>
<path d="M176.3,705.1L227.5,705.1L227.5,739.5L218,739.5L214.8,736.4L206.4,731.2L196.9,727.5L185.2,726L180,719.7L176.3,715Z" fill="#f3f5fa"/>
<path d="M218,739.5L220.6,746.8L214.8,748.9L214.3,757.3L214.8,771.9L212.7,787.5L212.7,809.5L243.3,809.5L243.3,739.5Z" fill="#f8d5cf"/>
<path d="M185.2,726L196.9,727.5L206.4,731.2L214.8,736.4L218,739.5L220.6,746.8L214.8,748.9L214.3,757.3L203.2,757.3L201.1,754.2L196.9,748.4L193.7,740.6L188.4,733.3Z" fill="#fbdfda"/>
<path d="M157.8,705.1L176.3,705.1L176.3,715L180,719.7L185.2,726L188.4,733.3L193.7,740.6L196.9,748.4L193.7,752.1L192.6,755.2L189.5,759.4L183.1,757.3L178.9,751L176.8,746.8L172.6,738.5L168.4,731.2L164.1,724.9L161,720.8L158.8,716.6Z" fill="#a7b9dc"/>
<path d="M147.2,705.1L157.8,705.1L158.8,716.6L161,720.8L164.1,724.9L168.4,731.2L172.6,738.5L176.8,746.8L178.9,751L177.9,753.1L171.5,754.2L168.9,750.5L167.8,742.7L165.2,737.5L161,734.8L154.6,733.3L149.3,731.2L148.3,722.8Z" fill="#bac8e3"/>
<path d="M121.9,705.1L147.2,705.1L148.3,722.8L149.3,731.2L142,733.3L133.5,731.7L130.3,729.1L131.4,723.9L133,720.8L121.9,720.8Z" fill="#a7b9dc"/>
<path d="M154.6,733.3L161,734.8L165.2,737.5L167.8,742.7L168.9,750.5L163.1,750L153.6,746.8L153,739.5Z" fill="#f3f5fa"/>
<path d="M142,733.3L149.3,731.2L154.6,733.3L153,739.5L153.6,746.8L153,751L151.5,757.3L150.4,767.7L145.1,764.6L142,757.3L144.1,746.8L143,739.5Z" fill="#f3f5fa"/>
<path d="M133.5,731.7L142,733.3L143,739.5L144.1,746.8L142,757.3L137.7,762.5L134.6,759.4L127.2,758.8L128.2,754.2L131.4,748.9L130.3,739.5Z" fill="#bac8e3"/>
<path d="M127.2,758.8L134.6,759.4L137.7,762.5L142,757.3L145.1,764.6L150.4,767.7L147.2,778.2L147.2,781.3L139.8,782.3L129.3,780.2L127.2,776.1L128.2,767.7Z" fill="#fbe8e5"/>
<path d="M127.2,784.9L129.3,780.2L139.8,782.3L147.2,781.3L151.5,787.5L150.4,809.5L127.2,809.5Z" fill="#f8d5cf"/>
<path d="M150.4,767.7L154.6,771.9L163.1,775L169.4,778.2L173.6,784.4L175.7,788.6L172.6,791.7L173.6,795.9L164.1,791.7L158.8,787.5L151.5,787.5L147.2,781.3L147.2,778.2Z" fill="#fdf3f1"/>
<path d="M151.5,787.5L158.8,787.5L164.1,791.7L173.6,795.9L174.7,799L174.7,809.5L150.4,809.5Z" fill="#a7b9dc"/>
<path d="M151.5,757.3L154.6,763.5L163.1,767.7L171.5,776.1L173.6,784.4L169.4,778.2L163.1,775L154.6,771.9L150.4,767.7Z" fill="#e0e7f3"/>
<path d="M153.6,746.8L163.1,750L168.9,750.5L168.4,754.2L169.4,760.4L165.2,762.5L158.8,757.3L153,751Z" fill="#8ea7d2"/>
<path d="M168.4,754.2L168.9,750.5L171.5,754.2L177.9,753.1L178.9,751L183.1,757.3L189.5,759.4L190.5,765.6L183.1,764.6L175.7,762.5L169.4,760.4Z" fill="#f3f5fa"/>
<path d="M169.4,760.4L175.7,762.5L183.1,764.6L190.5,765.6L193.7,769.8L203.2,771.9L204.3,772.9L201.1,780.2L199,789.1L199,791.7L193.7,791.7L192.6,788.6L183.1,780.2L173.6,769.8L165.2,762.5Z" fill="#8ea7d2"/>
<path d="M153,751L158.8,757.3L165.2,762.5L173.6,769.8L171.5,776.1L163.1,767.7L154.6,763.5L151.5,757.3Z" fill="#cbd6ea"/>
<path d="M173.6,769.8L183.1,780.2L192.6,788.6L190.5,791.7L180,782.3L171.5,776.1Z" fill="#a7b9dc"/>
<path d="M196.9,748.4L201.1,754.2L203.2,757.3L202.4,766.7L199,764.6L193.7,763.5L191.6,765.1L190.5,765.6L189.5,759.4L192.6,755.2L193.7,752.1Z" fill="#ffffff"/>
<path d="M203.2,757.3L214.3,757.3L214.8,771.9L204.3,772.9L203.2,771.9L203,769.3L202.4,766.7Z" fill="#f6c8c0"/>
<path d="M191.6,765.1L193.7,763.5L199,764.6L202.4,766.7L203,769.3L200,771.1L194.7,769.6L191.6,767.5Z" fill="#a7b9dc"/>
<path d="M204.3,772.9L214.8,771.9L212.7,787.5L212.7,809.5L199,809.5L199,789.1L201.1,780.2Z" fill="#8ea7d2"/>
<path d="M173.6,784.4L171.5,776.1L180,782.3L183.1,786.5L182.1,799L178.9,809.5L174.7,809.5L174.7,799L173.6,795.9L172.6,791.7L175.7,788.6Z" fill="#e0e7f3"/>
<path d="M180,782.3L190.5,791.7L192.6,788.6L193.7,791.7L199,791.7L199,809.5L178.9,809.5L182.1,799L183.1,786.5Z" fill="#8ea7d2"/>
<path d="M174.7,797.5L182.3,797.5L182.3,809.5L174.7,809.5Z" fill="#e0e7f3"/>
</g>
<path d="M132.4,720.8C136.3,717.6 140.9,715.1 145.1,713.7C149.3,712.3 152.7,712.2 157.8,712.4C162.9,712.6 170.3,713.6 175.7,714.7C181.2,715.8 185.4,717.2 190.5,719.2C195.6,721.2 201.4,723.5 206.4,726.5C211.3,729.5 216.2,733.1 220.1,736.9C224,740.8 227.2,745.2 229.6,749.5C232,753.7 233.8,758.6 234.7,762.5C235.5,766.4 235.6,769.8 234.9,772.9C234.1,776.1 232.2,778.9 230.1,781.3C228,783.6 225.1,785.7 222.2,787C219.3,788.3 216.6,788.8 212.7,789.1C208.8,789.5 202.1,788.8 199,789.1C195.8,789.5 195.1,789.9 193.7,791.2C192.3,792.5 191.9,795.2 190.5,796.9C189.1,798.7 187.4,800.6 185.2,801.6C183.1,802.7 180.5,803.2 177.9,803.2C175.2,803.2 173.3,802.9 169.4,801.6C165.5,800.3 159.9,797.5 154.6,795.4C149.3,793.3 142.5,790.9 137.7,789.1C133,787.4 130.3,786.4 126.1,784.9C121.9,783.5 115.8,782.1 112.4,780.2C109,778.4 107.3,776.2 105.5,774C103.7,771.7 101.9,769.1 101.6,766.7C101.4,764.2 102.3,762.7 103.9,759.4C105.6,756.1 108.3,751.3 111.3,746.8C114.3,742.4 118.4,737.1 121.9,732.8C125.4,728.4 128.6,723.9 132.4,720.8Z" fill="none" stroke="#434951" stroke-width="1.15"/>
<clipPath id="c18"><path d="M263.3,768C263.3,765.6 263.7,762.8 264.9,759.6C266,756.5 267.9,752.6 270.1,749.1C272.4,745.6 275.1,742.1 278.6,738.6C282.1,735.2 286.3,731.3 291.2,728.2C296.1,725 302.2,722.1 308,719.8C313.8,717.4 320.7,715.2 325.9,714C331.2,712.7 335.6,712.4 339.6,712.2C343.6,712 347,712.1 350.1,712.6C353.3,713.2 355.6,713.8 358.6,715.6C361.5,717.3 365.2,720.3 368,722.9C370.8,725.5 372.8,727.8 375.4,731.3C378,734.8 381.2,740 383.8,743.9C386.4,747.7 389.1,751.1 391.2,754.4C393.3,757.7 395.4,761.2 396.4,763.8C397.5,766.5 397.9,768.2 397.5,770.1C397.1,772.1 396.1,773.8 394.3,775.4C392.6,777 390.5,778.2 387,779.6C383.5,781 378.2,782.4 373.3,783.8C368.4,785.2 361.4,786.8 357.5,788C353.6,789.2 352.8,790.1 350.1,791.1C347.5,792.2 344.9,793.1 341.7,794.3C338.6,795.5 334.7,797.1 331.2,798.5C327.7,799.9 323.3,801.9 320.7,802.7C318,803.5 317,803.7 315.4,803.2C313.8,802.7 312.4,801 311.2,799.5C310,798 309.1,796 308,794.3C307,792.5 307.7,789.7 304.9,789C302.1,788.3 295.6,790.6 291.2,790.1C286.8,789.6 282.1,787.5 278.6,785.9C275.1,784.3 272.4,782.6 270.1,780.6C267.9,778.7 266,776.4 264.9,774.3C263.7,772.2 263.3,770.5 263.3,768Z"/></clipPath>
<path d="M263.3,768C263.3,765.6 263.7,762.8 264.9,759.6C266,756.5 267.9,752.6 270.1,749.1C272.4,745.6 275.1,742.1 278.6,738.6C282.1,735.2 286.3,731.3 291.2,728.2C296.1,725 302.2,722.1 308,719.8C313.8,717.4 320.7,715.2 325.9,714C331.2,712.7 335.6,712.4 339.6,712.2C343.6,712 347,712.1 350.1,712.6C353.3,713.2 355.6,713.8 358.6,715.6C361.5,717.3 365.2,720.3 368,722.9C370.8,725.5 372.8,727.8 375.4,731.3C378,734.8 381.2,740 383.8,743.9C386.4,747.7 389.1,751.1 391.2,754.4C393.3,757.7 395.4,761.2 396.4,763.8C397.5,766.5 397.9,768.2 397.5,770.1C397.1,772.1 396.1,773.8 394.3,775.4C392.6,777 390.5,778.2 387,779.6C383.5,781 378.2,782.4 373.3,783.8C368.4,785.2 361.4,786.8 357.5,788C353.6,789.2 352.8,790.1 350.1,791.1C347.5,792.2 344.9,793.1 341.7,794.3C338.6,795.5 334.7,797.1 331.2,798.5C327.7,799.9 323.3,801.9 320.7,802.7C318,803.5 317,803.7 315.4,803.2C313.8,802.7 312.4,801 311.2,799.5C310,798 309.1,796 308,794.3C307,792.5 307.7,789.7 304.9,789C302.1,788.3 295.6,790.6 291.2,790.1C286.8,789.6 282.1,787.5 278.6,785.9C275.1,784.3 272.4,782.6 270.1,780.6C267.9,778.7 266,776.4 264.9,774.3C263.7,772.2 263.3,770.5 263.3,768Z" fill="#ffffff"/>
<g clip-path="url(#c18)" stroke="#41474f" stroke-width="0.8" stroke-linejoin="round">
<path d="M257.5,705.1L308,705.1L308,719.8L307,727.1L291.2,734.5L280.7,742.8L271.2,755.4L269.1,768L271.2,777.5L257.5,810Z" fill="#fbe8e5"/>
<path d="M307,727.1L308,736.6L292.2,747L281.7,755.4L277,762.8L278.6,769.1L288,777.5L287,780.6L271.2,777.5L269.1,768L271.2,755.4L280.7,742.8L291.2,734.5Z" fill="#e0e7f3"/>
<path d="M308,736.6L316.5,735.5L320.7,737.1L327,734.5L329.1,751.2L320.7,751.8L310.1,754.4L299.6,759.6L293.3,767L293.3,770.1L289.1,777.5L288,777.5L278.6,769.1L277,762.8L281.7,755.4L292.2,747Z" fill="#e98573"/>
<path d="M308,705.1L327,705.1L327,716.6L325.4,724L327,734.5L320.7,737.1L316.5,735.5L308,736.6L307,727.1L308,719.8Z" fill="#7b99ca"/>
<path d="M327,705.1L341.7,705.1L341.7,713.5L343.8,730.8L333.3,734.5L327,734.5L325.4,724L327,716.6Z" fill="#a7b9dc"/>
<path d="M341.7,705.1L356.5,705.1L355.9,716.1L356.5,723.4L345.9,730.3L343.8,730.8L341.7,713.5Z" fill="#cbd6ea"/>
<path d="M327,734.5L333.3,734.5L343.8,730.8L345.9,730.3L347,734.5L361.7,742.8L358.6,752.3L356.5,769.1L352.2,770.1L350.1,763.8L344.9,756.5L335.4,753.3L329.1,751.2Z" fill="#f3f5fa"/>
<path d="M356.5,705.1L404.9,705.1L404.9,743.9L383.8,743.9L376.4,750.2L374.3,755.4L370.7,761.7L366.4,767L356.5,769.1L358.6,752.3L361.7,742.8L347,734.5L345.9,730.3L356.5,723.4L355.9,716.1Z" fill="#f3f5fa"/>
<path d="M383.8,743.9L404.9,743.9L404.9,759.6L393.3,759.6L389.1,760.2L380.7,757.5L375.4,754.4L376.4,750.2Z" fill="#cbd6ea"/>
<path d="M370.7,761.7L376.4,760.2L380.7,757.5L389.1,760.2L391.2,765.9L388,773.3L375.4,772.2L367,770.1L366.4,767Z" fill="#fdf3f1"/>
<path d="M374.3,755.4L375.4,754.4L380.7,757.5L376.4,760.2L370.7,761.7Z" fill="#f3f5fa"/>
<path d="M389.1,760.2L393.3,759.6L404.9,759.6L404.9,778.5L389.1,778.5L388,773.3L391.2,765.9Z" fill="#f6c8c0"/>
<path d="M356.5,769.1L366.4,767L367,770.1L375.4,772.2L388,773.3L389.1,778.5L387,779.8L373.3,784L365.9,783.3L350.1,786.9L351.2,781.7L354.3,776.4L352.2,770.1Z" fill="#fbe8e5"/>
<path d="M365.9,783.3L373.3,784L387,779.8L389.1,778.5L404.9,778.5L404.9,799.5L367,799.5L367,786.4Z" fill="#a7b9dc"/>
<path d="M350.1,786.9L365.9,783.3L367,786.4L367,799.5L350.1,799.5Z" fill="#fbdfda"/>
<path d="M351.2,781.7L350.1,786.9L350.1,799.5L335.4,804.8L335.4,790.1L344.9,784.8Z" fill="#cbd6ea"/>
<path d="M335.4,790.1L335.4,804.8L320.7,810L316.5,801.6L315.9,798.5L331.2,792.2Z" fill="#cbd6ea"/>
<path d="M306.5,789L310.1,795.3L315.9,798.5L316.5,801.6L320.7,810L303.8,810L303.8,789Z" fill="#a7b9dc"/>
<path d="M293.3,770.1L296.5,773.8L305.4,774.3L306.5,789L303.8,789L303.8,810L291.2,810L291.2,790.1L288,780.6L288,777.5L289.1,777.5Z" fill="#cbd6ea"/>
<path d="M271.2,777.5L287,780.6L288,780.6L291.2,790.1L291.2,810L257.5,810Z" fill="#8ea7d2"/>
<path d="M293.3,767L299.6,759.6L310.1,754.4L320.7,751.8L329.1,751.2L335.4,753.3L344.9,756.5L350.1,763.8L352.2,770.1L354.3,776.4L351.2,781.7L344.9,784.8L331.2,792.2L315.9,798.5L310.1,795.3L306.5,789L305.4,774.3L296.5,773.8L293.3,770.1Z" fill="#ffffff"/>
</g>
<path d="M263.3,768C263.3,765.6 263.7,762.8 264.9,759.6C266,756.5 267.9,752.6 270.1,749.1C272.4,745.6 275.1,742.1 278.6,738.6C282.1,735.2 286.3,731.3 291.2,728.2C296.1,725 302.2,722.1 308,719.8C313.8,717.4 320.7,715.2 325.9,714C331.2,712.7 335.6,712.4 339.6,712.2C343.6,712 347,712.1 350.1,712.6C353.3,713.2 355.6,713.8 358.6,715.6C361.5,717.3 365.2,720.3 368,722.9C370.8,725.5 372.8,727.8 375.4,731.3C378,734.8 381.2,740 383.8,743.9C386.4,747.7 389.1,751.1 391.2,754.4C393.3,757.7 395.4,761.2 396.4,763.8C397.5,766.5 397.9,768.2 397.5,770.1C397.1,772.1 396.1,773.8 394.3,775.4C392.6,777 390.5,778.2 387,779.6C383.5,781 378.2,782.4 373.3,783.8C368.4,785.2 361.4,786.8 357.5,788C353.6,789.2 352.8,790.1 350.1,791.1C347.5,792.2 344.9,793.1 341.7,794.3C338.6,795.5 334.7,797.1 331.2,798.5C327.7,799.9 323.3,801.9 320.7,802.7C318,803.5 317,803.7 315.4,803.2C313.8,802.7 312.4,801 311.2,799.5C310,798 309.1,796 308,794.3C307,792.5 307.7,789.7 304.9,789C302.1,788.3 295.6,790.6 291.2,790.1C286.8,789.6 282.1,787.5 278.6,785.9C275.1,784.3 272.4,782.6 270.1,780.6C267.9,778.7 266,776.4 264.9,774.3C263.7,772.2 263.3,770.5 263.3,768Z" fill="none" stroke="#434951" stroke-width="1.15"/>
<clipPath id="c19"><path d="M539.1,720.8C535.3,717.6 530.7,715.1 526.4,713.7C522.2,712.3 518.9,712.2 513.8,712.4C508.7,712.6 501.3,713.6 495.8,714.7C490.3,715.8 486.1,717.2 481,719.2C475.9,721.2 470.1,723.5 465.2,726.5C460.2,729.5 455.3,733.1 451.4,736.9C447.5,740.8 444.3,745.2 441.9,749.5C439.5,753.7 437.7,758.6 436.8,762.5C436,766.4 435.9,769.8 436.6,772.9C437.4,776.1 439.3,778.9 441.4,781.3C443.5,783.6 446.4,785.7 449.3,787C452.2,788.3 454.9,788.8 458.8,789.1C462.7,789.5 469.4,788.8 472.6,789.1C475.7,789.5 476.4,789.9 477.8,791.2C479.2,792.5 479.6,795.2 481,796.9C482.4,798.7 484.2,800.6 486.3,801.6C488.4,802.7 491,803.2 493.7,803.2C496.3,803.2 498.3,802.9 502.1,801.6C506,800.3 511.7,797.5 516.9,795.4C522.2,793.3 529.1,790.9 533.8,789.1C538.6,787.4 541.2,786.4 545.5,784.9C549.7,783.5 555.8,782.1 559.2,780.2C562.6,778.4 564.3,776.2 566.1,774C567.9,771.7 569.7,769.1 570,766.7C570.2,764.2 569.3,762.7 567.7,759.4C566,756.1 563.3,751.3 560.3,746.8C557.3,742.4 553.2,737.1 549.7,732.8C546.2,728.4 543,723.9 539.1,720.8Z"/></clipPath>
<path d="M539.1,720.8C535.3,717.6 530.7,715.1 526.4,713.7C522.2,712.3 518.9,712.2 513.8,712.4C508.7,712.6 501.3,713.6 495.8,714.7C490.3,715.8 486.1,717.2 481,719.2C475.9,721.2 470.1,723.5 465.2,726.5C460.2,729.5 455.3,733.1 451.4,736.9C447.5,740.8 444.3,745.2 441.9,749.5C439.5,753.7 437.7,758.6 436.8,762.5C436,766.4 435.9,769.8 436.6,772.9C437.4,776.1 439.3,778.9 441.4,781.3C443.5,783.6 446.4,785.7 449.3,787C452.2,788.3 454.9,788.8 458.8,789.1C462.7,789.5 469.4,788.8 472.6,789.1C475.7,789.5 476.4,789.9 477.8,791.2C479.2,792.5 479.6,795.2 481,796.9C482.4,798.7 484.2,800.6 486.3,801.6C488.4,802.7 491,803.2 493.7,803.2C496.3,803.2 498.3,802.9 502.1,801.6C506,800.3 511.7,797.5 516.9,795.4C522.2,793.3 529.1,790.9 533.8,789.1C538.6,787.4 541.2,786.4 545.5,784.9C549.7,783.5 555.8,782.1 559.2,780.2C562.6,778.4 564.3,776.2 566.1,774C567.9,771.7 569.7,769.1 570,766.7C570.2,764.2 569.3,762.7 567.7,759.4C566,756.1 563.3,751.3 560.3,746.8C557.3,742.4 553.2,737.1 549.7,732.8C546.2,728.4 543,723.9 539.1,720.8Z" fill="#ffffff"/>
<g clip-path="url(#c19)" stroke="#41474f" stroke-width="0.8" stroke-linejoin="round">
<path d="M538.6,720.8L540.2,723.9L541.2,729.1L538.1,731.7L541.2,739.5L540.2,748.9L543.4,754.2L544.4,758.8L549.7,759.4L553.9,758.8L557.1,760.4L562.4,761.5L564.5,763.5L576.1,763.5L576.1,705.1L538.6,705.1Z" fill="#a7b9dc"/>
<path d="M564.5,763.5L562.4,761.5L557.1,760.4L553.9,758.8L549.7,759.4L544.4,758.8L543.4,767.7L544.4,776.1L542.3,780.2L544.4,784.9L544.4,809.5L576.1,809.5L576.1,763.5Z" fill="#bac8e3"/>
<path d="M576.1,757.3L567.7,758.8L564.5,763.5L565.5,768.8L564.7,774L560.3,779.7L560.3,809.5L576.1,809.5Z" fill="#7b99ca"/>
<path d="M495.3,705.1L444,705.1L444,739.5L453.5,739.5L456.7,736.4L465.2,731.2L474.7,727.5L486.3,726L491.6,719.7L495.3,715Z" fill="#fbe8e5"/>
<path d="M453.5,739.5L450.9,746.8L456.7,748.9L457.2,757.3L456.7,771.9L458.8,787.5L458.8,809.5L428.2,809.5L428.2,739.5Z" fill="#f3f5fa"/>
<path d="M486.3,726L474.7,727.5L465.2,731.2L456.7,736.4L453.5,739.5L450.9,746.8L456.7,748.9L457.2,757.3L468.3,757.3L470.4,754.2L474.7,748.4L477.8,740.6L483.1,733.3Z" fill="#fdf3f1"/>
<path d="M513.8,705.1L495.3,705.1L495.3,715L491.6,719.7L486.3,726L483.1,733.3L477.8,740.6L474.7,748.4L477.8,752.1L478.9,755.2L482.1,759.4L488.4,757.3L492.6,751L494.7,746.8L499,738.5L503.2,731.2L507.4,724.9L510.6,720.8L512.7,716.6Z" fill="#f3f5fa"/>
<path d="M524.3,705.1L513.8,705.1L512.7,716.6L510.6,720.8L507.4,724.9L503.2,731.2L499,738.5L494.7,746.8L492.6,751L493.7,753.1L500,754.2L502.7,750.5L503.7,742.7L506.4,737.5L510.6,734.8L516.9,733.3L522.2,731.2L523.3,722.8Z" fill="#bac8e3"/>
<path d="M549.7,705.1L524.3,705.1L523.3,722.8L522.2,731.2L529.6,733.3L538.1,731.7L541.2,729.1L540.2,723.9L538.6,720.8L549.7,720.8Z" fill="#fbe8e5"/>
<path d="M516.9,733.3L510.6,734.8L506.4,737.5L503.7,742.7L502.7,750.5L508.5,750L518,746.8L518.5,739.5Z" fill="#fdf3f1"/>
<path d="M529.6,733.3L522.2,731.2L516.9,733.3L518.5,739.5L518,746.8L518.5,751L520.1,757.3L521.2,767.7L526.4,764.6L529.6,757.3L527.5,746.8L528.6,739.5Z" fill="#fbdfda"/>
<path d="M538.1,731.7L529.6,733.3L528.6,739.5L527.5,746.8L529.6,757.3L533.8,762.5L537,759.4L544.4,758.8L543.4,754.2L540.2,748.9L541.2,739.5Z" fill="#f6c8c0"/>
<path d="M544.4,758.8L537,759.4L533.8,762.5L529.6,757.3L526.4,764.6L521.2,767.7L524.3,778.2L524.3,781.3L531.7,782.3L542.3,780.2L544.4,776.1L543.4,767.7Z" fill="#f6c8c0"/>
<path d="M544.4,784.9L542.3,780.2L531.7,782.3L524.3,781.3L520.1,787.5L521.2,809.5L544.4,809.5Z" fill="#f8d5cf"/>
<path d="M521.2,767.7L516.9,771.9L508.5,775L502.1,778.2L497.9,784.4L495.8,788.6L499,791.7L497.9,795.9L507.4,791.7L512.7,787.5L520.1,787.5L524.3,781.3L524.3,778.2Z" fill="#9cb1d8"/>
<path d="M520.1,787.5L512.7,787.5L507.4,791.7L497.9,795.9L496.9,799L496.9,809.5L521.2,809.5Z" fill="#ffffff"/>
<path d="M520.1,757.3L516.9,763.5L508.5,767.7L500,776.1L497.9,784.4L502.1,778.2L508.5,775L516.9,771.9L521.2,767.7Z" fill="#fbdfda"/>
<path d="M518,746.8L508.5,750L502.7,750.5L503.2,754.2L502.1,760.4L506.4,762.5L512.7,757.3L518.5,751Z" fill="#bac8e3"/>
<path d="M503.2,754.2L502.7,750.5L500,754.2L493.7,753.1L492.6,751L488.4,757.3L482.1,759.4L481,765.6L488.4,764.6L495.8,762.5L502.1,760.4Z" fill="#bac8e3"/>
<path d="M502.1,760.4L495.8,762.5L488.4,764.6L481,765.6L477.8,769.8L468.3,771.9L467.3,772.9L470.4,780.2L472.6,789.1L472.6,791.7L477.8,791.7L478.9,788.6L488.4,780.2L497.9,769.8L506.4,762.5Z" fill="#8ea7d2"/>
<path d="M518.5,751L512.7,757.3L506.4,762.5L497.9,769.8L500,776.1L508.5,767.7L516.9,763.5L520.1,757.3Z" fill="#fbe8e5"/>
<path d="M497.9,769.8L488.4,780.2L478.9,788.6L481,791.7L491.6,782.3L500,776.1Z" fill="#e0e7f3"/>
<path d="M474.7,748.4L470.4,754.2L468.3,757.3L469.2,766.7L472.6,764.6L477.8,763.5L480,765.1L481,765.6L482.1,759.4L478.9,755.2L477.8,752.1Z" fill="#e0e7f3"/>
<path d="M468.3,757.3L457.2,757.3L456.7,771.9L467.3,772.9L468.3,771.9L468.5,769.3L469.2,766.7Z" fill="#e98573"/>
<path d="M480,765.1L477.8,763.5L472.6,764.6L466.2,766.5L462.2,768.8L462.8,771.5L468.3,772.1L471.5,771.1L476.8,769.6L480,767.5Z" fill="#a7b9dc"/>
<path d="M467.3,772.9L456.7,771.9L458.8,787.5L458.8,809.5L472.6,809.5L472.6,789.1L470.4,780.2Z" fill="#8ea7d2"/>
<path d="M497.9,784.4L500,776.1L491.6,782.3L488.4,786.5L489.5,799L492.6,809.5L496.9,809.5L496.9,799L497.9,795.9L499,791.7L495.8,788.6Z" fill="#7b99ca"/>
<path d="M491.6,782.3L481,791.7L478.9,788.6L477.8,791.7L472.6,791.7L472.6,809.5L492.6,809.5L489.5,799L488.4,786.5Z" fill="#7b99ca"/>
<path d="M496.9,797.5L489.3,797.5L489.3,809.5L496.9,809.5Z" fill="#cbd6ea"/>
</g>
<path d="M539.1,720.8C535.3,717.6 530.7,715.1 526.4,713.7C522.2,712.3 518.9,712.2 513.8,712.4C508.7,712.6 501.3,713.6 495.8,714.7C490.3,715.8 486.1,717.2 481,719.2C475.9,721.2 470.1,723.5 465.2,726.5C460.2,729.5 455.3,733.1 451.4,736.9C447.5,740.8 444.3,745.2 441.9,749.5C439.5,753.7 437.7,758.6 436.8,762.5C436,766.4 435.9,769.8 436.6,772.9C437.4,776.1 439.3,778.9 441.4,781.3C443.5,783.6 446.4,785.7 449.3,787C452.2,788.3 454.9,788.8 458.8,789.1C462.7,789.5 469.4,788.8 472.6,789.1C475.7,789.5 476.4,789.9 477.8,791.2C479.2,792.5 479.6,795.2 481,796.9C482.4,798.7 484.2,800.6 486.3,801.6C488.4,802.7 491,803.2 493.7,803.2C496.3,803.2 498.3,802.9 502.1,801.6C506,800.3 511.7,797.5 516.9,795.4C522.2,793.3 529.1,790.9 533.8,789.1C538.6,787.4 541.2,786.4 545.5,784.9C549.7,783.5 555.8,782.1 559.2,780.2C562.6,778.4 564.3,776.2 566.1,774C567.9,771.7 569.7,769.1 570,766.7C570.2,764.2 569.3,762.7 567.7,759.4C566,756.1 563.3,751.3 560.3,746.8C557.3,742.4 553.2,737.1 549.7,732.8C546.2,728.4 543,723.9 539.1,720.8Z" fill="none" stroke="#434951" stroke-width="1.15"/>
<clipPath id="c20"><path d="M732.1,768C732.1,765.6 731.7,762.8 730.5,759.6C729.4,756.5 727.5,752.6 725.3,749.1C723,745.6 720.4,742.1 716.8,738.6C713.3,735.2 709.1,731.3 704.2,728.2C699.3,725 693.2,722.1 687.4,719.8C681.6,717.4 674.8,715.2 669.5,714C664.3,712.7 659.9,712.4 655.8,712.2C651.8,712 648.5,712.1 645.3,712.6C642.2,713.2 639.9,713.8 636.9,715.6C633.9,717.3 630.3,720.3 627.4,722.9C624.6,725.5 622.7,727.8 620.1,731.3C617.5,734.8 614.3,740 611.7,743.9C609,747.7 606.4,751.1 604.3,754.4C602.2,757.7 600.1,761.2 599.1,763.8C598,766.5 597.6,768.2 598,770.1C598.4,772.1 599.4,773.8 601.2,775.4C602.9,777 605,778.2 608.5,779.6C612,781 617.3,782.4 622.2,783.8C627.1,785.2 634.1,786.8 638,788C641.8,789.2 642.7,790.1 645.3,791.1C648,792.2 650.6,793.1 653.7,794.3C656.9,795.5 660.8,797.1 664.3,798.5C667.8,799.9 672.1,801.9 674.8,802.7C677.4,803.5 678.5,803.7 680,803.2C681.6,802.7 683,801 684.2,799.5C685.5,798 686.3,796 687.4,794.3C688.5,792.5 687.8,789.7 690.6,789C693.4,788.3 699.8,790.6 704.2,790.1C708.6,789.6 713.3,787.5 716.8,785.9C720.4,784.3 723,782.6 725.3,780.6C727.5,778.7 729.4,776.4 730.5,774.3C731.7,772.2 732.1,770.5 732.1,768Z"/></clipPath>
<path d="M732.1,768C732.1,765.6 731.7,762.8 730.5,759.6C729.4,756.5 727.5,752.6 725.3,749.1C723,745.6 720.4,742.1 716.8,738.6C713.3,735.2 709.1,731.3 704.2,728.2C699.3,725 693.2,722.1 687.4,719.8C681.6,717.4 674.8,715.2 669.5,714C664.3,712.7 659.9,712.4 655.8,712.2C651.8,712 648.5,712.1 645.3,712.6C642.2,713.2 639.9,713.8 636.9,715.6C633.9,717.3 630.3,720.3 627.4,722.9C624.6,725.5 622.7,727.8 620.1,731.3C617.5,734.8 614.3,740 611.7,743.9C609,747.7 606.4,751.1 604.3,754.4C602.2,757.7 600.1,761.2 599.1,763.8C598,766.5 597.6,768.2 598,770.1C598.4,772.1 599.4,773.8 601.2,775.4C602.9,777 605,778.2 608.5,779.6C612,781 617.3,782.4 622.2,783.8C627.1,785.2 634.1,786.8 638,788C641.8,789.2 642.7,790.1 645.3,791.1C648,792.2 650.6,793.1 653.7,794.3C656.9,795.5 660.8,797.1 664.3,798.5C667.8,799.9 672.1,801.9 674.8,802.7C677.4,803.5 678.5,803.7 680,803.2C681.6,802.7 683,801 684.2,799.5C685.5,798 686.3,796 687.4,794.3C688.5,792.5 687.8,789.7 690.6,789C693.4,788.3 699.8,790.6 704.2,790.1C708.6,789.6 713.3,787.5 716.8,785.9C720.4,784.3 723,782.6 725.3,780.6C727.5,778.7 729.4,776.4 730.5,774.3C731.7,772.2 732.1,770.5 732.1,768Z" fill="#ffffff"/>
<g clip-path="url(#c20)" stroke="#41474f" stroke-width="0.8" stroke-linejoin="round">
<path d="M737.9,705.1L687.4,705.1L687.4,719.8L688.5,727.1L704.2,734.5L714.7,742.8L724.2,755.4L726.3,768L724.2,777.5L737.9,810Z" fill="#fbe8e5"/>
<path d="M688.5,727.1L687.4,736.6L703.2,747L713.7,755.4L718.4,762.8L716.8,769.1L707.4,777.5L708.4,780.6L724.2,777.5L726.3,768L724.2,755.4L714.7,742.8L704.2,734.5Z" fill="#e0e7f3"/>
<path d="M687.4,736.6L679,735.5L674.8,737.1L668.5,734.5L666.4,751.2L674.8,751.8L685.3,754.4L695.8,759.6L702.1,767L702.1,770.1L706.3,777.5L707.4,777.5L716.8,769.1L718.4,762.8L713.7,755.4L703.2,747Z" fill="#f0a597"/>
<path d="M687.4,705.1L668.5,705.1L668.5,716.6L670,724L668.5,734.5L674.8,737.1L679,735.5L687.4,736.6L688.5,727.1L687.4,719.8Z" fill="#7b99ca"/>
<path d="M668.5,705.1L653.7,705.1L653.7,713.5L651.6,730.8L662.2,734.5L668.5,734.5L670,724L668.5,716.6Z" fill="#f3f5fa"/>
<path d="M653.7,705.1L639,705.1L639.5,716.1L639,723.4L649.5,730.3L651.6,730.8L653.7,713.5Z" fill="#cbd6ea"/>
<path d="M668.5,734.5L662.2,734.5L651.6,730.8L649.5,730.3L648.5,734.5L633.8,742.8L636.9,752.3L639,769.1L643.2,770.1L645.3,763.8L650.6,756.5L660.1,753.3L666.4,751.2Z" fill="#a7b9dc"/>
<path d="M639,705.1L590.6,705.1L590.6,743.9L611.7,743.9L619,750.2L621.1,755.4L624.8,761.7L629,767L639,769.1L636.9,752.3L633.8,742.8L648.5,734.5L649.5,730.3L639,723.4L639.5,716.1Z" fill="#f6c8c0"/>
<path d="M611.7,743.9L590.6,743.9L590.6,759.6L602.2,759.6L606.4,760.2L614.8,757.5L620.1,754.4L619,750.2Z" fill="#f3f5fa"/>
<path d="M624.8,761.7L619,760.2L614.8,757.5L606.4,760.2L604.3,765.9L607.5,773.3L620.1,772.2L628.5,770.1L629,767Z" fill="#fbe8e5"/>
<path d="M621.1,755.4L620.1,754.4L614.8,757.5L619,760.2L624.8,761.7Z" fill="#d54e3f"/>
<path d="M606.4,760.2L602.2,759.6L590.6,759.6L590.6,778.5L606.4,778.5L607.5,773.3L604.3,765.9Z" fill="#6b91c6"/>
<path d="M639,769.1L629,767L628.5,770.1L620.1,772.2L607.5,773.3L606.4,778.5L608.5,779.8L622.2,784L629.6,783.3L645.3,786.9L644.3,781.7L641.1,776.4L643.2,770.1Z" fill="#e0e7f3"/>
<path d="M629.6,783.3L622.2,784L608.5,779.8L606.4,778.5L590.6,778.5L590.6,799.5L628.5,799.5L628.5,786.4Z" fill="#8ea7d2"/>
<path d="M645.3,786.9L629.6,783.3L628.5,786.4L628.5,799.5L645.3,799.5Z" fill="#f8d5cf"/>
<path d="M644.3,781.7L645.3,786.9L645.3,799.5L660.1,804.8L660.1,790.1L650.6,784.8Z" fill="#f8d5cf"/>
<path d="M660.1,790.1L660.1,804.8L674.8,810L679,801.6L679.5,798.5L664.3,792.2Z" fill="#cbd6ea"/>
<path d="M689,789L685.3,795.3L679.5,798.5L679,801.6L674.8,810L691.6,810L691.6,789Z" fill="#a7b9dc"/>
<path d="M702.1,770.1L699,773.8L690,774.3L689,789L691.6,789L691.6,810L704.2,810L704.2,790.1L707.4,780.6L707.4,777.5L706.3,777.5Z" fill="#cbd6ea"/>
<path d="M724.2,777.5L708.4,780.6L707.4,780.6L704.2,790.1L704.2,810L737.9,810Z" fill="#7b99ca"/>
<path d="M702.1,767L695.8,759.6L685.3,754.4L674.8,751.8L666.4,751.2L660.1,753.3L650.6,756.5L645.3,763.8L643.2,770.1L641.1,776.4L644.3,781.7L650.6,784.8L664.3,792.2L679.5,798.5L685.3,795.3L689,789L690,774.3L699,773.8L702.1,770.1Z" fill="#ffffff"/>
</g>
<path d="M732.1,768C732.1,765.6 731.7,762.8 730.5,759.6C729.4,756.5 727.5,752.6 725.3,749.1C723,745.6 720.4,742.1 716.8,738.6C713.3,735.2 709.1,731.3 704.2,728.2C699.3,725 693.2,722.1 687.4,719.8C681.6,717.4 674.8,715.2 669.5,714C664.3,712.7 659.9,712.4 655.8,712.2C651.8,712 648.5,712.1 645.3,712.6C642.2,713.2 639.9,713.8 636.9,715.6C633.9,717.3 630.3,720.3 627.4,722.9C624.6,725.5 622.7,727.8 620.1,731.3C617.5,734.8 614.3,740 611.7,743.9C609,747.7 606.4,751.1 604.3,754.4C602.2,757.7 600.1,761.2 599.1,763.8C598,766.5 597.6,768.2 598,770.1C598.4,772.1 599.4,773.8 601.2,775.4C602.9,777 605,778.2 608.5,779.6C612,781 617.3,782.4 622.2,783.8C627.1,785.2 634.1,786.8 638,788C641.8,789.2 642.7,790.1 645.3,791.1C648,792.2 650.6,793.1 653.7,794.3C656.9,795.5 660.8,797.1 664.3,798.5C667.8,799.9 672.1,801.9 674.8,802.7C677.4,803.5 678.5,803.7 680,803.2C681.6,802.7 683,801 684.2,799.5C685.5,798 686.3,796 687.4,794.3C688.5,792.5 687.8,789.7 690.6,789C693.4,788.3 699.8,790.6 704.2,790.1C708.6,789.6 713.3,787.5 716.8,785.9C720.4,784.3 723,782.6 725.3,780.6C727.5,778.7 729.4,776.4 730.5,774.3C731.7,772.2 732.1,770.5 732.1,768Z" fill="none" stroke="#434951" stroke-width="1.15"/>
<linearGradient id="gc1" x1="0" y1="0" x2="0" y2="1"><stop offset="0.000" stop-color="#ea8876"/><stop offset="0.123" stop-color="#f4b3a7"/><stop offset="0.247" stop-color="#fbdad4"/><stop offset="0.370" stop-color="#ffffff"/><stop offset="0.527" stop-color="#d6ddef"/><stop offset="0.685" stop-color="#a6b7db"/><stop offset="0.842" stop-color="#6f94c8"/><stop offset="1.000" stop-color="#2f70b3"/></linearGradient>
<rect x="779.9" y="719.2" width="19" height="90" fill="url(#gc1)"/>
<path d="M779.9,725.4h3.8 M795.1,725.4h3.8" stroke="#fff" stroke-opacity="0.8" stroke-width="0.8"/>
<text x="804.5" y="729.2" font-size="10" fill="#1a1a1a">1.04</text>
<path d="M779.9,752.5h3.8 M795.1,752.5h3.8" stroke="#fff" stroke-opacity="0.8" stroke-width="0.8"/>
<text x="804.5" y="756.3" font-size="10" fill="#1a1a1a">1.00</text>
<path d="M779.9,779.6h3.8 M795.1,779.6h3.8" stroke="#fff" stroke-opacity="0.8" stroke-width="0.8"/>
<text x="804.5" y="783.4" font-size="10" fill="#1a1a1a">0.96</text>
<path d="M779.9,805.7h3.8 M795.1,805.7h3.8" stroke="#fff" stroke-opacity="0.8" stroke-width="0.8"/>
<text x="804.5" y="809.5" font-size="10" fill="#1a1a1a">0.92</text>
<text x="780.4" y="712.3" font-size="12" fill="#1a1a1a">HR</text>
<text x="99.5" y="840.4" font-size="20" fill="#1f72a9" xml:space="preserve">Anxiety (outcome)</text>
<rect x="89.7" y="852.5" width="652.3" height="108.4" rx="20" ry="20" fill="none" stroke="#5353a3" stroke-width="0.95" stroke-dasharray="5.3 4.7"/>
<clipPath id="c21"><path d="M129.1,871.3C133,868.2 137.6,865.6 141.9,864.3C146.1,862.9 149.4,862.8 154.6,863C159.7,863.2 167.1,864.2 172.6,865.3C178,866.4 182.3,867.8 187.4,869.8C192.5,871.7 198.3,874.1 203.3,877C208.2,880 213.2,883.6 217,887.5C220.9,891.3 224.1,895.7 226.6,899.9C229,904.2 230.8,909 231.7,912.9C232.5,916.8 232.6,920.2 231.9,923.3C231.1,926.5 229.2,929.3 227.1,931.7C225,934 222.1,936.1 219.2,937.4C216.2,938.7 213.5,939.1 209.6,939.5C205.7,939.8 199,939.1 195.9,939.5C192.7,939.8 192,940.2 190.6,941.5C189.2,942.8 188.8,945.5 187.4,947.3C186,949 184.2,950.9 182.1,951.9C180,953 177.3,953.5 174.7,953.5C172,953.5 170.1,953.2 166.2,951.9C162.3,950.6 156.7,947.8 151.4,945.7C146.1,943.6 139.2,941.2 134.4,939.5C129.7,937.7 127,936.8 122.8,935.3C118.6,933.8 112.5,932.4 109,930.6C105.6,928.8 103.9,926.6 102.1,924.4C100.3,922.1 98.5,919.5 98.2,917.1C98,914.7 98.9,913.1 100.5,909.8C102.2,906.5 105,901.8 108,897.3C111,892.9 115,887.6 118.6,883.3C122.1,879 125.3,874.5 129.1,871.3Z"/></clipPath>
<path d="M129.1,871.3C133,868.2 137.6,865.6 141.9,864.3C146.1,862.9 149.4,862.8 154.6,863C159.7,863.2 167.1,864.2 172.6,865.3C178,866.4 182.3,867.8 187.4,869.8C192.5,871.7 198.3,874.1 203.3,877C208.2,880 213.2,883.6 217,887.5C220.9,891.3 224.1,895.7 226.6,899.9C229,904.2 230.8,909 231.7,912.9C232.5,916.8 232.6,920.2 231.9,923.3C231.1,926.5 229.2,929.3 227.1,931.7C225,934 222.1,936.1 219.2,937.4C216.2,938.7 213.5,939.1 209.6,939.5C205.7,939.8 199,939.1 195.9,939.5C192.7,939.8 192,940.2 190.6,941.5C189.2,942.8 188.8,945.5 187.4,947.3C186,949 184.2,950.9 182.1,951.9C180,953 177.3,953.5 174.7,953.5C172,953.5 170.1,953.2 166.2,951.9C162.3,950.6 156.7,947.8 151.4,945.7C146.1,943.6 139.2,941.2 134.4,939.5C129.7,937.7 127,936.8 122.8,935.3C118.6,933.8 112.5,932.4 109,930.6C105.6,928.8 103.9,926.6 102.1,924.4C100.3,922.1 98.5,919.5 98.2,917.1C98,914.7 98.9,913.1 100.5,909.8C102.2,906.5 105,901.8 108,897.3C111,892.9 115,887.6 118.6,883.3C122.1,879 125.3,874.5 129.1,871.3Z" fill="#ffffff"/>
<g clip-path="url(#c21)" stroke="#41474f" stroke-width="0.8" stroke-linejoin="round">
<path d="M129.7,871.3L128.1,874.4L127,879.7L130.2,882.3L127,890.1L128.1,899.4L124.9,904.6L123.8,909.3L118.6,909.8L114.3,909.3L111.1,910.9L105.8,911.9L103.7,914L92.1,914L92.1,855.7L129.7,855.7Z" fill="#bac8e3"/>
<path d="M103.7,914L105.8,911.9L111.1,910.9L114.3,909.3L118.6,909.8L123.8,909.3L124.9,918.1L123.8,926.5L126,930.6L123.8,935.3L123.8,959.7L92.1,959.7L92.1,914Z" fill="#f4b7ad"/>
<path d="M92.1,907.7L100.5,909.3L103.7,914L102.7,919.2L103.5,924.4L108,930.1L108,959.7L92.1,959.7Z" fill="#f3f5fa"/>
<path d="M173.1,855.7L224.5,855.7L224.5,890.1L214.9,890.1L211.7,886.9L203.3,881.7L193.7,878.1L182.1,876.5L176.8,870.3L173.1,865.6Z" fill="#ffffff"/>
<path d="M214.9,890.1L217.6,897.3L211.7,899.4L211.2,907.7L211.7,922.3L209.6,937.9L209.6,959.7L240.3,959.7L240.3,890.1Z" fill="#f3f5fa"/>
<path d="M182.1,876.5L193.7,878.1L203.3,881.7L211.7,886.9L214.9,890.1L217.6,897.3L211.7,899.4L211.2,907.7L200.1,907.7L198,904.6L193.7,898.9L190.6,891.1L185.3,883.8Z" fill="#e0e7f3"/>
<path d="M154.6,855.7L173.1,855.7L173.1,865.6L176.8,870.3L182.1,876.5L185.3,883.8L190.6,891.1L193.7,898.9L190.6,902.5L189.5,905.7L186.3,909.8L180,907.7L175.7,901.5L173.6,897.3L169.4,889L165.2,881.7L160.9,875.5L157.7,871.3L155.6,867.2Z" fill="#cbd6ea"/>
<path d="M144,855.7L154.6,855.7L155.6,867.2L157.7,871.3L160.9,875.5L165.2,881.7L169.4,889L173.6,897.3L175.7,901.5L174.7,903.6L168.3,904.6L165.7,901L164.6,893.2L162,888L157.7,885.4L151.4,883.8L146.1,881.7L145,873.4Z" fill="#cbd6ea"/>
<path d="M118.6,855.7L144,855.7L145,873.4L146.1,881.7L138.7,883.8L130.2,882.3L127,879.7L128.1,874.4L129.7,871.3L118.6,871.3Z" fill="#cbd6ea"/>
<path d="M151.4,883.8L157.7,885.4L162,888L164.6,893.2L165.7,901L159.9,900.5L150.3,897.3L149.8,890.1Z" fill="#a7b9dc"/>
<path d="M138.7,883.8L146.1,881.7L151.4,883.8L149.8,890.1L150.3,897.3L149.8,901.5L148.2,907.7L147.1,918.1L141.9,915L138.7,907.7L140.8,897.3L139.7,890.1Z" fill="#bac8e3"/>
<path d="M130.2,882.3L138.7,883.8L139.7,890.1L140.8,897.3L138.7,907.7L134.4,912.9L131.3,909.8L123.8,909.3L124.9,904.6L128.1,899.4L127,890.1Z" fill="#7b99ca"/>
<path d="M123.8,909.3L131.3,909.8L134.4,912.9L138.7,907.7L141.9,915L147.1,918.1L144,928.5L144,931.7L136.6,932.7L126,930.6L123.8,926.5L124.9,918.1Z" fill="#f4b7ad"/>
<path d="M123.8,935.3L126,930.6L136.6,932.7L144,931.7L148.2,937.9L147.1,959.7L123.8,959.7Z" fill="#f4b7ad"/>
<path d="M147.1,918.1L151.4,922.3L159.9,925.4L166.2,928.5L170.4,934.8L172.6,938.9L169.4,942.1L170.4,946.2L160.9,942.1L155.6,937.9L148.2,937.9L144,931.7L144,928.5Z" fill="#ffffff"/>
<path d="M148.2,937.9L155.6,937.9L160.9,942.1L170.4,946.2L171.5,949.3L171.5,959.7L147.1,959.7Z" fill="#a7b9dc"/>
<path d="M148.2,907.7L151.4,914L159.9,918.1L168.3,926.5L170.4,934.8L166.2,928.5L159.9,925.4L151.4,922.3L147.1,918.1Z" fill="#cbd6ea"/>
<path d="M150.3,897.3L159.9,900.5L165.7,901L165.2,904.6L166.2,910.9L162,912.9L155.6,907.7L149.8,901.5Z" fill="#4a7dbb"/>
<path d="M165.2,904.6L165.7,901L168.3,904.6L174.7,903.6L175.7,901.5L180,907.7L186.3,909.8L187.4,916.1L180,915L172.6,912.9L166.2,910.9Z" fill="#bac8e3"/>
<path d="M166.2,910.9L172.6,912.9L180,915L187.4,916.1L190.6,920.2L200.1,922.3L201.2,923.3L198,930.6L195.9,939.5L195.9,942.1L190.6,942.1L189.5,938.9L180,930.6L170.4,920.2L162,912.9Z" fill="#2f6bb0"/>
<path d="M149.8,901.5L155.6,907.7L162,912.9L170.4,920.2L168.3,926.5L159.9,918.1L151.4,914L148.2,907.7Z" fill="#cbd6ea"/>
<path d="M170.4,920.2L180,930.6L189.5,938.9L187.4,942.1L176.8,932.7L168.3,926.5Z" fill="#2f6bb0"/>
<path d="M193.7,898.9L198,904.6L200.1,907.7L199.3,917.1L195.9,915L190.6,914L188.4,915.5L187.4,916.1L186.3,909.8L189.5,905.7L190.6,902.5Z" fill="#fbe8e5"/>
<path d="M200.1,907.7L211.2,907.7L211.7,922.3L201.2,923.3L200.1,922.3L199.9,919.7L199.3,917.1Z" fill="#f8d5cf"/>
<path d="M188.4,915.5L190.6,914L195.9,915L199.3,917.1L199.9,919.7L196.9,921.5L191.6,920L188.4,917.9Z" fill="#4a7dbb"/>
<path d="M201.2,923.3L211.7,922.3L209.6,937.9L209.6,959.7L195.9,959.7L195.9,939.5L198,930.6Z" fill="#8ea7d2"/>
<path d="M170.4,934.8L168.3,926.5L176.8,932.7L180,936.9L178.9,949.3L175.7,959.7L171.5,959.7L171.5,949.3L170.4,946.2L169.4,942.1L172.6,938.9Z" fill="#9cb1d8"/>
<path d="M176.8,932.7L187.4,942.1L189.5,938.9L190.6,942.1L195.9,942.1L195.9,959.7L175.7,959.7L178.9,949.3L180,936.9Z" fill="#a7b9dc"/>
<path d="M171.5,947.8L179.1,947.8L179.1,959.7L171.5,959.7Z" fill="#a7b9dc"/>
</g>
<path d="M129.1,871.3C133,868.2 137.6,865.6 141.9,864.3C146.1,862.9 149.4,862.8 154.6,863C159.7,863.2 167.1,864.2 172.6,865.3C178,866.4 182.3,867.8 187.4,869.8C192.5,871.7 198.3,874.1 203.3,877C208.2,880 213.2,883.6 217,887.5C220.9,891.3 224.1,895.7 226.6,899.9C229,904.2 230.8,909 231.7,912.9C232.5,916.8 232.6,920.2 231.9,923.3C231.1,926.5 229.2,929.3 227.1,931.7C225,934 222.1,936.1 219.2,937.4C216.2,938.7 213.5,939.1 209.6,939.5C205.7,939.8 199,939.1 195.9,939.5C192.7,939.8 192,940.2 190.6,941.5C189.2,942.8 188.8,945.5 187.4,947.3C186,949 184.2,950.9 182.1,951.9C180,953 177.3,953.5 174.7,953.5C172,953.5 170.1,953.2 166.2,951.9C162.3,950.6 156.7,947.8 151.4,945.7C146.1,943.6 139.2,941.2 134.4,939.5C129.7,937.7 127,936.8 122.8,935.3C118.6,933.8 112.5,932.4 109,930.6C105.6,928.8 103.9,926.6 102.1,924.4C100.3,922.1 98.5,919.5 98.2,917.1C98,914.7 98.9,913.1 100.5,909.8C102.2,906.5 105,901.8 108,897.3C111,892.9 115,887.6 118.6,883.3C122.1,879 125.3,874.5 129.1,871.3Z" fill="none" stroke="#434951" stroke-width="1.15"/>
<clipPath id="c22"><path d="M259.4,918.5C259.4,916 259.8,913.2 261,910.1C262.1,906.9 264,903.1 266.2,899.6C268.5,896.1 271.2,892.6 274.7,889.2C278.2,885.7 282.4,881.8 287.3,878.7C292.2,875.6 298.3,872.7 304.1,870.3C309.9,868 316.8,865.8 322,864.6C327.3,863.3 331.7,863 335.7,862.8C339.7,862.6 343.1,862.7 346.2,863.2C349.4,863.8 351.7,864.4 354.7,866.1C357.6,867.9 361.3,870.9 364.1,873.5C366.9,876.1 368.9,878.4 371.5,881.8C374.1,885.3 377.3,890.6 379.9,894.4C382.5,898.2 385.2,901.5 387.3,904.9C389.4,908.2 391.5,911.7 392.5,914.3C393.6,916.9 394,918.6 393.6,920.5C393.2,922.5 392.2,924.2 390.4,925.8C388.7,927.3 386.6,928.6 383.1,930C379.6,931.4 374.3,932.8 369.4,934.1C364.5,935.5 357.5,937.1 353.6,938.3C349.7,939.6 348.9,940.4 346.2,941.5C343.6,942.5 341,943.4 337.8,944.6C334.7,945.8 330.8,947.4 327.3,948.8C323.8,950.2 319.4,952.2 316.8,953C314.1,953.8 313.1,954 311.5,953.5C309.9,953 308.5,951.3 307.3,949.8C306.1,948.4 305.2,946.4 304.1,944.6C303.1,942.9 303.8,940.1 301,939.4C298.2,938.7 291.7,940.9 287.3,940.4C282.9,939.9 278.2,937.8 274.7,936.2C271.2,934.7 268.5,932.9 266.2,931C264,929.1 262.1,926.8 261,924.7C259.8,922.6 259.4,920.9 259.4,918.5Z"/></clipPath>
<path d="M259.4,918.5C259.4,916 259.8,913.2 261,910.1C262.1,906.9 264,903.1 266.2,899.6C268.5,896.1 271.2,892.6 274.7,889.2C278.2,885.7 282.4,881.8 287.3,878.7C292.2,875.6 298.3,872.7 304.1,870.3C309.9,868 316.8,865.8 322,864.6C327.3,863.3 331.7,863 335.7,862.8C339.7,862.6 343.1,862.7 346.2,863.2C349.4,863.8 351.7,864.4 354.7,866.1C357.6,867.9 361.3,870.9 364.1,873.5C366.9,876.1 368.9,878.4 371.5,881.8C374.1,885.3 377.3,890.6 379.9,894.4C382.5,898.2 385.2,901.5 387.3,904.9C389.4,908.2 391.5,911.7 392.5,914.3C393.6,916.9 394,918.6 393.6,920.5C393.2,922.5 392.2,924.2 390.4,925.8C388.7,927.3 386.6,928.6 383.1,930C379.6,931.4 374.3,932.8 369.4,934.1C364.5,935.5 357.5,937.1 353.6,938.3C349.7,939.6 348.9,940.4 346.2,941.5C343.6,942.5 341,943.4 337.8,944.6C334.7,945.8 330.8,947.4 327.3,948.8C323.8,950.2 319.4,952.2 316.8,953C314.1,953.8 313.1,954 311.5,953.5C309.9,953 308.5,951.3 307.3,949.8C306.1,948.4 305.2,946.4 304.1,944.6C303.1,942.9 303.8,940.1 301,939.4C298.2,938.7 291.7,940.9 287.3,940.4C282.9,939.9 278.2,937.8 274.7,936.2C271.2,934.7 268.5,932.9 266.2,931C264,929.1 262.1,926.8 261,924.7C259.8,922.6 259.4,920.9 259.4,918.5Z" fill="#ffffff"/>
<g clip-path="url(#c22)" stroke="#41474f" stroke-width="0.8" stroke-linejoin="round">
<path d="M253.6,855.7L304.1,855.7L304.1,870.3L303.1,877.7L287.3,885L276.8,893.3L267.3,905.9L265.2,918.5L267.3,927.9L253.6,960.3Z" fill="#f3f5fa"/>
<path d="M303.1,877.7L304.1,887.1L288.3,897.5L277.8,905.9L273.1,913.2L274.7,919.5L284.1,927.9L283.1,931L267.3,927.9L265.2,918.5L267.3,905.9L276.8,893.3L287.3,885Z" fill="#cbd6ea"/>
<path d="M304.1,887.1L312.6,886L316.8,887.6L323.1,885L325.2,901.7L316.8,902.2L306.2,904.9L295.7,910.1L289.4,917.4L289.4,920.5L285.2,927.9L284.1,927.9L274.7,919.5L273.1,913.2L277.8,905.9L288.3,897.5Z" fill="#f4b7ad"/>
<path d="M304.1,855.7L323.1,855.7L323.1,867.2L321.5,874.5L323.1,885L316.8,887.6L312.6,886L304.1,887.1L303.1,877.7L304.1,870.3Z" fill="#7b99ca"/>
<path d="M323.1,855.7L337.8,855.7L337.8,864.1L339.9,881.3L329.4,885L323.1,885L321.5,874.5L323.1,867.2Z" fill="#cbd6ea"/>
<path d="M337.8,855.7L352.6,855.7L352,866.7L352.6,874L342,880.8L339.9,881.3L337.8,864.1Z" fill="#bac8e3"/>
<path d="M323.1,885L329.4,885L339.9,881.3L342,880.8L343.1,885L357.8,893.3L354.7,902.8L352.6,919.5L348.3,920.5L346.2,914.3L341,906.9L331.5,903.8L325.2,901.7Z" fill="#f4b7ad"/>
<path d="M352.6,855.7L401,855.7L401,894.4L379.9,894.4L372.5,900.7L370.4,905.9L366.8,912.2L362.5,917.4L352.6,919.5L354.7,902.8L357.8,893.3L343.1,885L342,880.8L352.6,874L352,866.7Z" fill="#bac8e3"/>
<path d="M379.9,894.4L401,894.4L401,910.1L389.4,910.1L385.2,910.6L376.8,908L371.5,904.9L372.5,900.7Z" fill="#bac8e3"/>
<path d="M366.8,912.2L372.5,910.6L376.8,908L385.2,910.6L387.3,916.4L384.1,923.7L371.5,922.6L363.1,920.5L362.5,917.4Z" fill="#fdf3f1"/>
<path d="M370.4,905.9L371.5,904.9L376.8,908L372.5,910.6L366.8,912.2Z" fill="#ffffff"/>
<path d="M385.2,910.6L389.4,910.1L401,910.1L401,928.9L385.2,928.9L384.1,923.7L387.3,916.4Z" fill="#e0e7f3"/>
<path d="M352.6,919.5L362.5,917.4L363.1,920.5L371.5,922.6L384.1,923.7L385.2,928.9L383.1,930.2L369.4,934.4L362,933.6L346.2,937.3L347.3,932.1L350.4,926.8L348.3,920.5Z" fill="#f0a597"/>
<path d="M362,933.6L369.4,934.4L383.1,930.2L385.2,928.9L401,928.9L401,949.8L363.1,949.8L363.1,936.8Z" fill="#8ea7d2"/>
<path d="M346.2,937.3L362,933.6L363.1,936.8L363.1,949.8L346.2,949.8Z" fill="#f3f5fa"/>
<path d="M347.3,932.1L346.2,937.3L346.2,949.8L331.5,955.1L331.5,940.4L341,935.2Z" fill="#cbd6ea"/>
<path d="M331.5,940.4L331.5,955.1L316.8,960.3L312.6,951.9L312,948.8L327.3,942.5Z" fill="#8ea7d2"/>
<path d="M302.6,939.4L306.2,945.7L312,948.8L312.6,951.9L316.8,960.3L299.9,960.3L299.9,939.4Z" fill="#a7b9dc"/>
<path d="M289.4,920.5L292.6,924.2L301.5,924.7L302.6,939.4L299.9,939.4L299.9,960.3L287.3,960.3L287.3,940.4L284.1,931L284.1,927.9L285.2,927.9Z" fill="#9cb1d8"/>
<path d="M267.3,927.9L283.1,931L284.1,931L287.3,940.4L287.3,960.3L253.6,960.3Z" fill="#8ea7d2"/>
<path d="M289.4,917.4L295.7,910.1L306.2,904.9L316.8,902.2L325.2,901.7L331.5,903.8L341,906.9L346.2,914.3L348.3,920.5L350.4,926.8L347.3,932.1L341,935.2L327.3,942.5L312,948.8L306.2,945.7L302.6,939.4L301.5,924.7L292.6,924.2L289.4,920.5Z" fill="#ffffff"/>
</g>
<path d="M259.4,918.5C259.4,916 259.8,913.2 261,910.1C262.1,906.9 264,903.1 266.2,899.6C268.5,896.1 271.2,892.6 274.7,889.2C278.2,885.7 282.4,881.8 287.3,878.7C292.2,875.6 298.3,872.7 304.1,870.3C309.9,868 316.8,865.8 322,864.6C327.3,863.3 331.7,863 335.7,862.8C339.7,862.6 343.1,862.7 346.2,863.2C349.4,863.8 351.7,864.4 354.7,866.1C357.6,867.9 361.3,870.9 364.1,873.5C366.9,876.1 368.9,878.4 371.5,881.8C374.1,885.3 377.3,890.6 379.9,894.4C382.5,898.2 385.2,901.5 387.3,904.9C389.4,908.2 391.5,911.7 392.5,914.3C393.6,916.9 394,918.6 393.6,920.5C393.2,922.5 392.2,924.2 390.4,925.8C388.7,927.3 386.6,928.6 383.1,930C379.6,931.4 374.3,932.8 369.4,934.1C364.5,935.5 357.5,937.1 353.6,938.3C349.7,939.6 348.9,940.4 346.2,941.5C343.6,942.5 341,943.4 337.8,944.6C334.7,945.8 330.8,947.4 327.3,948.8C323.8,950.2 319.4,952.2 316.8,953C314.1,953.8 313.1,954 311.5,953.5C309.9,953 308.5,951.3 307.3,949.8C306.1,948.4 305.2,946.4 304.1,944.6C303.1,942.9 303.8,940.1 301,939.4C298.2,938.7 291.7,940.9 287.3,940.4C282.9,939.9 278.2,937.8 274.7,936.2C271.2,934.7 268.5,932.9 266.2,931C264,929.1 262.1,926.8 261,924.7C259.8,922.6 259.4,920.9 259.4,918.5Z" fill="none" stroke="#434951" stroke-width="1.15"/>
<clipPath id="c23"><path d="M536.8,871.3C532.9,868.2 528.4,865.6 524.1,864.3C519.9,862.9 516.6,862.8 511.5,863C506.4,863.2 499,864.2 493.6,865.3C488.1,866.4 483.9,867.8 478.8,869.8C473.7,871.7 467.9,874.1 463,877C458.1,880 453.2,883.6 449.3,887.5C445.4,891.3 442.2,895.7 439.8,899.9C437.4,904.2 435.6,909 434.7,912.9C433.9,916.8 433.8,920.2 434.5,923.3C435.3,926.5 437.2,929.3 439.3,931.7C441.4,934 444.3,936.1 447.2,937.4C450.1,938.7 452.8,939.1 456.7,939.5C460.5,939.8 467.2,939.1 470.4,939.5C473.5,939.8 474.2,940.2 475.6,941.5C477.1,942.8 477.4,945.5 478.8,947.3C480.2,949 482,950.9 484.1,951.9C486.2,953 488.8,953.5 491.5,953.5C494.1,953.5 496,953.2 499.9,951.9C503.8,950.6 509.4,947.8 514.7,945.7C519.9,943.6 526.8,941.2 531.5,939.5C536.3,937.7 538.9,936.8 543.1,935.3C547.3,933.8 553.4,932.4 556.8,930.6C560.3,928.8 561.9,926.6 563.7,924.4C565.5,922.1 567.3,919.5 567.6,917.1C567.8,914.7 566.9,913.1 565.3,909.8C563.6,906.5 560.9,901.8 557.9,897.3C554.9,892.9 550.9,887.6 547.3,883.3C543.8,879 540.7,874.5 536.8,871.3Z"/></clipPath>
<path d="M536.8,871.3C532.9,868.2 528.4,865.6 524.1,864.3C519.9,862.9 516.6,862.8 511.5,863C506.4,863.2 499,864.2 493.6,865.3C488.1,866.4 483.9,867.8 478.8,869.8C473.7,871.7 467.9,874.1 463,877C458.1,880 453.2,883.6 449.3,887.5C445.4,891.3 442.2,895.7 439.8,899.9C437.4,904.2 435.6,909 434.7,912.9C433.9,916.8 433.8,920.2 434.5,923.3C435.3,926.5 437.2,929.3 439.3,931.7C441.4,934 444.3,936.1 447.2,937.4C450.1,938.7 452.8,939.1 456.7,939.5C460.5,939.8 467.2,939.1 470.4,939.5C473.5,939.8 474.2,940.2 475.6,941.5C477.1,942.8 477.4,945.5 478.8,947.3C480.2,949 482,950.9 484.1,951.9C486.2,953 488.8,953.5 491.5,953.5C494.1,953.5 496,953.2 499.9,951.9C503.8,950.6 509.4,947.8 514.7,945.7C519.9,943.6 526.8,941.2 531.5,939.5C536.3,937.7 538.9,936.8 543.1,935.3C547.3,933.8 553.4,932.4 556.8,930.6C560.3,928.8 561.9,926.6 563.7,924.4C565.5,922.1 567.3,919.5 567.6,917.1C567.8,914.7 566.9,913.1 565.3,909.8C563.6,906.5 560.9,901.8 557.9,897.3C554.9,892.9 550.9,887.6 547.3,883.3C543.8,879 540.7,874.5 536.8,871.3Z" fill="#ffffff"/>
<g clip-path="url(#c23)" stroke="#41474f" stroke-width="0.8" stroke-linejoin="round">
<path d="M536.3,871.3L537.9,874.4L538.9,879.7L535.7,882.3L538.9,890.1L537.9,899.4L541,904.6L542.1,909.3L547.3,909.8L551.6,909.3L554.7,910.9L560,911.9L562.1,914L573.7,914L573.7,855.7L536.3,855.7Z" fill="#cbd6ea"/>
<path d="M562.1,914L560,911.9L554.7,910.9L551.6,909.3L547.3,909.8L542.1,909.3L541,918.1L542.1,926.5L540,930.6L542.1,935.3L542.1,959.7L573.7,959.7L573.7,914Z" fill="#cbd6ea"/>
<path d="M573.7,907.7L565.3,909.3L562.1,914L563.2,919.2L562.3,924.4L557.9,930.1L557.9,959.7L573.7,959.7Z" fill="#8ea7d2"/>
<path d="M493,855.7L441.9,855.7L441.9,890.1L451.4,890.1L454.6,886.9L463,881.7L472.5,878.1L484.1,876.5L489.4,870.3L493,865.6Z" fill="#f8d5cf"/>
<path d="M451.4,890.1L448.8,897.3L454.6,899.4L455.1,907.7L454.6,922.3L456.7,937.9L456.7,959.7L426.1,959.7L426.1,890.1Z" fill="#cbd6ea"/>
<path d="M484.1,876.5L472.5,878.1L463,881.7L454.6,886.9L451.4,890.1L448.8,897.3L454.6,899.4L455.1,907.7L466.2,907.7L468.3,904.6L472.5,898.9L475.6,891.1L480.9,883.8Z" fill="#cbd6ea"/>
<path d="M511.5,855.7L493,855.7L493,865.6L489.4,870.3L484.1,876.5L480.9,883.8L475.6,891.1L472.5,898.9L475.6,902.5L476.7,905.7L479.9,909.8L486.2,907.7L490.4,901.5L492.5,897.3L496.7,889L500.9,881.7L505.2,875.5L508.3,871.3L510.4,867.2Z" fill="#f0a597"/>
<path d="M522,855.7L511.5,855.7L510.4,867.2L508.3,871.3L505.2,875.5L500.9,881.7L496.7,889L492.5,897.3L490.4,901.5L491.5,903.6L497.8,904.6L500.4,901L501.5,893.2L504.1,888L508.3,885.4L514.7,883.8L519.9,881.7L521,873.4Z" fill="#bac8e3"/>
<path d="M547.3,855.7L522,855.7L521,873.4L519.9,881.7L527.3,883.8L535.7,882.3L538.9,879.7L537.9,874.4L536.3,871.3L547.3,871.3Z" fill="#cbd6ea"/>
<path d="M514.7,883.8L508.3,885.4L504.1,888L501.5,893.2L500.4,901L506.2,900.5L515.7,897.3L516.2,890.1Z" fill="#ffffff"/>
<path d="M527.3,883.8L519.9,881.7L514.7,883.8L516.2,890.1L515.7,897.3L516.2,901.5L517.8,907.7L518.9,918.1L524.1,915L527.3,907.7L525.2,897.3L526.3,890.1Z" fill="#bac8e3"/>
<path d="M535.7,882.3L527.3,883.8L526.3,890.1L525.2,897.3L527.3,907.7L531.5,912.9L534.7,909.8L542.1,909.3L541,904.6L537.9,899.4L538.9,890.1Z" fill="#a7b9dc"/>
<path d="M542.1,909.3L534.7,909.8L531.5,912.9L527.3,907.7L524.1,915L518.9,918.1L522,928.5L522,931.7L529.4,932.7L540,930.6L542.1,926.5L541,918.1Z" fill="#f4b7ad"/>
<path d="M542.1,935.3L540,930.6L529.4,932.7L522,931.7L517.8,937.9L518.9,959.7L542.1,959.7Z" fill="#f4b7ad"/>
<path d="M518.9,918.1L514.7,922.3L506.2,925.4L499.9,928.5L495.7,934.8L493.6,938.9L496.7,942.1L495.7,946.2L505.2,942.1L510.4,937.9L517.8,937.9L522,931.7L522,928.5Z" fill="#6b91c6"/>
<path d="M517.8,937.9L510.4,937.9L505.2,942.1L495.7,946.2L494.6,949.3L494.6,959.7L518.9,959.7Z" fill="#f4b7ad"/>
<path d="M517.8,907.7L514.7,914L506.2,918.1L497.8,926.5L495.7,934.8L499.9,928.5L506.2,925.4L514.7,922.3L518.9,918.1Z" fill="#ffffff"/>
<path d="M515.7,897.3L506.2,900.5L500.4,901L500.9,904.6L499.9,910.9L504.1,912.9L510.4,907.7L516.2,901.5Z" fill="#bac8e3"/>
<path d="M500.9,904.6L500.4,901L497.8,904.6L491.5,903.6L490.4,901.5L486.2,907.7L479.9,909.8L478.8,916.1L486.2,915L493.6,912.9L499.9,910.9Z" fill="#bac8e3"/>
<path d="M499.9,910.9L493.6,912.9L486.2,915L478.8,916.1L475.6,920.2L466.2,922.3L465.1,923.3L468.3,930.6L470.4,939.5L470.4,942.1L475.6,942.1L476.7,938.9L486.2,930.6L495.7,920.2L504.1,912.9Z" fill="#4a7dbb"/>
<path d="M516.2,901.5L510.4,907.7L504.1,912.9L495.7,920.2L497.8,926.5L506.2,918.1L514.7,914L517.8,907.7Z" fill="#f8d5cf"/>
<path d="M495.7,920.2L486.2,930.6L476.7,938.9L478.8,942.1L489.4,932.7L497.8,926.5Z" fill="#e0e7f3"/>
<path d="M472.5,898.9L468.3,904.6L466.2,907.7L467,917.1L470.4,915L475.6,914L477.8,915.5L478.8,916.1L479.9,909.8L476.7,905.7L475.6,902.5Z" fill="#a7b9dc"/>
<path d="M466.2,907.7L455.1,907.7L454.6,922.3L465.1,923.3L466.2,922.3L466.4,919.7L467,917.1Z" fill="#f6c8c0"/>
<path d="M477.8,915.5L475.6,914L470.4,915L464,916.9L460,919.2L460.7,921.9L466.2,922.5L469.3,921.5L474.6,920L477.8,917.9Z" fill="#5a86c0"/>
<path d="M465.1,923.3L454.6,922.3L456.7,937.9L456.7,959.7L470.4,959.7L470.4,939.5L468.3,930.6Z" fill="#a7b9dc"/>
<path d="M495.7,934.8L497.8,926.5L489.4,932.7L486.2,936.9L487.2,949.3L490.4,959.7L494.6,959.7L494.6,949.3L495.7,946.2L496.7,942.1L493.6,938.9Z" fill="#8ea7d2"/>
<path d="M489.4,932.7L478.8,942.1L476.7,938.9L475.6,942.1L470.4,942.1L470.4,959.7L490.4,959.7L487.2,949.3L486.2,936.9Z" fill="#8ea7d2"/>
<path d="M494.6,947.8L487,947.8L487,959.7L494.6,959.7Z" fill="#2f6bb0"/>
</g>
<path d="M536.8,871.3C532.9,868.2 528.4,865.6 524.1,864.3C519.9,862.9 516.6,862.8 511.5,863C506.4,863.2 499,864.2 493.6,865.3C488.1,866.4 483.9,867.8 478.8,869.8C473.7,871.7 467.9,874.1 463,877C458.1,880 453.2,883.6 449.3,887.5C445.4,891.3 442.2,895.7 439.8,899.9C437.4,904.2 435.6,909 434.7,912.9C433.9,916.8 433.8,920.2 434.5,923.3C435.3,926.5 437.2,929.3 439.3,931.7C441.4,934 444.3,936.1 447.2,937.4C450.1,938.7 452.8,939.1 456.7,939.5C460.5,939.8 467.2,939.1 470.4,939.5C473.5,939.8 474.2,940.2 475.6,941.5C477.1,942.8 477.4,945.5 478.8,947.3C480.2,949 482,950.9 484.1,951.9C486.2,953 488.8,953.5 491.5,953.5C494.1,953.5 496,953.2 499.9,951.9C503.8,950.6 509.4,947.8 514.7,945.7C519.9,943.6 526.8,941.2 531.5,939.5C536.3,937.7 538.9,936.8 543.1,935.3C547.3,933.8 553.4,932.4 556.8,930.6C560.3,928.8 561.9,926.6 563.7,924.4C565.5,922.1 567.3,919.5 567.6,917.1C567.8,914.7 566.9,913.1 565.3,909.8C563.6,906.5 560.9,901.8 557.9,897.3C554.9,892.9 550.9,887.6 547.3,883.3C543.8,879 540.7,874.5 536.8,871.3Z" fill="none" stroke="#434951" stroke-width="1.15"/>
<clipPath id="c24"><path d="M729.3,918.5C729.3,916 728.9,913.2 727.7,910.1C726.6,906.9 724.7,903.1 722.5,899.6C720.2,896.1 717.5,892.6 714,889.2C710.5,885.7 706.3,881.8 701.4,878.7C696.5,875.6 690.3,872.7 684.5,870.3C678.7,868 671.9,865.8 666.6,864.6C661.4,863.3 657,863 652.9,862.8C648.9,862.6 645.6,862.7 642.4,863.2C639.2,863.8 637,864.4 634,866.1C631,867.9 627.3,870.9 624.5,873.5C621.7,876.1 619.8,878.4 617.1,881.8C614.5,885.3 611.3,890.6 608.7,894.4C606.1,898.2 603.4,901.5 601.3,904.9C599.2,908.2 597.1,911.7 596.1,914.3C595,916.9 594.6,918.6 595,920.5C595.4,922.5 596.4,924.2 598.2,925.8C599.9,927.3 602,928.6 605.5,930C609,931.4 614.3,932.8 619.2,934.1C624.1,935.5 631.2,937.1 635,938.3C638.9,939.6 639.8,940.4 642.4,941.5C645,942.5 647.7,943.4 650.8,944.6C654,945.8 657.8,947.4 661.4,948.8C664.9,950.2 669.3,952.2 671.9,953C674.5,953.8 675.6,954 677.2,953.5C678.7,953 680.1,951.3 681.4,949.8C682.6,948.4 683.5,946.4 684.5,944.6C685.6,942.9 684.9,940.1 687.7,939.4C690.5,938.7 697,940.9 701.4,940.4C705.8,939.9 710.5,937.8 714,936.2C717.5,934.7 720.2,932.9 722.5,931C724.7,929.1 726.6,926.8 727.7,924.7C728.9,922.6 729.3,920.9 729.3,918.5Z"/></clipPath>
<path d="M729.3,918.5C729.3,916 728.9,913.2 727.7,910.1C726.6,906.9 724.7,903.1 722.5,899.6C720.2,896.1 717.5,892.6 714,889.2C710.5,885.7 706.3,881.8 701.4,878.7C696.5,875.6 690.3,872.7 684.5,870.3C678.7,868 671.9,865.8 666.6,864.6C661.4,863.3 657,863 652.9,862.8C648.9,862.6 645.6,862.7 642.4,863.2C639.2,863.8 637,864.4 634,866.1C631,867.9 627.3,870.9 624.5,873.5C621.7,876.1 619.8,878.4 617.1,881.8C614.5,885.3 611.3,890.6 608.7,894.4C606.1,898.2 603.4,901.5 601.3,904.9C599.2,908.2 597.1,911.7 596.1,914.3C595,916.9 594.6,918.6 595,920.5C595.4,922.5 596.4,924.2 598.2,925.8C599.9,927.3 602,928.6 605.5,930C609,931.4 614.3,932.8 619.2,934.1C624.1,935.5 631.2,937.1 635,938.3C638.9,939.6 639.8,940.4 642.4,941.5C645,942.5 647.7,943.4 650.8,944.6C654,945.8 657.8,947.4 661.4,948.8C664.9,950.2 669.3,952.2 671.9,953C674.5,953.8 675.6,954 677.2,953.5C678.7,953 680.1,951.3 681.4,949.8C682.6,948.4 683.5,946.4 684.5,944.6C685.6,942.9 684.9,940.1 687.7,939.4C690.5,938.7 697,940.9 701.4,940.4C705.8,939.9 710.5,937.8 714,936.2C717.5,934.7 720.2,932.9 722.5,931C724.7,929.1 726.6,926.8 727.7,924.7C728.9,922.6 729.3,920.9 729.3,918.5Z" fill="#ffffff"/>
<g clip-path="url(#c24)" stroke="#41474f" stroke-width="0.8" stroke-linejoin="round">
<path d="M735.1,855.7L684.5,855.7L684.5,870.3L685.6,877.7L701.4,885L711.9,893.3L721.4,905.9L723.5,918.5L721.4,927.9L735.1,960.3Z" fill="#f8d5cf"/>
<path d="M685.6,877.7L684.5,887.1L700.3,897.5L710.9,905.9L715.6,913.2L714,919.5L704.5,927.9L705.6,931L721.4,927.9L723.5,918.5L721.4,905.9L711.9,893.3L701.4,885Z" fill="#cbd6ea"/>
<path d="M684.5,887.1L676.1,886L671.9,887.6L665.6,885L663.5,901.7L671.9,902.2L682.4,904.9L693,910.1L699.3,917.4L699.3,920.5L703.5,927.9L704.5,927.9L714,919.5L715.6,913.2L710.9,905.9L700.3,897.5Z" fill="#f6c8c0"/>
<path d="M684.5,855.7L665.6,855.7L665.6,867.2L667.2,874.5L665.6,885L671.9,887.6L676.1,886L684.5,887.1L685.6,877.7L684.5,870.3Z" fill="#6b91c6"/>
<path d="M665.6,855.7L650.8,855.7L650.8,864.1L648.7,881.3L659.3,885L665.6,885L667.2,874.5L665.6,867.2Z" fill="#f0a597"/>
<path d="M650.8,855.7L636.1,855.7L636.6,866.7L636.1,874L646.6,880.8L648.7,881.3L650.8,864.1Z" fill="#bac8e3"/>
<path d="M665.6,885L659.3,885L648.7,881.3L646.6,880.8L645.6,885L630.8,893.3L634,902.8L636.1,919.5L640.3,920.5L642.4,914.3L647.7,906.9L657.1,903.8L663.5,901.7Z" fill="#fdf3f1"/>
<path d="M636.1,855.7L587.6,855.7L587.6,894.4L608.7,894.4L616.1,900.7L618.2,905.9L621.9,912.2L626.1,917.4L636.1,919.5L634,902.8L630.8,893.3L645.6,885L646.6,880.8L636.1,874L636.6,866.7Z" fill="#fbe8e5"/>
<path d="M608.7,894.4L587.6,894.4L587.6,910.1L599.2,910.1L603.4,910.6L611.9,908L617.1,904.9L616.1,900.7Z" fill="#bac8e3"/>
<path d="M621.9,912.2L616.1,910.6L611.9,908L603.4,910.6L601.3,916.4L604.5,923.7L617.1,922.6L625.5,920.5L626.1,917.4Z" fill="#f6c8c0"/>
<path d="M618.2,905.9L617.1,904.9L611.9,908L616.1,910.6L621.9,912.2Z" fill="#f8d5cf"/>
<path d="M603.4,910.6L599.2,910.1L587.6,910.1L587.6,928.9L603.4,928.9L604.5,923.7L601.3,916.4Z" fill="#7b99ca"/>
<path d="M636.1,919.5L626.1,917.4L625.5,920.5L617.1,922.6L604.5,923.7L603.4,928.9L605.5,930.2L619.2,934.4L626.6,933.6L642.4,937.3L641.3,932.1L638.2,926.8L640.3,920.5Z" fill="#cbd6ea"/>
<path d="M626.6,933.6L619.2,934.4L605.5,930.2L603.4,928.9L587.6,928.9L587.6,949.8L625.5,949.8L625.5,936.8Z" fill="#4a7dbb"/>
<path d="M642.4,937.3L626.6,933.6L625.5,936.8L625.5,949.8L642.4,949.8Z" fill="#f3f5fa"/>
<path d="M641.3,932.1L642.4,937.3L642.4,949.8L657.1,955.1L657.1,940.4L647.7,935.2Z" fill="#f8d5cf"/>
<path d="M657.1,940.4L657.1,955.1L671.9,960.3L676.1,951.9L676.6,948.8L661.4,942.5Z" fill="#5a86c0"/>
<path d="M686.1,939.4L682.4,945.7L676.6,948.8L676.1,951.9L671.9,960.3L688.7,960.3L688.7,939.4Z" fill="#5a86c0"/>
<path d="M699.3,920.5L696.1,924.2L687.2,924.7L686.1,939.4L688.7,939.4L688.7,960.3L701.4,960.3L701.4,940.4L704.5,931L704.5,927.9L703.5,927.9Z" fill="#cbd6ea"/>
<path d="M721.4,927.9L705.6,931L704.5,931L701.4,940.4L701.4,960.3L735.1,960.3Z" fill="#8ea7d2"/>
<path d="M699.3,917.4L693,910.1L682.4,904.9L671.9,902.2L663.5,901.7L657.1,903.8L647.7,906.9L642.4,914.3L640.3,920.5L638.2,926.8L641.3,932.1L647.7,935.2L661.4,942.5L676.6,948.8L682.4,945.7L686.1,939.4L687.2,924.7L696.1,924.2L699.3,920.5Z" fill="#ffffff"/>
</g>
<path d="M729.3,918.5C729.3,916 728.9,913.2 727.7,910.1C726.6,906.9 724.7,903.1 722.5,899.6C720.2,896.1 717.5,892.6 714,889.2C710.5,885.7 706.3,881.8 701.4,878.7C696.5,875.6 690.3,872.7 684.5,870.3C678.7,868 671.9,865.8 666.6,864.6C661.4,863.3 657,863 652.9,862.8C648.9,862.6 645.6,862.7 642.4,863.2C639.2,863.8 637,864.4 634,866.1C631,867.9 627.3,870.9 624.5,873.5C621.7,876.1 619.8,878.4 617.1,881.8C614.5,885.3 611.3,890.6 608.7,894.4C606.1,898.2 603.4,901.5 601.3,904.9C599.2,908.2 597.1,911.7 596.1,914.3C595,916.9 594.6,918.6 595,920.5C595.4,922.5 596.4,924.2 598.2,925.8C599.9,927.3 602,928.6 605.5,930C609,931.4 614.3,932.8 619.2,934.1C624.1,935.5 631.2,937.1 635,938.3C638.9,939.6 639.8,940.4 642.4,941.5C645,942.5 647.7,943.4 650.8,944.6C654,945.8 657.8,947.4 661.4,948.8C664.9,950.2 669.3,952.2 671.9,953C674.5,953.8 675.6,954 677.2,953.5C678.7,953 680.1,951.3 681.4,949.8C682.6,948.4 683.5,946.4 684.5,944.6C685.6,942.9 684.9,940.1 687.7,939.4C690.5,938.7 697,940.9 701.4,940.4C705.8,939.9 710.5,937.8 714,936.2C717.5,934.7 720.2,932.9 722.5,931C724.7,929.1 726.6,926.8 727.7,924.7C728.9,922.6 729.3,920.9 729.3,918.5Z" fill="none" stroke="#434951" stroke-width="1.15"/>
<linearGradient id="gc2" x1="0" y1="0" x2="0" y2="1"><stop offset="0.000" stop-color="#ee998a"/><stop offset="0.074" stop-color="#f4b3a7"/><stop offset="0.197" stop-color="#fbdad4"/><stop offset="0.320" stop-color="#ffffff"/><stop offset="0.490" stop-color="#d6ddef"/><stop offset="0.660" stop-color="#a6b7db"/><stop offset="0.830" stop-color="#6f94c8"/><stop offset="1.000" stop-color="#2f70b3"/></linearGradient>
<rect x="778.1" y="867.2" width="19" height="89.6" fill="url(#gc2)"/>
<path d="M778.1,895.9h3.8 M793.3,895.9h3.8" stroke="#fff" stroke-opacity="0.8" stroke-width="0.8"/>
<text x="802.7" y="899.7" font-size="10" fill="#1a1a1a">1.00</text>
<path d="M778.1,926.9h3.8 M793.3,926.9h3.8" stroke="#fff" stroke-opacity="0.8" stroke-width="0.8"/>
<text x="802.7" y="930.7" font-size="10" fill="#1a1a1a">0.95</text>
<text x="778.6" y="860.7" font-size="12" fill="#1a1a1a">HR</text>
<text x="100" y="986.4" font-size="20" fill="#1f72a9" xml:space="preserve">Depression (outcome)</text>
<rect x="87.6" y="1001" width="653" height="108.4" rx="20" ry="20" fill="none" stroke="#5353a3" stroke-width="0.95" stroke-dasharray="5.3 4.7"/>
<clipPath id="c25"><path d="M125.5,1019.7C129.4,1016.6 134,1014 138.2,1012.7C142.4,1011.3 145.8,1011.2 150.9,1011.4C156,1011.6 163.4,1012.6 168.8,1013.7C174.3,1014.8 178.5,1016.2 183.6,1018.2C188.7,1020.1 194.5,1022.5 199.5,1025.5C204.4,1028.4 209.3,1032.1 213.2,1035.9C217.1,1039.7 220.3,1044.1 222.7,1048.4C225.1,1052.6 226.9,1057.5 227.8,1061.4C228.6,1065.3 228.7,1068.7 228,1071.8C227.2,1074.9 225.3,1077.8 223.2,1080.1C221.1,1082.5 218.2,1084.6 215.3,1085.9C212.4,1087.2 209.7,1087.6 205.8,1087.9C201.9,1088.3 195.2,1087.6 192.1,1087.9C188.9,1088.3 188.2,1088.7 186.8,1090C185.4,1091.3 185,1094 183.6,1095.8C182.2,1097.5 180.5,1099.4 178.3,1100.4C176.2,1101.5 173.6,1102 171,1102C168.3,1102 166.4,1101.7 162.5,1100.4C158.6,1099.1 153,1096.3 147.7,1094.2C142.4,1092.1 135.6,1089.7 130.8,1087.9C126.1,1086.2 123.4,1085.3 119.2,1083.8C115,1082.3 108.9,1080.9 105.5,1079.1C102.1,1077.3 100.4,1075.1 98.6,1072.8C96.8,1070.6 95,1068 94.7,1065.6C94.5,1063.1 95.4,1061.6 97,1058.3C98.7,1055 101.4,1050.2 104.4,1045.8C107.4,1041.3 111.5,1036.1 115,1031.7C118.5,1027.4 121.7,1022.9 125.5,1019.7Z"/></clipPath>
<path d="M125.5,1019.7C129.4,1016.6 134,1014 138.2,1012.7C142.4,1011.3 145.8,1011.2 150.9,1011.4C156,1011.6 163.4,1012.6 168.8,1013.7C174.3,1014.8 178.5,1016.2 183.6,1018.2C188.7,1020.1 194.5,1022.5 199.5,1025.5C204.4,1028.4 209.3,1032.1 213.2,1035.9C217.1,1039.7 220.3,1044.1 222.7,1048.4C225.1,1052.6 226.9,1057.5 227.8,1061.4C228.6,1065.3 228.7,1068.7 228,1071.8C227.2,1074.9 225.3,1077.8 223.2,1080.1C221.1,1082.5 218.2,1084.6 215.3,1085.9C212.4,1087.2 209.7,1087.6 205.8,1087.9C201.9,1088.3 195.2,1087.6 192.1,1087.9C188.9,1088.3 188.2,1088.7 186.8,1090C185.4,1091.3 185,1094 183.6,1095.8C182.2,1097.5 180.5,1099.4 178.3,1100.4C176.2,1101.5 173.6,1102 171,1102C168.3,1102 166.4,1101.7 162.5,1100.4C158.6,1099.1 153,1096.3 147.7,1094.2C142.4,1092.1 135.6,1089.7 130.8,1087.9C126.1,1086.2 123.4,1085.3 119.2,1083.8C115,1082.3 108.9,1080.9 105.5,1079.1C102.1,1077.3 100.4,1075.1 98.6,1072.8C96.8,1070.6 95,1068 94.7,1065.6C94.5,1063.1 95.4,1061.6 97,1058.3C98.7,1055 101.4,1050.2 104.4,1045.8C107.4,1041.3 111.5,1036.1 115,1031.7C118.5,1027.4 121.7,1022.9 125.5,1019.7Z" fill="#ffffff"/>
<g clip-path="url(#c25)" stroke="#41474f" stroke-width="0.8" stroke-linejoin="round">
<path d="M126.1,1019.7L124.5,1022.9L123.4,1028.1L126.6,1030.7L123.4,1038.5L124.5,1047.9L121.3,1053.1L120.3,1057.7L115,1058.3L110.8,1057.7L107.6,1059.3L102.3,1060.3L100.2,1062.4L88.6,1062.4L88.6,1004.1L126.1,1004.1Z" fill="#e0e7f3"/>
<path d="M100.2,1062.4L102.3,1060.3L107.6,1059.3L110.8,1057.7L115,1058.3L120.3,1057.7L121.3,1066.6L120.3,1074.9L122.4,1079.1L120.3,1083.8L120.3,1108.2L88.6,1108.2L88.6,1062.4Z" fill="#e0e7f3"/>
<path d="M88.6,1056.2L97,1057.7L100.2,1062.4L99.2,1067.6L100,1072.8L104.4,1078.6L104.4,1108.2L88.6,1108.2Z" fill="#e26d5b"/>
<path d="M169.4,1004.1L220.6,1004.1L220.6,1038.5L211.1,1038.5L207.9,1035.4L199.5,1030.2L190,1026.5L178.3,1024.9L173.1,1018.7L169.4,1014Z" fill="#f8d5cf"/>
<path d="M211.1,1038.5L213.7,1045.8L207.9,1047.9L207.4,1056.2L207.9,1070.8L205.8,1086.4L205.8,1108.2L236.4,1108.2L236.4,1038.5Z" fill="#fbdfda"/>
<path d="M178.3,1024.9L190,1026.5L199.5,1030.2L207.9,1035.4L211.1,1038.5L213.7,1045.8L207.9,1047.9L207.4,1056.2L196.3,1056.2L194.2,1053.1L190,1047.3L186.8,1039.5L181.5,1032.2Z" fill="#ed9787"/>
<path d="M150.9,1004.1L169.4,1004.1L169.4,1014L173.1,1018.7L178.3,1024.9L181.5,1032.2L186.8,1039.5L190,1047.3L186.8,1051L185.7,1054.1L182.6,1058.3L176.2,1056.2L172,1049.9L169.9,1045.8L165.7,1037.4L161.4,1030.2L157.2,1023.9L154.1,1019.7L151.9,1015.6Z" fill="#7b99ca"/>
<path d="M140.3,1004.1L150.9,1004.1L151.9,1015.6L154.1,1019.7L157.2,1023.9L161.4,1030.2L165.7,1037.4L169.9,1045.8L172,1049.9L171,1052L164.6,1053.1L162,1049.4L160.9,1041.6L158.3,1036.4L154.1,1033.8L147.7,1032.2L142.4,1030.2L141.4,1021.8Z" fill="#cbd6ea"/>
<path d="M115,1004.1L140.3,1004.1L141.4,1021.8L142.4,1030.2L135.1,1032.2L126.6,1030.7L123.4,1028.1L124.5,1022.9L126.1,1019.7L115,1019.7Z" fill="#7b99ca"/>
<path d="M147.7,1032.2L154.1,1033.8L158.3,1036.4L160.9,1041.6L162,1049.4L156.2,1048.9L146.7,1045.8L146.1,1038.5Z" fill="#f6c8c0"/>
<path d="M135.1,1032.2L142.4,1030.2L147.7,1032.2L146.1,1038.5L146.7,1045.8L146.1,1049.9L144.6,1056.2L143.5,1066.6L138.2,1063.5L135.1,1056.2L137.2,1045.8L136.1,1038.5Z" fill="#ffffff"/>
<path d="M126.6,1030.7L135.1,1032.2L136.1,1038.5L137.2,1045.8L135.1,1056.2L130.8,1061.4L127.7,1058.3L120.3,1057.7L121.3,1053.1L124.5,1047.9L123.4,1038.5Z" fill="#ed9787"/>
<path d="M120.3,1057.7L127.7,1058.3L130.8,1061.4L135.1,1056.2L138.2,1063.5L143.5,1066.6L140.3,1077L140.3,1080.1L132.9,1081.2L122.4,1079.1L120.3,1074.9L121.3,1066.6Z" fill="#ffffff"/>
<path d="M120.3,1083.8L122.4,1079.1L132.9,1081.2L140.3,1080.1L144.6,1086.4L143.5,1108.2L120.3,1108.2Z" fill="#f8d5cf"/>
<path d="M143.5,1066.6L147.7,1070.8L156.2,1073.9L162.5,1077L166.7,1083.3L168.8,1087.4L165.7,1090.5L166.7,1094.7L157.2,1090.5L151.9,1086.4L144.6,1086.4L140.3,1080.1L140.3,1077Z" fill="#f0a597"/>
<path d="M144.6,1086.4L151.9,1086.4L157.2,1090.5L166.7,1094.7L167.8,1097.8L167.8,1108.2L143.5,1108.2Z" fill="#ffffff"/>
<path d="M144.6,1056.2L147.7,1062.4L156.2,1066.6L164.6,1074.9L166.7,1083.3L162.5,1077L156.2,1073.9L147.7,1070.8L143.5,1066.6Z" fill="#e0e7f3"/>
<path d="M146.7,1045.8L156.2,1048.9L162,1049.4L161.4,1053.1L162.5,1059.3L158.3,1061.4L151.9,1056.2L146.1,1049.9Z" fill="#8ea7d2"/>
<path d="M161.4,1053.1L162,1049.4L164.6,1053.1L171,1052L172,1049.9L176.2,1056.2L182.6,1058.3L183.6,1064.5L176.2,1063.5L168.8,1061.4L162.5,1059.3Z" fill="#cbd6ea"/>
<path d="M162.5,1059.3L168.8,1061.4L176.2,1063.5L183.6,1064.5L186.8,1068.7L196.3,1070.8L197.4,1071.8L194.2,1079.1L192.1,1087.9L192.1,1090.5L186.8,1090.5L185.7,1087.4L176.2,1079.1L166.7,1068.7L158.3,1061.4Z" fill="#cbd6ea"/>
<path d="M146.1,1049.9L151.9,1056.2L158.3,1061.4L166.7,1068.7L164.6,1074.9L156.2,1066.6L147.7,1062.4L144.6,1056.2Z" fill="#e0e7f3"/>
<path d="M166.7,1068.7L176.2,1079.1L185.7,1087.4L183.6,1090.5L173.1,1081.2L164.6,1074.9Z" fill="#e0e7f3"/>
<path d="M190,1047.3L194.2,1053.1L196.3,1056.2L195.5,1065.6L192.1,1063.5L186.8,1062.4L184.7,1064L183.6,1064.5L182.6,1058.3L185.7,1054.1L186.8,1051Z" fill="#e0e7f3"/>
<path d="M196.3,1056.2L207.4,1056.2L207.9,1070.8L197.4,1071.8L196.3,1070.8L196.1,1068.2L195.5,1065.6Z" fill="#fbe8e5"/>
<path d="M184.7,1064L186.8,1062.4L192.1,1063.5L195.5,1065.6L196.1,1068.2L193.1,1069.9L187.8,1068.5L184.7,1066.4Z" fill="#e0e7f3"/>
<path d="M197.4,1071.8L207.9,1070.8L205.8,1086.4L205.8,1108.2L192.1,1108.2L192.1,1087.9L194.2,1079.1Z" fill="#bac8e3"/>
<path d="M166.7,1083.3L164.6,1074.9L173.1,1081.2L176.2,1085.3L175.2,1097.8L172,1108.2L167.8,1108.2L167.8,1097.8L166.7,1094.7L165.7,1090.5L168.8,1087.4Z" fill="#ed9787"/>
<path d="M173.1,1081.2L183.6,1090.5L185.7,1087.4L186.8,1090.5L192.1,1090.5L192.1,1108.2L172,1108.2L175.2,1097.8L176.2,1085.3Z" fill="#a7b9dc"/>
<path d="M167.8,1096.3L175.4,1096.3L175.4,1108.2L167.8,1108.2Z" fill="#ed9787"/>
</g>
<path d="M125.5,1019.7C129.4,1016.6 134,1014 138.2,1012.7C142.4,1011.3 145.8,1011.2 150.9,1011.4C156,1011.6 163.4,1012.6 168.8,1013.7C174.3,1014.8 178.5,1016.2 183.6,1018.2C188.7,1020.1 194.5,1022.5 199.5,1025.5C204.4,1028.4 209.3,1032.1 213.2,1035.9C217.1,1039.7 220.3,1044.1 222.7,1048.4C225.1,1052.6 226.9,1057.5 227.8,1061.4C228.6,1065.3 228.7,1068.7 228,1071.8C227.2,1074.9 225.3,1077.8 223.2,1080.1C221.1,1082.5 218.2,1084.6 215.3,1085.9C212.4,1087.2 209.7,1087.6 205.8,1087.9C201.9,1088.3 195.2,1087.6 192.1,1087.9C188.9,1088.3 188.2,1088.7 186.8,1090C185.4,1091.3 185,1094 183.6,1095.8C182.2,1097.5 180.5,1099.4 178.3,1100.4C176.2,1101.5 173.6,1102 171,1102C168.3,1102 166.4,1101.7 162.5,1100.4C158.6,1099.1 153,1096.3 147.7,1094.2C142.4,1092.1 135.6,1089.7 130.8,1087.9C126.1,1086.2 123.4,1085.3 119.2,1083.8C115,1082.3 108.9,1080.9 105.5,1079.1C102.1,1077.3 100.4,1075.1 98.6,1072.8C96.8,1070.6 95,1068 94.7,1065.6C94.5,1063.1 95.4,1061.6 97,1058.3C98.7,1055 101.4,1050.2 104.4,1045.8C107.4,1041.3 111.5,1036.1 115,1031.7C118.5,1027.4 121.7,1022.9 125.5,1019.7Z" fill="none" stroke="#434951" stroke-width="1.15"/>
<clipPath id="c26"><path d="M255.5,1066.9C255.5,1064.5 255.9,1061.7 257.1,1058.5C258.2,1055.4 260.1,1051.6 262.4,1048.1C264.7,1044.6 267.3,1041.1 270.8,1037.6C274.3,1034.1 278.6,1030.3 283.5,1027.1C288.4,1024 294.6,1021.1 300.4,1018.7C306.2,1016.4 313.1,1014.2 318.4,1013C323.6,1011.7 328,1011.4 332.1,1011.2C336.1,1011 339.5,1011.1 342.7,1011.6C345.8,1012.2 348.1,1012.8 351.1,1014.6C354.1,1016.3 357.8,1019.3 360.6,1021.9C363.4,1024.5 365.4,1026.8 368,1030.3C370.7,1033.8 373.8,1039 376.5,1042.8C379.1,1046.7 381.7,1050 383.9,1053.3C386,1056.6 388.1,1060.1 389.1,1062.7C390.2,1065.3 390.6,1067.1 390.2,1069C389.8,1070.9 388.8,1072.7 387,1074.2C385.3,1075.8 383.2,1077 379.6,1078.4C376.1,1079.8 370.8,1081.2 365.9,1082.6C361,1084 353.9,1085.6 350.1,1086.8C346.2,1088 345.3,1088.9 342.7,1090C340,1091 337.4,1091.9 334.2,1093.1C331,1094.3 327.2,1095.9 323.6,1097.3C320.1,1098.7 315.7,1100.7 313.1,1101.5C310.4,1102.3 309.4,1102.5 307.8,1102C306.2,1101.5 304.8,1099.8 303.6,1098.3C302.3,1096.9 301.5,1094.8 300.4,1093.1C299.3,1091.4 300,1088.6 297.2,1087.9C294.4,1087.2 287.9,1089.4 283.5,1088.9C279.1,1088.4 274.3,1086.3 270.8,1084.7C267.3,1083.1 264.7,1081.4 262.4,1079.5C260.1,1077.6 258.2,1075.3 257.1,1073.2C255.9,1071.1 255.5,1069.4 255.5,1066.9Z"/></clipPath>
<path d="M255.5,1066.9C255.5,1064.5 255.9,1061.7 257.1,1058.5C258.2,1055.4 260.1,1051.6 262.4,1048.1C264.7,1044.6 267.3,1041.1 270.8,1037.6C274.3,1034.1 278.6,1030.3 283.5,1027.1C288.4,1024 294.6,1021.1 300.4,1018.7C306.2,1016.4 313.1,1014.2 318.4,1013C323.6,1011.7 328,1011.4 332.1,1011.2C336.1,1011 339.5,1011.1 342.7,1011.6C345.8,1012.2 348.1,1012.8 351.1,1014.6C354.1,1016.3 357.8,1019.3 360.6,1021.9C363.4,1024.5 365.4,1026.8 368,1030.3C370.7,1033.8 373.8,1039 376.5,1042.8C379.1,1046.7 381.7,1050 383.9,1053.3C386,1056.6 388.1,1060.1 389.1,1062.7C390.2,1065.3 390.6,1067.1 390.2,1069C389.8,1070.9 388.8,1072.7 387,1074.2C385.3,1075.8 383.2,1077 379.6,1078.4C376.1,1079.8 370.8,1081.2 365.9,1082.6C361,1084 353.9,1085.6 350.1,1086.8C346.2,1088 345.3,1088.9 342.7,1090C340,1091 337.4,1091.9 334.2,1093.1C331,1094.3 327.2,1095.9 323.6,1097.3C320.1,1098.7 315.7,1100.7 313.1,1101.5C310.4,1102.3 309.4,1102.5 307.8,1102C306.2,1101.5 304.8,1099.8 303.6,1098.3C302.3,1096.9 301.5,1094.8 300.4,1093.1C299.3,1091.4 300,1088.6 297.2,1087.9C294.4,1087.2 287.9,1089.4 283.5,1088.9C279.1,1088.4 274.3,1086.3 270.8,1084.7C267.3,1083.1 264.7,1081.4 262.4,1079.5C260.1,1077.6 258.2,1075.3 257.1,1073.2C255.9,1071.1 255.5,1069.4 255.5,1066.9Z" fill="#ffffff"/>
<g clip-path="url(#c26)" stroke="#41474f" stroke-width="0.8" stroke-linejoin="round">
<path d="M249.7,1004.1L300.4,1004.1L300.4,1018.7L299.3,1026.1L283.5,1033.4L272.9,1041.8L263.4,1054.3L261.3,1066.9L263.4,1076.3L249.7,1108.8Z" fill="#f8d5cf"/>
<path d="M299.3,1026.1L300.4,1035.5L284.6,1046L274,1054.3L269.2,1061.7L270.8,1068L280.3,1076.3L279.3,1079.5L263.4,1076.3L261.3,1066.9L263.4,1054.3L272.9,1041.8L283.5,1033.4Z" fill="#f8d5cf"/>
<path d="M300.4,1035.5L308.9,1034.4L313.1,1036L319.4,1033.4L321.5,1050.2L313.1,1050.7L302.5,1053.3L291.9,1058.5L285.6,1065.9L285.6,1069L281.4,1076.3L280.3,1076.3L270.8,1068L269.2,1061.7L274,1054.3L284.6,1046Z" fill="#e26d5b"/>
<path d="M300.4,1004.1L319.4,1004.1L319.4,1015.6L317.8,1022.9L319.4,1033.4L313.1,1036L308.9,1034.4L300.4,1035.5L299.3,1026.1L300.4,1018.7Z" fill="#6b91c6"/>
<path d="M319.4,1004.1L334.2,1004.1L334.2,1012.5L336.3,1029.7L325.8,1033.4L319.4,1033.4L317.8,1022.9L319.4,1015.6Z" fill="#6b91c6"/>
<path d="M334.2,1004.1L349,1004.1L348.5,1015.1L349,1022.4L338.4,1029.2L336.3,1029.7L334.2,1012.5Z" fill="#cbd6ea"/>
<path d="M319.4,1033.4L325.8,1033.4L336.3,1029.7L338.4,1029.2L339.5,1033.4L354.3,1041.8L351.1,1051.2L349,1068L344.8,1069L342.7,1062.7L337.4,1055.4L327.9,1052.3L321.5,1050.2Z" fill="#fdf3f1"/>
<path d="M349,1004.1L397.6,1004.1L397.6,1042.8L376.5,1042.8L369.1,1049.1L367,1054.3L363.3,1060.6L359,1065.9L349,1068L351.1,1051.2L354.3,1041.8L339.5,1033.4L338.4,1029.2L349,1022.4L348.5,1015.1Z" fill="#f8d5cf"/>
<path d="M376.5,1042.8L397.6,1042.8L397.6,1058.5L386,1058.5L381.7,1059.1L373.3,1056.4L368,1053.3L369.1,1049.1Z" fill="#8ea7d2"/>
<path d="M363.3,1060.6L369.1,1059.1L373.3,1056.4L381.7,1059.1L383.9,1064.8L380.7,1072.2L368,1071.1L359.6,1069L359,1065.9Z" fill="#f8d5cf"/>
<path d="M367,1054.3L368,1053.3L373.3,1056.4L369.1,1059.1L363.3,1060.6Z" fill="#cbd6ea"/>
<path d="M381.7,1059.1L386,1058.5L397.6,1058.5L397.6,1077.4L381.7,1077.4L380.7,1072.2L383.9,1064.8Z" fill="#e26d5b"/>
<path d="M349,1068L359,1065.9L359.6,1069L368,1071.1L380.7,1072.2L381.7,1077.4L379.6,1078.6L365.9,1082.8L358.5,1082.1L342.7,1085.8L343.7,1080.5L346.9,1075.3L344.8,1069Z" fill="#9cb1d8"/>
<path d="M358.5,1082.1L365.9,1082.8L379.6,1078.6L381.7,1077.4L397.6,1077.4L397.6,1098.3L359.6,1098.3L359.6,1085.2Z" fill="#a7b9dc"/>
<path d="M342.7,1085.8L358.5,1082.1L359.6,1085.2L359.6,1098.3L342.7,1098.3Z" fill="#f6c8c0"/>
<path d="M343.7,1080.5L342.7,1085.8L342.7,1098.3L327.9,1103.6L327.9,1088.9L337.4,1083.7Z" fill="#bac8e3"/>
<path d="M327.9,1088.9L327.9,1103.6L313.1,1108.8L308.9,1100.4L308.3,1097.3L323.6,1091Z" fill="#bac8e3"/>
<path d="M298.8,1087.9L302.5,1094.1L308.3,1097.3L308.9,1100.4L313.1,1108.8L296.2,1108.8L296.2,1087.9Z" fill="#cbd6ea"/>
<path d="M285.6,1069L288.8,1072.7L297.8,1073.2L298.8,1087.9L296.2,1087.9L296.2,1108.8L283.5,1108.8L283.5,1088.9L280.3,1079.5L280.3,1076.3L281.4,1076.3Z" fill="#f3f5fa"/>
<path d="M263.4,1076.3L279.3,1079.5L280.3,1079.5L283.5,1088.9L283.5,1108.8L249.7,1108.8Z" fill="#6b91c6"/>
<path d="M285.6,1065.9L291.9,1058.5L302.5,1053.3L313.1,1050.7L321.5,1050.2L327.9,1052.3L337.4,1055.4L342.7,1062.7L344.8,1069L346.9,1075.3L343.7,1080.5L337.4,1083.7L323.6,1091L308.3,1097.3L302.5,1094.1L298.8,1087.9L297.8,1073.2L288.8,1072.7L285.6,1069Z" fill="#ffffff"/>
</g>
<path d="M255.5,1066.9C255.5,1064.5 255.9,1061.7 257.1,1058.5C258.2,1055.4 260.1,1051.6 262.4,1048.1C264.7,1044.6 267.3,1041.1 270.8,1037.6C274.3,1034.1 278.6,1030.3 283.5,1027.1C288.4,1024 294.6,1021.1 300.4,1018.7C306.2,1016.4 313.1,1014.2 318.4,1013C323.6,1011.7 328,1011.4 332.1,1011.2C336.1,1011 339.5,1011.1 342.7,1011.6C345.8,1012.2 348.1,1012.8 351.1,1014.6C354.1,1016.3 357.8,1019.3 360.6,1021.9C363.4,1024.5 365.4,1026.8 368,1030.3C370.7,1033.8 373.8,1039 376.5,1042.8C379.1,1046.7 381.7,1050 383.9,1053.3C386,1056.6 388.1,1060.1 389.1,1062.7C390.2,1065.3 390.6,1067.1 390.2,1069C389.8,1070.9 388.8,1072.7 387,1074.2C385.3,1075.8 383.2,1077 379.6,1078.4C376.1,1079.8 370.8,1081.2 365.9,1082.6C361,1084 353.9,1085.6 350.1,1086.8C346.2,1088 345.3,1088.9 342.7,1090C340,1091 337.4,1091.9 334.2,1093.1C331,1094.3 327.2,1095.9 323.6,1097.3C320.1,1098.7 315.7,1100.7 313.1,1101.5C310.4,1102.3 309.4,1102.5 307.8,1102C306.2,1101.5 304.8,1099.8 303.6,1098.3C302.3,1096.9 301.5,1094.8 300.4,1093.1C299.3,1091.4 300,1088.6 297.2,1087.9C294.4,1087.2 287.9,1089.4 283.5,1088.9C279.1,1088.4 274.3,1086.3 270.8,1084.7C267.3,1083.1 264.7,1081.4 262.4,1079.5C260.1,1077.6 258.2,1075.3 257.1,1073.2C255.9,1071.1 255.5,1069.4 255.5,1066.9Z" fill="none" stroke="#434951" stroke-width="1.15"/>
<clipPath id="c27"><path d="M532.5,1019.7C528.6,1016.6 524,1014 519.8,1012.7C515.6,1011.3 512.3,1011.2 507.2,1011.4C502.1,1011.6 494.7,1012.6 489.2,1013.7C483.8,1014.8 479.5,1016.2 474.4,1018.2C469.3,1020.1 463.5,1022.5 458.6,1025.5C453.7,1028.4 448.8,1032.1 444.9,1035.9C441,1039.7 437.8,1044.1 435.4,1048.4C433,1052.6 431.2,1057.5 430.3,1061.4C429.5,1065.3 429.4,1068.7 430.1,1071.8C430.9,1074.9 432.8,1077.8 434.9,1080.1C437,1082.5 439.9,1084.6 442.8,1085.9C445.7,1087.2 448.4,1087.6 452.3,1087.9C456.2,1088.3 462.8,1087.6 466,1087.9C469.2,1088.3 469.9,1088.7 471.3,1090C472.7,1091.3 473,1094 474.4,1095.8C475.8,1097.5 477.6,1099.4 479.7,1100.4C481.8,1101.5 484.5,1102 487.1,1102C489.7,1102 491.7,1101.7 495.5,1100.4C499.4,1099.1 505,1096.3 510.3,1094.2C515.6,1092.1 522.5,1089.7 527.2,1087.9C531.9,1086.2 534.6,1085.3 538.8,1083.8C543,1082.3 549.1,1080.9 552.5,1079.1C556,1077.3 557.6,1075.1 559.4,1072.8C561.2,1070.6 563,1068 563.3,1065.6C563.5,1063.1 562.6,1061.6 561,1058.3C559.3,1055 556.6,1050.2 553.6,1045.8C550.6,1041.3 546.5,1036.1 543,1031.7C539.5,1027.4 536.3,1022.9 532.5,1019.7Z"/></clipPath>
<path d="M532.5,1019.7C528.6,1016.6 524,1014 519.8,1012.7C515.6,1011.3 512.3,1011.2 507.2,1011.4C502.1,1011.6 494.7,1012.6 489.2,1013.7C483.8,1014.8 479.5,1016.2 474.4,1018.2C469.3,1020.1 463.5,1022.5 458.6,1025.5C453.7,1028.4 448.8,1032.1 444.9,1035.9C441,1039.7 437.8,1044.1 435.4,1048.4C433,1052.6 431.2,1057.5 430.3,1061.4C429.5,1065.3 429.4,1068.7 430.1,1071.8C430.9,1074.9 432.8,1077.8 434.9,1080.1C437,1082.5 439.9,1084.6 442.8,1085.9C445.7,1087.2 448.4,1087.6 452.3,1087.9C456.2,1088.3 462.8,1087.6 466,1087.9C469.2,1088.3 469.9,1088.7 471.3,1090C472.7,1091.3 473,1094 474.4,1095.8C475.8,1097.5 477.6,1099.4 479.7,1100.4C481.8,1101.5 484.5,1102 487.1,1102C489.7,1102 491.7,1101.7 495.5,1100.4C499.4,1099.1 505,1096.3 510.3,1094.2C515.6,1092.1 522.5,1089.7 527.2,1087.9C531.9,1086.2 534.6,1085.3 538.8,1083.8C543,1082.3 549.1,1080.9 552.5,1079.1C556,1077.3 557.6,1075.1 559.4,1072.8C561.2,1070.6 563,1068 563.3,1065.6C563.5,1063.1 562.6,1061.6 561,1058.3C559.3,1055 556.6,1050.2 553.6,1045.8C550.6,1041.3 546.5,1036.1 543,1031.7C539.5,1027.4 536.3,1022.9 532.5,1019.7Z" fill="#ffffff"/>
<g clip-path="url(#c27)" stroke="#41474f" stroke-width="0.8" stroke-linejoin="round">
<path d="M531.9,1019.7L533.5,1022.9L534.6,1028.1L531.4,1030.7L534.6,1038.5L533.5,1047.9L536.7,1053.1L537.7,1057.7L543,1058.3L547.2,1057.7L550.4,1059.3L555.7,1060.3L557.8,1062.4L569.4,1062.4L569.4,1004.1L531.9,1004.1Z" fill="#7b99ca"/>
<path d="M557.8,1062.4L555.7,1060.3L550.4,1059.3L547.2,1057.7L543,1058.3L537.7,1057.7L536.7,1066.6L537.7,1074.9L535.6,1079.1L537.7,1083.8L537.7,1108.2L569.4,1108.2L569.4,1062.4Z" fill="#ffffff"/>
<path d="M569.4,1056.2L561,1057.7L557.8,1062.4L558.9,1067.6L558,1072.8L553.6,1078.6L553.6,1108.2L569.4,1108.2Z" fill="#7b99ca"/>
<path d="M488.7,1004.1L437.5,1004.1L437.5,1038.5L447,1038.5L450.2,1035.4L458.6,1030.2L468.1,1026.5L479.7,1024.9L485,1018.7L488.7,1014Z" fill="#f3f5fa"/>
<path d="M447,1038.5L444.4,1045.8L450.2,1047.9L450.7,1056.2L450.2,1070.8L452.3,1086.4L452.3,1108.2L421.7,1108.2L421.7,1038.5Z" fill="#f4b7ad"/>
<path d="M479.7,1024.9L468.1,1026.5L458.6,1030.2L450.2,1035.4L447,1038.5L444.4,1045.8L450.2,1047.9L450.7,1056.2L461.8,1056.2L463.9,1053.1L468.1,1047.3L471.3,1039.5L476.6,1032.2Z" fill="#f8d5cf"/>
<path d="M507.2,1004.1L488.7,1004.1L488.7,1014L485,1018.7L479.7,1024.9L476.6,1032.2L471.3,1039.5L468.1,1047.3L471.3,1051L472.3,1054.1L475.5,1058.3L481.8,1056.2L486,1049.9L488.2,1045.8L492.4,1037.4L496.6,1030.2L500.8,1023.9L504,1019.7L506.1,1015.6Z" fill="#8ea7d2"/>
<path d="M517.7,1004.1L507.2,1004.1L506.1,1015.6L504,1019.7L500.8,1023.9L496.6,1030.2L492.4,1037.4L488.2,1045.8L486,1049.9L487.1,1052L493.4,1053.1L496.1,1049.4L497.1,1041.6L499.8,1036.4L504,1033.8L510.3,1032.2L515.6,1030.2L516.6,1021.8Z" fill="#a7b9dc"/>
<path d="M543,1004.1L517.7,1004.1L516.6,1021.8L515.6,1030.2L523,1032.2L531.4,1030.7L534.6,1028.1L533.5,1022.9L531.9,1019.7L543,1019.7Z" fill="#ed9787"/>
<path d="M510.3,1032.2L504,1033.8L499.8,1036.4L497.1,1041.6L496.1,1049.4L501.9,1048.9L511.4,1045.8L511.9,1038.5Z" fill="#a7b9dc"/>
<path d="M523,1032.2L515.6,1030.2L510.3,1032.2L511.9,1038.5L511.4,1045.8L511.9,1049.9L513.5,1056.2L514.5,1066.6L519.8,1063.5L523,1056.2L520.9,1045.8L521.9,1038.5Z" fill="#e98573"/>
<path d="M531.4,1030.7L523,1032.2L521.9,1038.5L520.9,1045.8L523,1056.2L527.2,1061.4L530.4,1058.3L537.7,1057.7L536.7,1053.1L533.5,1047.9L534.6,1038.5Z" fill="#d54e3f"/>
<path d="M537.7,1057.7L530.4,1058.3L527.2,1061.4L523,1056.2L519.8,1063.5L514.5,1066.6L517.7,1077L517.7,1080.1L525.1,1081.2L535.6,1079.1L537.7,1074.9L536.7,1066.6Z" fill="#ed9787"/>
<path d="M537.7,1083.8L535.6,1079.1L525.1,1081.2L517.7,1080.1L513.5,1086.4L514.5,1108.2L537.7,1108.2Z" fill="#ffffff"/>
<path d="M514.5,1066.6L510.3,1070.8L501.9,1073.9L495.5,1077L491.3,1083.3L489.2,1087.4L492.4,1090.5L491.3,1094.7L500.8,1090.5L506.1,1086.4L513.5,1086.4L517.7,1080.1L517.7,1077Z" fill="#f3f5fa"/>
<path d="M513.5,1086.4L506.1,1086.4L500.8,1090.5L491.3,1094.7L490.3,1097.8L490.3,1108.2L514.5,1108.2Z" fill="#ffffff"/>
<path d="M513.5,1056.2L510.3,1062.4L501.9,1066.6L493.4,1074.9L491.3,1083.3L495.5,1077L501.9,1073.9L510.3,1070.8L514.5,1066.6Z" fill="#ffffff"/>
<path d="M511.4,1045.8L501.9,1048.9L496.1,1049.4L496.6,1053.1L495.5,1059.3L499.8,1061.4L506.1,1056.2L511.9,1049.9Z" fill="#a7b9dc"/>
<path d="M496.6,1053.1L496.1,1049.4L493.4,1053.1L487.1,1052L486,1049.9L481.8,1056.2L475.5,1058.3L474.4,1064.5L481.8,1063.5L489.2,1061.4L495.5,1059.3Z" fill="#a7b9dc"/>
<path d="M495.5,1059.3L489.2,1061.4L481.8,1063.5L474.4,1064.5L471.3,1068.7L461.8,1070.8L460.7,1071.8L463.9,1079.1L466,1087.9L466,1090.5L471.3,1090.5L472.3,1087.4L481.8,1079.1L491.3,1068.7L499.8,1061.4Z" fill="#a7b9dc"/>
<path d="M511.9,1049.9L506.1,1056.2L499.8,1061.4L491.3,1068.7L493.4,1074.9L501.9,1066.6L510.3,1062.4L513.5,1056.2Z" fill="#e0e7f3"/>
<path d="M491.3,1068.7L481.8,1079.1L472.3,1087.4L474.4,1090.5L485,1081.2L493.4,1074.9Z" fill="#e26d5b"/>
<path d="M468.1,1047.3L463.9,1053.1L461.8,1056.2L462.6,1065.6L466,1063.5L471.3,1062.4L473.4,1064L474.4,1064.5L475.5,1058.3L472.3,1054.1L471.3,1051Z" fill="#f8d5cf"/>
<path d="M461.8,1056.2L450.7,1056.2L450.2,1070.8L460.7,1071.8L461.8,1070.8L462,1068.2L462.6,1065.6Z" fill="#ed9787"/>
<path d="M473.4,1064L471.3,1062.4L466,1063.5L459.7,1065.3L455.7,1067.6L456.3,1070.3L461.8,1071L464.9,1069.9L470.2,1068.5L473.4,1066.4Z" fill="#f3f5fa"/>
<path d="M460.7,1071.8L450.2,1070.8L452.3,1086.4L452.3,1108.2L466,1108.2L466,1087.9L463.9,1079.1Z" fill="#8ea7d2"/>
<path d="M491.3,1083.3L493.4,1074.9L485,1081.2L481.8,1085.3L482.9,1097.8L486,1108.2L490.3,1108.2L490.3,1097.8L491.3,1094.7L492.4,1090.5L489.2,1087.4Z" fill="#cbd6ea"/>
<path d="M485,1081.2L474.4,1090.5L472.3,1087.4L471.3,1090.5L466,1090.5L466,1108.2L486,1108.2L482.9,1097.8L481.8,1085.3Z" fill="#cbd6ea"/>
<path d="M490.3,1096.3L482.7,1096.3L482.7,1108.2L490.3,1108.2Z" fill="#ffffff"/>
</g>
<path d="M532.5,1019.7C528.6,1016.6 524,1014 519.8,1012.7C515.6,1011.3 512.3,1011.2 507.2,1011.4C502.1,1011.6 494.7,1012.6 489.2,1013.7C483.8,1014.8 479.5,1016.2 474.4,1018.2C469.3,1020.1 463.5,1022.5 458.6,1025.5C453.7,1028.4 448.8,1032.1 444.9,1035.9C441,1039.7 437.8,1044.1 435.4,1048.4C433,1052.6 431.2,1057.5 430.3,1061.4C429.5,1065.3 429.4,1068.7 430.1,1071.8C430.9,1074.9 432.8,1077.8 434.9,1080.1C437,1082.5 439.9,1084.6 442.8,1085.9C445.7,1087.2 448.4,1087.6 452.3,1087.9C456.2,1088.3 462.8,1087.6 466,1087.9C469.2,1088.3 469.9,1088.7 471.3,1090C472.7,1091.3 473,1094 474.4,1095.8C475.8,1097.5 477.6,1099.4 479.7,1100.4C481.8,1101.5 484.5,1102 487.1,1102C489.7,1102 491.7,1101.7 495.5,1100.4C499.4,1099.1 505,1096.3 510.3,1094.2C515.6,1092.1 522.5,1089.7 527.2,1087.9C531.9,1086.2 534.6,1085.3 538.8,1083.8C543,1082.3 549.1,1080.9 552.5,1079.1C556,1077.3 557.6,1075.1 559.4,1072.8C561.2,1070.6 563,1068 563.3,1065.6C563.5,1063.1 562.6,1061.6 561,1058.3C559.3,1055 556.6,1050.2 553.6,1045.8C550.6,1041.3 546.5,1036.1 543,1031.7C539.5,1027.4 536.3,1022.9 532.5,1019.7Z" fill="none" stroke="#434951" stroke-width="1.15"/>
<clipPath id="c28"><path d="M725.1,1066.9C725.1,1064.5 724.7,1061.7 723.5,1058.5C722.4,1055.4 720.5,1051.6 718.3,1048.1C716,1044.6 713.3,1041.1 709.8,1037.6C706.3,1034.1 702.1,1030.3 697.2,1027.1C692.3,1024 686.2,1021.1 680.4,1018.7C674.6,1016.4 667.7,1014.2 662.5,1013C657.2,1011.7 652.8,1011.4 648.8,1011.2C644.8,1011 641.4,1011.1 638.3,1011.6C635.1,1012.2 632.8,1012.8 629.8,1014.6C626.9,1016.3 623.2,1019.3 620.4,1021.9C617.6,1024.5 615.6,1026.8 613,1030.3C610.4,1033.8 607.2,1039 604.6,1042.8C602,1046.7 599.3,1050 597.2,1053.3C595.1,1056.6 593,1060.1 592,1062.7C590.9,1065.3 590.5,1067.1 590.9,1069C591.3,1070.9 592.3,1072.7 594.1,1074.2C595.8,1075.8 597.9,1077 601.4,1078.4C604.9,1079.8 610.2,1081.2 615.1,1082.6C620,1084 627,1085.6 630.9,1086.8C634.8,1088 635.6,1088.9 638.3,1090C640.9,1091 643.5,1091.9 646.7,1093.1C649.8,1094.3 653.7,1095.9 657.2,1097.3C660.7,1098.7 665.1,1100.7 667.7,1101.5C670.4,1102.3 671.4,1102.5 673,1102C674.6,1101.5 676,1099.8 677.2,1098.3C678.4,1096.9 679.3,1094.8 680.4,1093.1C681.4,1091.4 680.7,1088.6 683.5,1087.9C686.3,1087.2 692.8,1089.4 697.2,1088.9C701.6,1088.4 706.3,1086.3 709.8,1084.7C713.3,1083.1 716,1081.4 718.3,1079.5C720.5,1077.6 722.4,1075.3 723.5,1073.2C724.7,1071.1 725.1,1069.4 725.1,1066.9Z"/></clipPath>
<path d="M725.1,1066.9C725.1,1064.5 724.7,1061.7 723.5,1058.5C722.4,1055.4 720.5,1051.6 718.3,1048.1C716,1044.6 713.3,1041.1 709.8,1037.6C706.3,1034.1 702.1,1030.3 697.2,1027.1C692.3,1024 686.2,1021.1 680.4,1018.7C674.6,1016.4 667.7,1014.2 662.5,1013C657.2,1011.7 652.8,1011.4 648.8,1011.2C644.8,1011 641.4,1011.1 638.3,1011.6C635.1,1012.2 632.8,1012.8 629.8,1014.6C626.9,1016.3 623.2,1019.3 620.4,1021.9C617.6,1024.5 615.6,1026.8 613,1030.3C610.4,1033.8 607.2,1039 604.6,1042.8C602,1046.7 599.3,1050 597.2,1053.3C595.1,1056.6 593,1060.1 592,1062.7C590.9,1065.3 590.5,1067.1 590.9,1069C591.3,1070.9 592.3,1072.7 594.1,1074.2C595.8,1075.8 597.9,1077 601.4,1078.4C604.9,1079.8 610.2,1081.2 615.1,1082.6C620,1084 627,1085.6 630.9,1086.8C634.8,1088 635.6,1088.9 638.3,1090C640.9,1091 643.5,1091.9 646.7,1093.1C649.8,1094.3 653.7,1095.9 657.2,1097.3C660.7,1098.7 665.1,1100.7 667.7,1101.5C670.4,1102.3 671.4,1102.5 673,1102C674.6,1101.5 676,1099.8 677.2,1098.3C678.4,1096.9 679.3,1094.8 680.4,1093.1C681.4,1091.4 680.7,1088.6 683.5,1087.9C686.3,1087.2 692.8,1089.4 697.2,1088.9C701.6,1088.4 706.3,1086.3 709.8,1084.7C713.3,1083.1 716,1081.4 718.3,1079.5C720.5,1077.6 722.4,1075.3 723.5,1073.2C724.7,1071.1 725.1,1069.4 725.1,1066.9Z" fill="#ffffff"/>
<g clip-path="url(#c28)" stroke="#41474f" stroke-width="0.8" stroke-linejoin="round">
<path d="M730.9,1004.1L680.4,1004.1L680.4,1018.7L681.4,1026.1L697.2,1033.4L707.7,1041.8L717.2,1054.3L719.3,1066.9L717.2,1076.3L730.9,1108.8Z" fill="#e0e7f3"/>
<path d="M681.4,1026.1L680.4,1035.5L696.2,1046L706.7,1054.3L711.4,1061.7L709.8,1068L700.4,1076.3L701.4,1079.5L717.2,1076.3L719.3,1066.9L717.2,1054.3L707.7,1041.8L697.2,1033.4Z" fill="#e0e7f3"/>
<path d="M680.4,1035.5L671.9,1034.4L667.7,1036L661.4,1033.4L659.3,1050.2L667.7,1050.7L678.3,1053.3L688.8,1058.5L695.1,1065.9L695.1,1069L699.3,1076.3L700.4,1076.3L709.8,1068L711.4,1061.7L706.7,1054.3L696.2,1046Z" fill="#dd5a48"/>
<path d="M680.4,1004.1L661.4,1004.1L661.4,1015.6L663,1022.9L661.4,1033.4L667.7,1036L671.9,1034.4L680.4,1035.5L681.4,1026.1L680.4,1018.7Z" fill="#a7b9dc"/>
<path d="M661.4,1004.1L646.7,1004.1L646.7,1012.5L644.6,1029.7L655.1,1033.4L661.4,1033.4L663,1022.9L661.4,1015.6Z" fill="#8ea7d2"/>
<path d="M646.7,1004.1L631.9,1004.1L632.5,1015.1L631.9,1022.4L642.5,1029.2L644.6,1029.7L646.7,1012.5Z" fill="#9cb1d8"/>
<path d="M661.4,1033.4L655.1,1033.4L644.6,1029.7L642.5,1029.2L641.4,1033.4L626.7,1041.8L629.8,1051.2L631.9,1068L636.2,1069L638.3,1062.7L643.5,1055.4L653,1052.3L659.3,1050.2Z" fill="#cbd6ea"/>
<path d="M631.9,1004.1L583.5,1004.1L583.5,1042.8L604.6,1042.8L612,1049.1L614.1,1054.3L617.7,1060.6L622,1065.9L631.9,1068L629.8,1051.2L626.7,1041.8L641.4,1033.4L642.5,1029.2L631.9,1022.4L632.5,1015.1Z" fill="#f0a597"/>
<path d="M604.6,1042.8L583.5,1042.8L583.5,1058.5L595.1,1058.5L599.3,1059.1L607.7,1056.4L613,1053.3L612,1049.1Z" fill="#e0e7f3"/>
<path d="M617.7,1060.6L612,1059.1L607.7,1056.4L599.3,1059.1L597.2,1064.8L600.4,1072.2L613,1071.1L621.4,1069L622,1065.9Z" fill="#f3f5fa"/>
<path d="M614.1,1054.3L613,1053.3L607.7,1056.4L612,1059.1L617.7,1060.6Z" fill="#d54e3f"/>
<path d="M599.3,1059.1L595.1,1058.5L583.5,1058.5L583.5,1077.4L599.3,1077.4L600.4,1072.2L597.2,1064.8Z" fill="#7b99ca"/>
<path d="M631.9,1068L622,1065.9L621.4,1069L613,1071.1L600.4,1072.2L599.3,1077.4L601.4,1078.6L615.1,1082.8L622.5,1082.1L638.3,1085.8L637.2,1080.5L634.1,1075.3L636.2,1069Z" fill="#fbe8e5"/>
<path d="M622.5,1082.1L615.1,1082.8L601.4,1078.6L599.3,1077.4L583.5,1077.4L583.5,1098.3L621.4,1098.3L621.4,1085.2Z" fill="#cbd6ea"/>
<path d="M638.3,1085.8L622.5,1082.1L621.4,1085.2L621.4,1098.3L638.3,1098.3Z" fill="#fbe8e5"/>
<path d="M637.2,1080.5L638.3,1085.8L638.3,1098.3L653,1103.6L653,1088.9L643.5,1083.7Z" fill="#f4b7ad"/>
<path d="M653,1088.9L653,1103.6L667.7,1108.8L671.9,1100.4L672.5,1097.3L657.2,1091Z" fill="#e0e7f3"/>
<path d="M681.9,1087.9L678.3,1094.1L672.5,1097.3L671.9,1100.4L667.7,1108.8L684.6,1108.8L684.6,1087.9Z" fill="#e0e7f3"/>
<path d="M695.1,1069L691.9,1072.7L683,1073.2L681.9,1087.9L684.6,1087.9L684.6,1108.8L697.2,1108.8L697.2,1088.9L700.4,1079.5L700.4,1076.3L699.3,1076.3Z" fill="#8ea7d2"/>
<path d="M717.2,1076.3L701.4,1079.5L700.4,1079.5L697.2,1088.9L697.2,1108.8L730.9,1108.8Z" fill="#7b99ca"/>
<path d="M695.1,1065.9L688.8,1058.5L678.3,1053.3L667.7,1050.7L659.3,1050.2L653,1052.3L643.5,1055.4L638.3,1062.7L636.2,1069L634.1,1075.3L637.2,1080.5L643.5,1083.7L657.2,1091L672.5,1097.3L678.3,1094.1L681.9,1087.9L683,1073.2L691.9,1072.7L695.1,1069Z" fill="#ffffff"/>
</g>
<path d="M725.1,1066.9C725.1,1064.5 724.7,1061.7 723.5,1058.5C722.4,1055.4 720.5,1051.6 718.3,1048.1C716,1044.6 713.3,1041.1 709.8,1037.6C706.3,1034.1 702.1,1030.3 697.2,1027.1C692.3,1024 686.2,1021.1 680.4,1018.7C674.6,1016.4 667.7,1014.2 662.5,1013C657.2,1011.7 652.8,1011.4 648.8,1011.2C644.8,1011 641.4,1011.1 638.3,1011.6C635.1,1012.2 632.8,1012.8 629.8,1014.6C626.9,1016.3 623.2,1019.3 620.4,1021.9C617.6,1024.5 615.6,1026.8 613,1030.3C610.4,1033.8 607.2,1039 604.6,1042.8C602,1046.7 599.3,1050 597.2,1053.3C595.1,1056.6 593,1060.1 592,1062.7C590.9,1065.3 590.5,1067.1 590.9,1069C591.3,1070.9 592.3,1072.7 594.1,1074.2C595.8,1075.8 597.9,1077 601.4,1078.4C604.9,1079.8 610.2,1081.2 615.1,1082.6C620,1084 627,1085.6 630.9,1086.8C634.8,1088 635.6,1088.9 638.3,1090C640.9,1091 643.5,1091.9 646.7,1093.1C649.8,1094.3 653.7,1095.9 657.2,1097.3C660.7,1098.7 665.1,1100.7 667.7,1101.5C670.4,1102.3 671.4,1102.5 673,1102C674.6,1101.5 676,1099.8 677.2,1098.3C678.4,1096.9 679.3,1094.8 680.4,1093.1C681.4,1091.4 680.7,1088.6 683.5,1087.9C686.3,1087.2 692.8,1089.4 697.2,1088.9C701.6,1088.4 706.3,1086.3 709.8,1084.7C713.3,1083.1 716,1081.4 718.3,1079.5C720.5,1077.6 722.4,1075.3 723.5,1073.2C724.7,1071.1 725.1,1069.4 725.1,1066.9Z" fill="none" stroke="#434951" stroke-width="1.15"/>
<linearGradient id="gc3" x1="0" y1="0" x2="0" y2="1"><stop offset="0.000" stop-color="#df604f"/><stop offset="0.095" stop-color="#ea8876"/><stop offset="0.214" stop-color="#f4b3a7"/><stop offset="0.334" stop-color="#fbdad4"/><stop offset="0.453" stop-color="#ffffff"/><stop offset="0.594" stop-color="#d6ddef"/><stop offset="0.735" stop-color="#a6b7db"/><stop offset="0.876" stop-color="#6f94c8"/><stop offset="1.000" stop-color="#3774b6"/></linearGradient>
<rect x="779" y="1014.9" width="19" height="89.7" fill="url(#gc3)"/>
<path d="M779,1034.1h3.8 M794.2,1034.1h3.8" stroke="#fff" stroke-opacity="0.8" stroke-width="0.8"/>
<text x="803.6" y="1037.9" font-size="10" fill="#1a1a1a">1.04</text>
<path d="M779,1055.5h3.8 M794.2,1055.5h3.8" stroke="#fff" stroke-opacity="0.8" stroke-width="0.8"/>
<text x="803.6" y="1059.3" font-size="10" fill="#1a1a1a">1.00</text>
<path d="M779,1077.7h3.8 M794.2,1077.7h3.8" stroke="#fff" stroke-opacity="0.8" stroke-width="0.8"/>
<text x="803.6" y="1081.5" font-size="10" fill="#1a1a1a">0.96</text>
<path d="M779,1099.8h3.8 M794.2,1099.8h3.8" stroke="#fff" stroke-opacity="0.8" stroke-width="0.8"/>
<text x="803.6" y="1103.6" font-size="10" fill="#1a1a1a">0.92</text>
<text x="779.5" y="1008.7" font-size="12" fill="#1a1a1a">HR</text>
<defs>
<clipPath id="vR"><ellipse cx="1061.5" cy="268.7" rx="184" ry="92" transform="rotate(45 1061.5 268.7)" /></clipPath>
<clipPath id="vB"><ellipse cx="1140.1" cy="227.8" rx="184" ry="92" transform="rotate(45 1140.1 227.8)" /></clipPath>
<clipPath id="vT"><ellipse cx="1154.9" cy="227.8" rx="184" ry="92" transform="rotate(-45 1154.9 227.8)" /></clipPath>
<clipPath id="vO"><ellipse cx="1233.5" cy="268.7" rx="184" ry="92" transform="rotate(-45 1233.5 268.7)" /></clipPath>
</defs>
<ellipse cx="1061.5" cy="268.7" rx="184" ry="92" transform="rotate(45 1061.5 268.7)" fill="#dc8b92"/>
<ellipse cx="1140.1" cy="227.8" rx="184" ry="92" transform="rotate(45 1140.1 227.8)" fill="#86b4d6"/>
<ellipse cx="1154.9" cy="227.8" rx="184" ry="92" transform="rotate(-45 1154.9 227.8)" fill="#88cbc7"/>
<ellipse cx="1233.5" cy="268.7" rx="184" ry="92" transform="rotate(-45 1233.5 268.7)" fill="#f5cc90"/>
<g clip-path="url(#vR)"><ellipse cx="1140.1" cy="227.8" rx="184" ry="92" transform="rotate(45 1140.1 227.8)" fill="#717ca6"/></g>
<g clip-path="url(#vR)"><ellipse cx="1154.9" cy="227.8" rx="184" ry="92" transform="rotate(-45 1154.9 227.8)" fill="#769792"/></g>
<g clip-path="url(#vR)"><ellipse cx="1233.5" cy="268.7" rx="184" ry="92" transform="rotate(-45 1233.5 268.7)" fill="#e99a52"/></g>
<g clip-path="url(#vB)"><ellipse cx="1154.9" cy="227.8" rx="184" ry="92" transform="rotate(-45 1154.9 227.8)" fill="#4ba6b6"/></g>
<g clip-path="url(#vB)"><ellipse cx="1233.5" cy="268.7" rx="184" ry="92" transform="rotate(-45 1233.5 268.7)" fill="#a39a6e"/></g>
<g clip-path="url(#vT)"><ellipse cx="1233.5" cy="268.7" rx="184" ry="92" transform="rotate(-45 1233.5 268.7)" fill="#b7b06c"/></g>
<g clip-path="url(#vR)"><g clip-path="url(#vB)"><ellipse cx="1154.9" cy="227.8" rx="184" ry="92" transform="rotate(-45 1154.9 227.8)" fill="#40899a"/></g></g>
<g clip-path="url(#vR)"><g clip-path="url(#vB)"><ellipse cx="1233.5" cy="268.7" rx="184" ry="92" transform="rotate(-45 1233.5 268.7)" fill="#b38654"/></g></g>
<g clip-path="url(#vR)"><g clip-path="url(#vT)"><ellipse cx="1233.5" cy="268.7" rx="184" ry="92" transform="rotate(-45 1233.5 268.7)" fill="#ab9b56"/></g></g>
<g clip-path="url(#vB)"><g clip-path="url(#vT)"><ellipse cx="1233.5" cy="268.7" rx="184" ry="92" transform="rotate(-45 1233.5 268.7)" fill="#9aa060"/></g></g>
<g clip-path="url(#vR)"><g clip-path="url(#vB)"><g clip-path="url(#vT)"><ellipse cx="1233.5" cy="268.7" rx="184" ry="92" transform="rotate(-45 1233.5 268.7)" fill="#8e8c54"/></g></g></g>
<ellipse cx="1061.5" cy="268.7" rx="184" ry="92" transform="rotate(45 1061.5 268.7)" fill="none" stroke="#ffffff" stroke-width="1.6"/>
<ellipse cx="1140.1" cy="227.8" rx="184" ry="92" transform="rotate(45 1140.1 227.8)" fill="none" stroke="#ffffff" stroke-width="1.6"/>
<ellipse cx="1154.9" cy="227.8" rx="184" ry="92" transform="rotate(-45 1154.9 227.8)" fill="none" stroke="#ffffff" stroke-width="1.6"/>
<ellipse cx="1233.5" cy="268.7" rx="184" ry="92" transform="rotate(-45 1233.5 268.7)" fill="none" stroke="#ffffff" stroke-width="1.6"/>
<g font-size="13" fill="#1a1a1a" text-anchor="middle">
<text x="1073.8" y="116.5">0</text><text x="1073.8" y="135.6">(0.0%)</text>
<text x="1221" y="116.5">10</text><text x="1221" y="135.6">(23.8%)</text>
<text x="1036.9" y="165.4">4</text><text x="1036.9" y="184.5">(9.5%)</text>
<text x="1147.4" y="153.5">0</text><text x="1147.4" y="172.6">(0.0%)</text>
<text x="1258" y="165.4">0</text><text x="1258" y="184.5">(0.0%)</text>
<text x="963.5" y="202.2">1</text><text x="963.5" y="221.3">(2.4%)</text>
<text x="1331.5" y="202.2">3</text><text x="1331.5" y="221.3">(7.1%)</text>
<text x="1086.2" y="227.2">0</text><text x="1086.2" y="246.3">(0.0%)</text>
<text x="1209" y="227.2">0</text><text x="1209" y="246.3">(0.0%)</text>
<text x="1147.8" y="288.8">9</text><text x="1147.8" y="307.9">(21.4%)</text>
<text x="1049.2" y="313.2">4</text><text x="1049.2" y="332.3">(9.5%)</text>
<text x="1246" y="313.2">0</text><text x="1246" y="332.3">(0.0%)</text>
<text x="1111" y="338.2">6</text><text x="1111" y="357.3">(14.3%)</text>
<text x="1184.7" y="338.2">0</text><text x="1184.7" y="357.3">(0.0%)</text>
<text x="1147.8" y="374.7">5</text><text x="1147.8" y="393.8">(11.9%)</text>
</g>
<text x="927" y="75" font-size="20" fill="#2a6fa9" xml:space="preserve">Affective  symptom</text>
<text x="1180.8" y="75" font-size="20" fill="#2b9c93" xml:space="preserve">Anxiety  symptom</text>
<text x="887.5" y="342" font-size="20" fill="#b22f3a">Total</text>
<text x="887.5" y="366" font-size="20" fill="#b22f3a">psychological</text>
<text x="887.5" y="390" font-size="20" fill="#b22f3a">score</text>
<text x="1318.7" y="338.5" font-size="20" fill="#e8a13a">Emotional</text>
<text x="1322.9" y="362.5" font-size="20" fill="#e8a13a">instability</text>
<text x="1326.2" y="386.5" font-size="20" fill="#e8a13a">symptom</text>
<rect x="890" y="436" width="503.7" height="179" rx="18" ry="18" fill="#b3d0e6"/>
<rect x="896.8" y="478" width="482.8" height="130" fill="#ffffff"/>
<text x="1139.5" y="465.9" font-size="20" fill="#222" text-anchor="middle">Intersection of brain structure</text>
<text x="912.8" y="505" font-size="16" fill="#222" text-anchor="middle">•</text>
<text x="940" y="505.3" font-size="16.7" fill="#222">Frontal medial cortex (left)</text>
<text x="912.8" y="527.9" font-size="16" fill="#222" text-anchor="middle">•</text>
<text x="940" y="528.2" font-size="16.7" fill="#222">Subcallosal cortex (left)</text>
<text x="912.8" y="550.9" font-size="16" fill="#222" text-anchor="middle">•</text>
<text x="940" y="551.2" font-size="16.7" fill="#222">Subcallosal cortex (right)</text>
<text x="912.8" y="574.5" font-size="16" fill="#222" text-anchor="middle">•</text>
<text x="940" y="574.8" font-size="16.7" fill="#222">Paracingulate gyrus (right)</text>
<text x="912.8" y="597.9" font-size="16" fill="#222" text-anchor="middle">•</text>
<text x="940" y="598.2" font-size="16.7" fill="#222">Frontal operculum cortex (left)</text>
<text x="1212" y="505" font-size="16" fill="#222" text-anchor="middle">•</text>
<text x="1239.6" y="505.3" font-size="16.7" fill="#222">Caudate (left)</text>
<text x="1212" y="527.9" font-size="16" fill="#222" text-anchor="middle">•</text>
<text x="1239.6" y="528.2" font-size="16.7" fill="#222">Caudate (right)</text>
<text x="1212" y="550.9" font-size="16" fill="#222" text-anchor="middle">•</text>
<text x="1239.6" y="551.2" font-size="16.7" fill="#222">Putamen (left)</text>
<text x="1212" y="574.5" font-size="16" fill="#222" text-anchor="middle">•</text>
<text x="1239.6" y="574.8" font-size="16.7" fill="#222">Putamen (right)</text>
<defs>
<clipPath id="dR"><circle cx="1097.9" cy="728.2" r="80" /></clipPath>
<clipPath id="dB"><circle cx="1205.8" cy="728.2" r="80" /></clipPath>
<clipPath id="dT"><circle cx="1151.6" cy="827" r="80" /></clipPath>
</defs>
<circle cx="1097.9" cy="728.2" r="80" fill="#dc8b92"/>
<circle cx="1205.8" cy="728.2" r="80" fill="#86b4d6"/>
<circle cx="1151.6" cy="827" r="80" fill="#88cbc7"/>
<g clip-path="url(#dR)"><circle cx="1205.8" cy="728.2" r="80" fill="#717ca6"/></g>
<g clip-path="url(#dR)"><circle cx="1151.6" cy="827" r="80" fill="#6f9691"/></g>
<g clip-path="url(#dB)"><circle cx="1151.6" cy="827" r="80" fill="#47a4b4"/></g>
<g clip-path="url(#dR)"><g clip-path="url(#dB)"><circle cx="1151.6" cy="827" r="80" fill="#3b8996"/></g></g>
<circle cx="1097.9" cy="728.2" r="80" fill="none" stroke="#ffffff" stroke-width="1.5"/>
<circle cx="1205.8" cy="728.2" r="80" fill="none" stroke="#ffffff" stroke-width="1.5"/>
<circle cx="1151.6" cy="827" r="80" fill="none" stroke="#ffffff" stroke-width="1.5"/>
<g font-size="11.6" fill="#1a1a1a" text-anchor="middle">
<text x="1084.8" y="724.2">1</text><text x="1088.6" y="736.5">(3.3%)</text>
<text x="1149" y="710.1">2</text><text x="1153.5" y="722.4">(6.7%)</text>
<text x="1215.2" y="724.2">10</text><text x="1219" y="736.5">(33.3%)</text>
<text x="1149" y="757.9">8</text><text x="1154.3" y="770.2">(26.7%)</text>
<text x="1108.7" y="774.3">4</text><text x="1113.8" y="786.6">(13.3%)</text>
<text x="1189.3" y="774.3">0</text><text x="1193.8" y="786.6">(0.0%)</text>
<text x="1149" y="824.1">5</text><text x="1154.3" y="836.4">(16.7%)</text>
</g>
<text x="918.4" y="692" font-size="20" fill="#b22f3a">Psychiatric</text>
<text x="918.4" y="715.6" font-size="20" fill="#b22f3a">disorders</text>
<text x="1301.2" y="692" font-size="20" fill="#2a6fa9">Anxiety</text>
<text x="1233.7" y="857" font-size="20" fill="#2b9c93">Depression</text>
<rect x="890" y="935.3" width="503.7" height="179.7" rx="18" ry="18" fill="#b3d0e6"/>
<rect x="899.8" y="978.5" width="482.4" height="129.5" fill="#ffffff"/>
<text x="1142" y="965.4" font-size="20" fill="#222" text-anchor="middle">Intersection of brain structure</text>
<text x="915.9" y="1010.7" font-size="16" fill="#222" text-anchor="middle">•</text>
<text x="942.6" y="1011" font-size="16.7" fill="#222">Temporal fusiform cortex (left)</text>
<text x="915.9" y="1034.1" font-size="16" fill="#222" text-anchor="middle">•</text>
<text x="942.6" y="1034.4" font-size="16.7" fill="#222">Amygdala (left)</text>
<text x="915.9" y="1057.8" font-size="16" fill="#222" text-anchor="middle">•</text>
<text x="942.6" y="1058.1" font-size="16.7" fill="#222">Amygdala (right)</text>
<text x="915.9" y="1081.1" font-size="16" fill="#222" text-anchor="middle">•</text>
<text x="942.6" y="1081.4" font-size="16.7" fill="#222">VIIIa Cerebellum (right)</text>
<text x="1177" y="1010.7" font-size="16" fill="#222" text-anchor="middle">•</text>
<text x="1204.5" y="1011" font-size="16.7" fill="#222">VIIIb Cerebellum (left)</text>
<text x="1177" y="1034.1" font-size="16" fill="#222" text-anchor="middle">•</text>
<text x="1204.5" y="1034.4" font-size="16.7" fill="#222">VIIIb Cerebellum (right)</text>
<text x="1177" y="1057.8" font-size="16" fill="#222" text-anchor="middle">•</text>
<text x="1204.5" y="1058.1" font-size="16.7" fill="#222">IX Cerebellum (left)</text>
<text x="1177" y="1081.1" font-size="16" fill="#222" text-anchor="middle">•</text>
<text x="1204.5" y="1081.4" font-size="16.7" fill="#222">IX Cerebellum (right)</text>
</svg>
</body></html>
